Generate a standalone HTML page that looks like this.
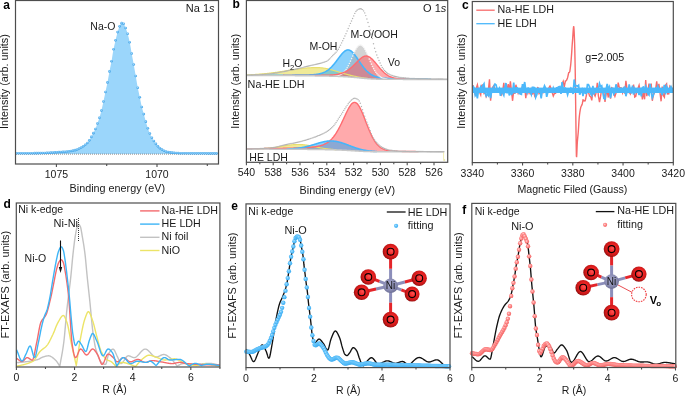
<!DOCTYPE html><html><head><meta charset="utf-8"><style>html,body{margin:0;padding:0;background:#fff;}svg{display:block;will-change:transform;font-family:"Liberation Sans",sans-serif;}</style></head><body>
<svg width="685" height="396" viewBox="0 0 685 396">
<rect width="685" height="396" fill="#fff"/>
<defs>
<radialGradient id="om" cx="0.55" cy="0.45" r="0.6" fx="0.56" fy="0.44"><stop offset="0" stop-color="#ff5252"/><stop offset="0.4" stop-color="#f02424"/><stop offset="0.75" stop-color="#c81818"/><stop offset="1" stop-color="#7e0c0c"/></radialGradient>
<radialGradient id="nim" cx="0.45" cy="0.4" r="0.62"><stop offset="0" stop-color="#a9abd0"/><stop offset="0.6" stop-color="#8d8fb6"/><stop offset="1" stop-color="#6a6c92"/></radialGradient>
<radialGradient id="ad" cx="0.45" cy="0.42" r="0.58"><stop offset="0" stop-color="#a6dbff"/><stop offset="0.6" stop-color="#5cb3ee"/><stop offset="1" stop-color="#3e9fe4"/></radialGradient>
<radialGradient id="bd" cx="0.42" cy="0.4" r="0.6"><stop offset="0" stop-color="#aee0ff"/><stop offset="0.45" stop-color="#60c2fa"/><stop offset="1" stop-color="#3cacf2"/></radialGradient>
<radialGradient id="pd" cx="0.42" cy="0.4" r="0.6"><stop offset="0" stop-color="#ffd6d6"/><stop offset="0.45" stop-color="#ff8c8c"/><stop offset="1" stop-color="#f26464"/></radialGradient>
</defs>
<text x="3.3" y="8.7" font-size="12" text-anchor="start" font-weight="bold" fill="#000" >a</text>
<path d="M16,154 L16,153.3 L16.5,153.29 L17,153.29 L17.5,153.28 L18,153.28 L18.5,153.28 L19,153.27 L19.5,153.27 L20,153.27 L20.5,153.26 L21,153.26 L21.5,153.26 L22,153.26 L22.5,153.25 L23,153.25 L23.5,153.25 L24,153.24 L24.5,153.24 L25,153.24 L25.5,153.23 L26,153.23 L26.5,153.23 L27,153.22 L27.5,153.22 L28,153.22 L28.5,153.21 L29,153.21 L29.5,153.21 L30,153.2 L30.5,153.2 L31,153.2 L31.5,153.19 L32,153.19 L32.5,153.18 L33,153.18 L33.5,153.18 L34,153.17 L34.5,153.17 L35,153.16 L35.5,153.16 L36,153.15 L36.5,153.15 L37,153.14 L37.5,153.13 L38,153.13 L38.5,153.12 L39,153.11 L39.5,153.11 L40,153.1 L40.5,153.09 L41,153.08 L41.5,153.07 L42,153.06 L42.5,153.04 L43,153.02 L43.5,153.01 L44,152.99 L44.5,152.97 L45,152.94 L45.5,152.92 L46,152.89 L46.5,152.87 L47,152.84 L47.5,152.81 L48,152.79 L48.5,152.76 L49,152.73 L49.5,152.69 L50,152.66 L50.5,152.63 L51,152.6 L51.5,152.56 L52,152.53 L52.5,152.5 L53,152.46 L53.5,152.43 L54,152.39 L54.5,152.36 L55,152.33 L55.5,152.29 L56,152.26 L56.5,152.22 L57,152.19 L57.5,152.16 L58,152.12 L58.5,152.09 L59,152.06 L59.5,152.03 L60,152 L60.5,151.97 L61,151.94 L61.5,151.91 L62,151.89 L62.5,151.86 L63,151.83 L63.5,151.8 L64,151.77 L64.5,151.74 L65,151.7 L65.5,151.67 L66,151.63 L66.5,151.58 L67,151.53 L67.5,151.48 L68,151.42 L68.5,151.36 L69,151.29 L69.5,151.22 L70,151.14 L70.5,151.06 L71,150.98 L71.5,150.9 L72,150.81 L72.5,150.72 L73,150.63 L73.5,150.53 L74,150.42 L74.5,150.31 L75,150.19 L75.5,150.06 L76,149.92 L76.5,149.77 L77,149.59 L77.5,149.38 L78,149.14 L78.5,148.89 L79,148.63 L79.5,148.37 L80,148.1 L80.5,147.84 L81,147.58 L81.5,147.31 L82,147.02 L82.5,146.72 L83,146.41 L83.5,146.09 L84,145.74 L84.5,145.38 L85,145 L85.5,144.6 L86,144.17 L86.5,143.7 L87,143.2 L87.5,142.66 L88,142.06 L88.5,141.42 L89,140.73 L89.5,140 L90,139.2 L90.5,138.34 L91,137.45 L91.5,136.57 L92,135.67 L92.5,134.74 L93,133.79 L93.5,132.81 L94,131.82 L94.5,130.79 L95,129.71 L95.5,128.56 L96,127.29 L96.5,125.94 L97,124.55 L97.5,123.18 L98,121.84 L98.5,120.46 L99,119.03 L99.5,117.48 L100,115.82 L100.5,114.04 L101,112.17 L101.5,110.2 L102,108.07 L102.5,105.81 L103,103.49 L103.5,101.17 L104,98.81 L104.5,96.42 L105,94.03 L105.5,91.66 L106,89.35 L106.5,87.04 L107,84.67 L107.5,82.19 L108,79.52 L108.5,76.74 L109,73.95 L109.5,71.28 L110,68.77 L110.5,66.32 L111,63.84 L111.5,61.2 L112,58.25 L112.5,55.09 L113,52.05 L113.5,49.39 L114,47 L114.5,44.77 L115,42.63 L115.5,40.5 L116,38.33 L116.5,36.18 L117,34.13 L117.5,32.3 L118,30.64 L118.5,29.09 L119,27.69 L119.5,26.5 L120,25.43 L120.5,24.46 L121,23.71 L121.5,23.24 L122,22.91 L122.5,22.81 L123,23.11 L123.5,23.61 L124,24.35 L124.5,25.35 L125,26.51 L125.5,27.7 L126,28.92 L126.5,30.23 L127,31.67 L127.5,33.23 L128,34.96 L128.5,36.91 L129,39.06 L129.5,41.36 L130,43.81 L130.5,46.58 L131,49.53 L131.5,52.44 L132,55.19 L132.5,57.89 L133,60.58 L133.5,63.29 L134,66.08 L134.5,68.91 L135,71.77 L135.5,74.65 L136,77.56 L136.5,80.57 L137,83.55 L137.5,86.37 L138,88.92 L138.5,91.3 L139,93.59 L139.5,95.88 L140,98.28 L140.5,100.83 L141,103.37 L141.5,105.74 L142,107.79 L142.5,109.61 L143,111.31 L143.5,112.99 L144,114.77 L144.5,116.64 L145,118.55 L145.5,120.42 L146,122.2 L146.5,123.94 L147,125.61 L147.5,127.2 L148,128.67 L148.5,130.07 L149,131.38 L149.5,132.63 L150,133.79 L150.5,134.91 L151,135.97 L151.5,136.97 L152,137.9 L152.5,138.76 L153,139.55 L153.5,140.31 L154,141.05 L154.5,141.8 L155,142.55 L155.5,143.28 L156,143.98 L156.5,144.63 L157,145.25 L157.5,145.84 L158,146.4 L158.5,146.91 L159,147.36 L159.5,147.79 L160,148.2 L160.5,148.57 L161,148.93 L161.5,149.27 L162,149.59 L162.5,149.91 L163,150.21 L163.5,150.49 L164,150.73 L164.5,150.94 L165,151.12 L165.5,151.3 L166,151.46 L166.5,151.62 L167,151.76 L167.5,151.89 L168,152.01 L168.5,152.11 L169,152.2 L169.5,152.28 L170,152.36 L170.5,152.43 L171,152.5 L171.5,152.57 L172,152.63 L172.5,152.69 L173,152.74 L173.5,152.79 L174,152.83 L174.5,152.87 L175,152.9 L175.5,152.93 L176,152.96 L176.5,152.99 L177,153.02 L177.5,153.05 L178,153.07 L178.5,153.1 L179,153.12 L179.5,153.15 L180,153.17 L180.5,153.19 L181,153.21 L181.5,153.23 L182,153.24 L182.5,153.26 L183,153.27 L183.5,153.28 L184,153.29 L184.5,153.3 L185,153.3 L185.5,153.3 L186,153.31 L186.5,153.31 L187,153.31 L187.5,153.32 L188,153.32 L188.5,153.32 L189,153.32 L189.5,153.33 L190,153.33 L190.5,153.33 L191,153.33 L191.5,153.33 L192,153.34 L192.5,153.34 L193,153.34 L193.5,153.34 L194,153.34 L194.5,153.35 L195,153.35 L195.5,153.35 L196,153.35 L196.5,153.35 L197,153.35 L197.5,153.35 L198,153.36 L198.5,153.36 L199,153.36 L199.5,153.36 L200,153.36 L200.5,153.36 L201,153.36 L201.5,153.36 L202,153.37 L202.5,153.37 L203,153.37 L203.5,153.37 L204,153.37 L204.5,153.37 L205,153.37 L205.5,153.37 L206,153.37 L206.5,153.37 L207,153.37 L207.5,153.38 L208,153.38 L208.5,153.38 L209,153.38 L209.5,153.38 L210,153.38 L210.5,153.38 L211,153.38 L211.5,153.38 L212,153.38 L212.5,153.39 L213,153.39 L213.5,153.39 L214,153.39 L214.5,153.39 L215,153.39 L215.5,153.39 L216,153.39 L216.5,153.39 L217,153.4 L217.5,153.4 L218,153.4 L218,154Z" fill="#9bd6fb"/>
<line x1="16" y1="154.1" x2="218" y2="154.1" stroke="#8a8a8a" stroke-width="1" stroke-dasharray="1 1"/>
<g fill="url(#ad)"><circle cx="16.56" cy="153.29" r="1.3"/><circle cx="18.58" cy="153.28" r="1.3"/><circle cx="20.6" cy="153.26" r="1.3"/><circle cx="22.62" cy="153.25" r="1.3"/><circle cx="24.64" cy="153.24" r="1.3"/><circle cx="26.66" cy="153.23" r="1.3"/><circle cx="28.68" cy="153.21" r="1.3"/><circle cx="30.7" cy="153.2" r="1.3"/><circle cx="32.72" cy="153.18" r="1.3"/><circle cx="34.74" cy="153.16" r="1.3"/><circle cx="36.76" cy="153.14" r="1.3"/><circle cx="38.78" cy="153.12" r="1.3"/><circle cx="40.8" cy="153.09" r="1.3"/><circle cx="42.82" cy="153.03" r="1.3"/><circle cx="44.84" cy="152.95" r="1.3"/><circle cx="46.86" cy="152.85" r="1.3"/><circle cx="48.88" cy="152.73" r="1.3"/><circle cx="50.9" cy="152.6" r="1.3"/><circle cx="52.92" cy="152.47" r="1.3"/><circle cx="54.94" cy="152.33" r="1.3"/><circle cx="56.96" cy="152.19" r="1.3"/><circle cx="58.98" cy="152.06" r="1.3"/><circle cx="61" cy="151.94" r="1.3"/><circle cx="63.02" cy="151.83" r="1.3"/><circle cx="65.04" cy="151.7" r="1.3"/><circle cx="67.06" cy="151.53" r="1.3"/><circle cx="69.08" cy="151.28" r="1.3"/><circle cx="71.1" cy="150.96" r="1.3"/><circle cx="73.12" cy="150.6" r="1.3"/><circle cx="75.14" cy="150.16" r="1.3"/><circle cx="77.16" cy="149.52" r="1.3"/><circle cx="79.18" cy="148.54" r="1.3"/><circle cx="81.2" cy="147.47" r="1.3"/><circle cx="83.22" cy="146.27" r="1.3"/><circle cx="85.24" cy="144.81" r="1.3"/><circle cx="87.26" cy="142.93" r="1.3"/><circle cx="89.28" cy="140.33" r="1.3"/><circle cx="91.3" cy="136.92" r="1.3"/><circle cx="93.32" cy="133.16" r="1.3"/><circle cx="95.34" cy="128.94" r="1.3"/><circle cx="97.36" cy="123.56" r="1.3"/><circle cx="99.38" cy="117.86" r="1.3"/><circle cx="101.4" cy="110.6" r="1.3"/><circle cx="103.42" cy="101.55" r="1.3"/><circle cx="105.44" cy="91.94" r="1.3"/><circle cx="107.46" cy="82.39" r="1.3"/><circle cx="109.48" cy="71.38" r="1.3"/><circle cx="111.5" cy="61.2" r="1.3"/><circle cx="113.52" cy="49.29" r="1.3"/><circle cx="115.54" cy="40.33" r="1.3"/><circle cx="117.56" cy="32.1" r="1.3"/><circle cx="119.58" cy="26.33" r="1.3"/><circle cx="121.6" cy="23.16" r="1.3"/><circle cx="123.62" cy="23.75" r="1.3"/><circle cx="125.64" cy="28.03" r="1.3"/><circle cx="127.66" cy="33.76" r="1.3"/><circle cx="129.68" cy="42.22" r="1.3"/><circle cx="131.7" cy="53.55" r="1.3"/><circle cx="133.72" cy="64.51" r="1.3"/><circle cx="135.74" cy="76.03" r="1.3"/><circle cx="137.76" cy="87.73" r="1.3"/><circle cx="139.78" cy="97.2" r="1.3"/><circle cx="141.8" cy="107.01" r="1.3"/><circle cx="143.82" cy="114.11" r="1.3"/><circle cx="145.84" cy="121.64" r="1.3"/><circle cx="147.86" cy="128.27" r="1.3"/><circle cx="149.88" cy="133.52" r="1.3"/><circle cx="151.9" cy="137.72" r="1.3"/><circle cx="153.92" cy="140.93" r="1.3"/><circle cx="155.94" cy="143.89" r="1.3"/><circle cx="157.96" cy="146.35" r="1.3"/><circle cx="159.98" cy="148.18" r="1.3"/><circle cx="162" cy="149.59" r="1.3"/><circle cx="164.02" cy="150.74" r="1.3"/><circle cx="166.04" cy="151.48" r="1.3"/><circle cx="168.06" cy="152.02" r="1.3"/><circle cx="170.08" cy="152.37" r="1.3"/><circle cx="172.1" cy="152.64" r="1.3"/><circle cx="174.12" cy="152.84" r="1.3"/><circle cx="176.14" cy="152.97" r="1.3"/><circle cx="178.16" cy="153.08" r="1.3"/><circle cx="180.18" cy="153.18" r="1.3"/><circle cx="182.2" cy="153.25" r="1.3"/><circle cx="184.22" cy="153.29" r="1.3"/><circle cx="186.24" cy="153.31" r="1.3"/><circle cx="188.26" cy="153.32" r="1.3"/><circle cx="190.28" cy="153.33" r="1.3"/><circle cx="192.3" cy="153.34" r="1.3"/><circle cx="194.32" cy="153.35" r="1.3"/><circle cx="196.34" cy="153.35" r="1.3"/><circle cx="198.36" cy="153.36" r="1.3"/><circle cx="200.38" cy="153.36" r="1.3"/><circle cx="202.4" cy="153.37" r="1.3"/><circle cx="204.42" cy="153.37" r="1.3"/><circle cx="206.44" cy="153.37" r="1.3"/><circle cx="208.46" cy="153.38" r="1.3"/><circle cx="210.48" cy="153.38" r="1.3"/><circle cx="212.5" cy="153.39" r="1.3"/><circle cx="214.52" cy="153.39" r="1.3"/><circle cx="216.54" cy="153.39" r="1.3"/></g>
<rect x="15.5" y="0.5" width="203" height="163.5" fill="none" stroke="#4d4d4d" stroke-width="1.2"/>
<path d="M56.4,164v3M157,164v3" stroke="#4d4d4d" stroke-width="1.1" fill="none"/>
<path d="M106.7,164v2M207.3,164v2" stroke="#4d4d4d" stroke-width="1.1" fill="none"/>
<text x="56.4" y="177.6" font-size="10.5" text-anchor="middle" font-weight="normal" fill="#1a1a1a" >1075</text>
<text x="157" y="177.6" font-size="10.5" text-anchor="middle" font-weight="normal" fill="#1a1a1a" >1070</text>
<text x="117.3" y="191.6" font-size="10.8" text-anchor="middle" font-weight="normal" fill="#1a1a1a" >Binding energy (eV)</text>
<text transform="translate(8.1,81.6) rotate(-90)" font-size="10.8" text-anchor="middle" fill="#1a1a1a">Intensity (arb. units)</text>
<text x="90.3" y="30.2" font-size="10.5" text-anchor="start" font-weight="normal" fill="#1a1a1a" >Na-O</text>
<text x="214.6" y="11.7" font-size="11" text-anchor="end" font-weight="normal" fill="#1a1a1a" >Na 1<tspan font-style="italic">s</tspan></text>
<text x="232.5" y="8.3" font-size="12" text-anchor="start" font-weight="bold" fill="#000" >b</text>
<path d="M247,74.9 L247.5,74.88 L248,74.86 L248.5,74.84 L249,74.81 L249.5,74.79 L250,74.77 L250.5,74.74 L251,74.72 L251.5,74.69 L252,74.67 L252.5,74.64 L253,74.61 L253.5,74.59 L254,74.56 L254.5,74.53 L255,74.5 L255.5,74.47 L256,74.43 L256.5,74.4 L257,74.37 L257.5,74.33 L258,74.29 L258.5,74.26 L259,74.22 L259.5,74.18 L260,74.14 L260.5,74.1 L261,74.06 L261.5,74.02 L262,73.97 L262.5,73.93 L263,73.88 L263.5,73.84 L264,73.79 L264.5,73.74 L265,73.69 L265.5,73.64 L266,73.59 L266.5,73.54 L267,73.49 L267.5,73.43 L268,73.38 L268.5,73.32 L269,73.26 L269.5,73.2 L270,73.15 L270.5,73.09 L271,73.02 L271.5,72.96 L272,72.9 L272.5,72.84 L273,72.77 L273.5,72.71 L274,72.64 L274.5,72.57 L275,72.5 L275.5,72.44 L276,72.37 L276.5,72.3 L277,72.22 L277.5,72.15 L278,72.08 L278.5,72.01 L279,71.93 L279.5,71.86 L280,71.78 L280.5,71.71 L281,71.63 L281.5,71.55 L282,71.48 L282.5,71.4 L283,71.32 L283.5,71.24 L284,71.16 L284.5,71.08 L285,71.01 L285.5,70.93 L286,70.85 L286.5,70.77 L287,70.69 L287.5,70.61 L288,70.53 L288.5,70.45 L289,70.37 L289.5,70.29 L290,70.21 L290.5,70.13 L291,70.05 L291.5,69.97 L292,69.9 L292.5,69.82 L293,69.74 L293.5,69.67 L294,69.59 L294.5,69.51 L295,69.44 L295.5,69.37 L296,69.29 L296.5,69.22 L297,69.15 L297.5,69.08 L298,69.01 L298.5,68.94 L299,68.88 L299.5,68.81 L300,68.75 L300.5,68.69 L301,68.62 L301.5,68.56 L302,68.5 L302.5,68.45 L303,68.39 L303.5,68.34 L304,68.29 L304.5,68.23 L305,68.19 L305.5,68.14 L306,68.09 L306.5,68.05 L307,68.01 L307.5,67.97 L308,67.93 L308.5,67.89 L309,67.86 L309.5,67.83 L310,67.8 L310.5,67.77 L311,67.74 L311.5,67.72 L312,67.7 L312.5,67.68 L313,67.66 L313.5,67.65 L314,67.64 L314.5,67.63 L315,67.62 L315.5,67.62 L316,67.61 L316.5,67.61 L317,67.61 L317.5,67.62 L318,67.63 L318.5,67.64 L319,67.65 L319.5,67.68 L320,67.71 L320.5,67.74 L321,67.78 L321.5,67.83 L322,67.88 L322.5,67.94 L323,68.01 L323.5,68.08 L324,68.15 L324.5,68.23 L325,68.32 L325.5,68.41 L326,68.5 L326.5,68.6 L327,68.71 L327.5,68.82 L328,68.93 L328.5,69.05 L329,69.17 L329.5,69.29 L330,69.42 L330.5,69.55 L331,69.69 L331.5,69.82 L332,69.96 L332.5,70.1 L333,70.25 L333.5,70.39 L334,70.54 L334.5,70.69 L335,70.84 L335.5,70.99 L336,71.14 L336.5,71.29 L337,71.45 L337.5,71.6 L338,71.76 L338.5,71.91 L339,72.06 L339.5,72.22 L340,72.37 L340.5,72.52 L341,72.67 L341.5,72.82 L342,72.97 L342.5,73.12 L343,73.27 L343.5,73.42 L344,73.56 L344.5,73.71 L345,73.85 L345.5,73.99 L346,74.13 L346.5,74.27 L347,74.41 L347.5,74.54 L348,74.67 L348.5,74.81 L349,74.94 L349.5,75.06 L350,75.19 L350.5,75.31 L351,75.44 L351.5,75.56 L352,75.68 L352.5,75.79 L353,75.91 L353.5,76.02 L354,76.13 L354.5,76.25 L355,76.35 L355.5,76.46 L356,76.56 L356.5,76.67 L357,76.77 L357.5,76.87 L358,76.97 L358.5,77.06 L359,77.15 L359.5,77.25 L360,77.33 L360.5,77.42 L361,77.51 L361.5,77.59 L362,77.67 L362.5,77.75 L363,77.83 L363.5,77.9 L364,77.97 L364.5,78.04 L365,78.11 L365.5,78.18 L366,78.24 L366.5,78.3 L367,78.36 L367.5,78.42 L368,78.47 L368.5,78.52 L369,78.57 L369.5,78.62 L370,78.66 L370.5,78.71 L371,78.75 L371.5,78.79 L372,78.82 L372.5,78.86 L373,78.89 L373.5,78.92 L374,78.95 L374.5,78.98 L375,79.01 L375.5,79.03 L376,79.06 L376.5,79.08 L377,79.1 L377.5,79.12 L378,79.14 L378.5,79.15 L379,79.17 L379.5,79.18 L380,79.2 L380.5,79.21 L381,79.22 L381.5,79.23 L382,79.24 L382.5,79.25 L383,79.26 L383.5,79.27 L384,79.28 L384.5,79.29 L385,79.29 L385.5,79.3 L386,79.31 L386.5,79.31 L387,79.32 L387.5,79.32 L388,79.33 L388.5,79.33 L389,79.33 L389.5,79.34 L390,79.34 L390.5,79.34 L391,79.34 L391.5,79.35 L392,79.35 L392.5,79.35 L393,79.35 L393.5,79.36 L394,79.36 L394.5,79.36 L395,79.36 L395.5,79.36 L396,79.36 L396.5,79.36 L397,79.37 L397.5,79.37 L398,79.37 L398.5,79.37 L399,79.37 L399.5,79.37 L400,79.37 L400.5,79.37 L401,79.37 L401.5,79.37 L402,79.37 L402.5,79.37 L403,79.38 L403.5,79.38 L404,79.38 L404.5,79.38 L405,79.38 L405.5,79.38 L406,79.38 L406.5,79.38 L407,79.38 L407.5,79.38 L408,79.38 L408.5,79.38 L409,79.38 L409.5,79.38 L410,79.38 L410.5,79.38 L411,79.38 L411.5,79.38 L412,79.38 L412.5,79.38 L413,79.38 L413.5,79.38 L414,79.39 L414.5,79.39 L415,79.39 L415.5,79.39 L416,79.39 L416.5,79.39 L417,79.39 L417.5,79.39 L418,79.39 L418.5,79.39 L419,79.39 L419.5,79.39 L420,79.39 L420.5,79.39 L421,79.39 L421.5,79.39 L422,79.39 L422.5,79.39 L423,79.39 L423.5,79.39 L424,79.39 L424.5,79.39 L425,79.39 L425.5,79.39 L426,79.39 L426.5,79.39 L427,79.39 L427.5,79.39 L428,79.39 L428.5,79.39 L429,79.39 L429.5,79.39 L430,79.39 L430.5,79.39 L431,79.39 L431.5,79.39 L432,79.39 L432.5,79.39 L433,79.4 L433.5,79.4 L434,79.4 L434.5,79.4 L435,79.4 L435.5,79.4 L436,79.4 L436.5,79.4 L437,79.4 L437.5,79.4 L438,79.4 L438.5,79.4 L439,79.4 L439.5,79.4 L440,79.4 L440.5,79.4 L441,79.4 L441.5,79.4 L442,79.4 L442.5,79.4 L443,79.4 L443.5,79.4 L444,79.4 L444.5,79.4 L445,79.4 L445.5,79.4 L446,79.4 L446.5,79.4 L447,79.4 L447,79.4 L446.5,79.4 L446,79.4 L445.5,79.4 L445,79.4 L444.5,79.4 L444,79.4 L443.5,79.4 L443,79.4 L442.5,79.4 L442,79.4 L441.5,79.4 L441,79.4 L440.5,79.4 L440,79.4 L439.5,79.4 L439,79.4 L438.5,79.4 L438,79.4 L437.5,79.4 L437,79.4 L436.5,79.4 L436,79.4 L435.5,79.4 L435,79.4 L434.5,79.4 L434,79.4 L433.5,79.4 L433,79.4 L432.5,79.39 L432,79.39 L431.5,79.39 L431,79.39 L430.5,79.39 L430,79.39 L429.5,79.39 L429,79.39 L428.5,79.39 L428,79.39 L427.5,79.39 L427,79.39 L426.5,79.39 L426,79.39 L425.5,79.39 L425,79.39 L424.5,79.39 L424,79.39 L423.5,79.39 L423,79.39 L422.5,79.39 L422,79.39 L421.5,79.39 L421,79.39 L420.5,79.39 L420,79.39 L419.5,79.39 L419,79.39 L418.5,79.39 L418,79.39 L417.5,79.39 L417,79.39 L416.5,79.39 L416,79.39 L415.5,79.39 L415,79.39 L414.5,79.39 L414,79.39 L413.5,79.38 L413,79.38 L412.5,79.38 L412,79.38 L411.5,79.38 L411,79.38 L410.5,79.38 L410,79.38 L409.5,79.38 L409,79.38 L408.5,79.38 L408,79.38 L407.5,79.38 L407,79.38 L406.5,79.38 L406,79.38 L405.5,79.38 L405,79.38 L404.5,79.38 L404,79.38 L403.5,79.38 L403,79.38 L402.5,79.37 L402,79.37 L401.5,79.37 L401,79.37 L400.5,79.37 L400,79.37 L399.5,79.37 L399,79.37 L398.5,79.37 L398,79.37 L397.5,79.37 L397,79.37 L396.5,79.37 L396,79.36 L395.5,79.36 L395,79.36 L394.5,79.36 L394,79.36 L393.5,79.36 L393,79.36 L392.5,79.35 L392,79.35 L391.5,79.35 L391,79.35 L390.5,79.35 L390,79.34 L389.5,79.34 L389,79.34 L388.5,79.33 L388,79.33 L387.5,79.33 L387,79.32 L386.5,79.32 L386,79.32 L385.5,79.31 L385,79.31 L384.5,79.3 L384,79.29 L383.5,79.29 L383,79.28 L382.5,79.27 L382,79.27 L381.5,79.26 L381,79.25 L380.5,79.24 L380,79.23 L379.5,79.22 L379,79.21 L378.5,79.19 L378,79.18 L377.5,79.17 L377,79.15 L376.5,79.13 L376,79.12 L375.5,79.1 L375,79.08 L374.5,79.06 L374,79.04 L373.5,79.02 L373,78.99 L372.5,78.97 L372,78.94 L371.5,78.91 L371,78.89 L370.5,78.86 L370,78.82 L369.5,78.79 L369,78.76 L368.5,78.72 L368,78.69 L367.5,78.65 L367,78.61 L366.5,78.57 L366,78.53 L365.5,78.49 L365,78.44 L364.5,78.4 L364,78.35 L363.5,78.31 L363,78.26 L362.5,78.21 L362,78.16 L361.5,78.11 L361,78.06 L360.5,78.02 L360,77.97 L359.5,77.92 L359,77.87 L358.5,77.82 L358,77.77 L357.5,77.72 L357,77.67 L356.5,77.62 L356,77.57 L355.5,77.52 L355,77.48 L354.5,77.43 L354,77.38 L353.5,77.34 L353,77.3 L352.5,77.25 L352,77.21 L351.5,77.17 L351,77.13 L350.5,77.09 L350,77.05 L349.5,77.01 L349,76.97 L348.5,76.94 L348,76.9 L347.5,76.87 L347,76.84 L346.5,76.8 L346,76.77 L345.5,76.74 L345,76.71 L344.5,76.68 L344,76.66 L343.5,76.63 L343,76.6 L342.5,76.58 L342,76.55 L341.5,76.53 L341,76.51 L340.5,76.48 L340,76.46 L339.5,76.44 L339,76.42 L338.5,76.4 L338,76.38 L337.5,76.36 L337,76.35 L336.5,76.33 L336,76.31 L335.5,76.3 L335,76.28 L334.5,76.27 L334,76.25 L333.5,76.24 L333,76.22 L332.5,76.21 L332,76.2 L331.5,76.18 L331,76.17 L330.5,76.16 L330,76.15 L329.5,76.14 L329,76.12 L328.5,76.11 L328,76.1 L327.5,76.09 L327,76.08 L326.5,76.07 L326,76.06 L325.5,76.05 L325,76.04 L324.5,76.03 L324,76.03 L323.5,76.02 L323,76.01 L322.5,76 L322,75.99 L321.5,75.98 L321,75.97 L320.5,75.97 L320,75.96 L319.5,75.95 L319,75.94 L318.5,75.93 L318,75.93 L317.5,75.92 L317,75.91 L316.5,75.9 L316,75.89 L315.5,75.89 L315,75.88 L314.5,75.87 L314,75.86 L313.5,75.86 L313,75.85 L312.5,75.84 L312,75.84 L311.5,75.83 L311,75.82 L310.5,75.81 L310,75.81 L309.5,75.8 L309,75.79 L308.5,75.79 L308,75.78 L307.5,75.77 L307,75.77 L306.5,75.76 L306,75.75 L305.5,75.75 L305,75.74 L304.5,75.74 L304,75.73 L303.5,75.72 L303,75.72 L302.5,75.71 L302,75.7 L301.5,75.7 L301,75.69 L300.5,75.69 L300,75.68 L299.5,75.68 L299,75.67 L298.5,75.66 L298,75.66 L297.5,75.65 L297,75.65 L296.5,75.64 L296,75.64 L295.5,75.63 L295,75.63 L294.5,75.62 L294,75.62 L293.5,75.61 L293,75.61 L292.5,75.6 L292,75.6 L291.5,75.59 L291,75.59 L290.5,75.58 L290,75.58 L289.5,75.57 L289,75.57 L288.5,75.57 L288,75.56 L287.5,75.56 L287,75.55 L286.5,75.55 L286,75.55 L285.5,75.54 L285,75.54 L284.5,75.53 L284,75.53 L283.5,75.53 L283,75.52 L282.5,75.52 L282,75.52 L281.5,75.51 L281,75.51 L280.5,75.51 L280,75.5 L279.5,75.5 L279,75.5 L278.5,75.49 L278,75.49 L277.5,75.49 L277,75.49 L276.5,75.48 L276,75.48 L275.5,75.48 L275,75.48 L274.5,75.47 L274,75.47 L273.5,75.47 L273,75.47 L272.5,75.46 L272,75.46 L271.5,75.46 L271,75.46 L270.5,75.46 L270,75.45 L269.5,75.45 L269,75.45 L268.5,75.45 L268,75.45 L267.5,75.44 L267,75.44 L266.5,75.44 L266,75.44 L265.5,75.44 L265,75.44 L264.5,75.43 L264,75.43 L263.5,75.43 L263,75.43 L262.5,75.43 L262,75.43 L261.5,75.43 L261,75.42 L260.5,75.42 L260,75.42 L259.5,75.42 L259,75.42 L258.5,75.42 L258,75.42 L257.5,75.42 L257,75.42 L256.5,75.41 L256,75.41 L255.5,75.41 L255,75.41 L254.5,75.41 L254,75.41 L253.5,75.41 L253,75.41 L252.5,75.41 L252,75.41 L251.5,75.41 L251,75.41 L250.5,75.4 L250,75.4 L249.5,75.4 L249,75.4 L248.5,75.4 L248,75.4 L247.5,75.4 L247,75.4Z" fill="#e1d531" fill-opacity="0.5"/>
<path d="M247,75.27 L247.5,75.26 L248,75.26 L248.5,75.26 L249,75.26 L249.5,75.26 L250,75.26 L250.5,75.26 L251,75.26 L251.5,75.26 L252,75.26 L252.5,75.26 L253,75.26 L253.5,75.26 L254,75.25 L254.5,75.25 L255,75.25 L255.5,75.25 L256,75.25 L256.5,75.25 L257,75.25 L257.5,75.25 L258,75.25 L258.5,75.25 L259,75.25 L259.5,75.25 L260,75.25 L260.5,75.24 L261,75.24 L261.5,75.24 L262,75.24 L262.5,75.24 L263,75.24 L263.5,75.24 L264,75.24 L264.5,75.24 L265,75.24 L265.5,75.24 L266,75.24 L266.5,75.24 L267,75.23 L267.5,75.23 L268,75.23 L268.5,75.23 L269,75.23 L269.5,75.23 L270,75.23 L270.5,75.23 L271,75.23 L271.5,75.23 L272,75.23 L272.5,75.23 L273,75.23 L273.5,75.22 L274,75.22 L274.5,75.22 L275,75.22 L275.5,75.22 L276,75.22 L276.5,75.22 L277,75.22 L277.5,75.22 L278,75.22 L278.5,75.22 L279,75.21 L279.5,75.21 L280,75.21 L280.5,75.21 L281,75.21 L281.5,75.21 L282,75.21 L282.5,75.21 L283,75.21 L283.5,75.2 L284,75.2 L284.5,75.2 L285,75.2 L285.5,75.2 L286,75.2 L286.5,75.2 L287,75.2 L287.5,75.19 L288,75.19 L288.5,75.19 L289,75.19 L289.5,75.19 L290,75.18 L290.5,75.18 L291,75.18 L291.5,75.18 L292,75.18 L292.5,75.17 L293,75.17 L293.5,75.17 L294,75.17 L294.5,75.16 L295,75.16 L295.5,75.16 L296,75.15 L296.5,75.15 L297,75.15 L297.5,75.14 L298,75.14 L298.5,75.13 L299,75.13 L299.5,75.12 L300,75.12 L300.5,75.11 L301,75.11 L301.5,75.1 L302,75.09 L302.5,75.09 L303,75.08 L303.5,75.07 L304,75.06 L304.5,75.05 L305,75.04 L305.5,75.03 L306,75.02 L306.5,75.01 L307,75 L307.5,74.98 L308,74.97 L308.5,74.95 L309,74.93 L309.5,74.92 L310,74.89 L310.5,74.87 L311,74.85 L311.5,74.82 L312,74.79 L312.5,74.76 L313,74.73 L313.5,74.69 L314,74.65 L314.5,74.6 L315,74.55 L315.5,74.5 L316,74.44 L316.5,74.38 L317,74.31 L317.5,74.23 L318,74.15 L318.5,74.06 L319,73.96 L319.5,73.85 L320,73.74 L320.5,73.61 L321,73.47 L321.5,73.32 L322,73.16 L322.5,72.99 L323,72.8 L323.5,72.6 L324,72.39 L324.5,72.16 L325,71.91 L325.5,71.64 L326,71.36 L326.5,71.06 L327,70.74 L327.5,70.4 L328,70.04 L328.5,69.66 L329,69.26 L329.5,68.85 L330,68.4 L330.5,67.94 L331,67.46 L331.5,66.96 L332,66.44 L332.5,65.9 L333,65.34 L333.5,64.76 L334,64.16 L334.5,63.55 L335,62.93 L335.5,62.29 L336,61.64 L336.5,60.98 L337,60.31 L337.5,59.64 L338,58.97 L338.5,58.29 L339,57.62 L339.5,56.96 L340,56.3 L340.5,55.65 L341,55.02 L341.5,54.41 L342,53.82 L342.5,53.26 L343,52.73 L343.5,52.23 L344,51.78 L344.5,51.36 L345,50.99 L345.5,50.67 L346,50.41 L346.5,50.19 L347,50.04 L347.5,49.95 L348,49.91 L348.5,49.94 L349,50.03 L349.5,50.19 L350,50.4 L350.5,50.67 L351,50.99 L351.5,51.37 L352,51.8 L352.5,52.28 L353,52.8 L353.5,53.36 L354,53.96 L354.5,54.58 L355,55.24 L355.5,55.91 L356,56.61 L356.5,57.32 L357,58.05 L357.5,58.78 L358,59.52 L358.5,60.26 L359,61.01 L359.5,61.75 L360,62.48 L360.5,63.21 L361,63.93 L361.5,64.63 L362,65.32 L362.5,66 L363,66.66 L363.5,67.3 L364,67.93 L364.5,68.53 L365,69.11 L365.5,69.67 L366,70.21 L366.5,70.73 L367,71.23 L367.5,71.7 L368,72.16 L368.5,72.59 L369,72.99 L369.5,73.38 L370,73.75 L370.5,74.09 L371,74.42 L371.5,74.73 L372,75.01 L372.5,75.28 L373,75.54 L373.5,75.77 L374,75.99 L374.5,76.2 L375,76.39 L375.5,76.57 L376,76.73 L376.5,76.89 L377,77.03 L377.5,77.16 L378,77.28 L378.5,77.4 L379,77.5 L379.5,77.6 L380,77.69 L380.5,77.77 L381,77.85 L381.5,77.92 L382,77.99 L382.5,78.05 L383,78.1 L383.5,78.16 L384,78.2 L384.5,78.25 L385,78.29 L385.5,78.33 L386,78.37 L386.5,78.4 L387,78.43 L387.5,78.46 L388,78.49 L388.5,78.52 L389,78.54 L389.5,78.57 L390,78.59 L390.5,78.61 L391,78.63 L391.5,78.65 L392,78.67 L392.5,78.68 L393,78.7 L393.5,78.72 L394,78.73 L394.5,78.75 L395,78.76 L395.5,78.77 L396,78.79 L396.5,78.8 L397,78.81 L397.5,78.82 L398,78.83 L398.5,78.85 L399,78.86 L399.5,78.87 L400,78.88 L400.5,78.89 L401,78.9 L401.5,78.9 L402,78.91 L402.5,78.92 L403,78.93 L403.5,78.94 L404,78.95 L404.5,78.95 L405,78.96 L405.5,78.97 L406,78.98 L406.5,78.98 L407,78.99 L407.5,79 L408,79 L408.5,79.01 L409,79.02 L409.5,79.02 L410,79.03 L410.5,79.03 L411,79.04 L411.5,79.05 L412,79.05 L412.5,79.06 L413,79.06 L413.5,79.07 L414,79.07 L414.5,79.08 L415,79.08 L415.5,79.09 L416,79.09 L416.5,79.09 L417,79.1 L417.5,79.1 L418,79.11 L418.5,79.11 L419,79.12 L419.5,79.12 L420,79.12 L420.5,79.13 L421,79.13 L421.5,79.14 L422,79.14 L422.5,79.14 L423,79.15 L423.5,79.15 L424,79.15 L424.5,79.16 L425,79.16 L425.5,79.16 L426,79.17 L426.5,79.17 L427,79.17 L427.5,79.17 L428,79.18 L428.5,79.18 L429,79.18 L429.5,79.19 L430,79.19 L430.5,79.19 L431,79.19 L431.5,79.2 L432,79.2 L432.5,79.2 L433,79.2 L433.5,79.21 L434,79.21 L434.5,79.21 L435,79.21 L435.5,79.22 L436,79.22 L436.5,79.22 L437,79.22 L437.5,79.22 L438,79.23 L438.5,79.23 L439,79.23 L439.5,79.23 L440,79.23 L440.5,79.24 L441,79.24 L441.5,79.24 L442,79.24 L442.5,79.24 L443,79.24 L443.5,79.25 L444,79.25 L444.5,79.25 L445,79.25 L445.5,79.25 L446,79.25 L446.5,79.26 L447,79.26 L447,79.4 L446.5,79.4 L446,79.4 L445.5,79.4 L445,79.4 L444.5,79.4 L444,79.4 L443.5,79.4 L443,79.4 L442.5,79.4 L442,79.4 L441.5,79.4 L441,79.4 L440.5,79.4 L440,79.4 L439.5,79.4 L439,79.4 L438.5,79.4 L438,79.4 L437.5,79.4 L437,79.4 L436.5,79.4 L436,79.4 L435.5,79.4 L435,79.4 L434.5,79.4 L434,79.4 L433.5,79.4 L433,79.4 L432.5,79.39 L432,79.39 L431.5,79.39 L431,79.39 L430.5,79.39 L430,79.39 L429.5,79.39 L429,79.39 L428.5,79.39 L428,79.39 L427.5,79.39 L427,79.39 L426.5,79.39 L426,79.39 L425.5,79.39 L425,79.39 L424.5,79.39 L424,79.39 L423.5,79.39 L423,79.39 L422.5,79.39 L422,79.39 L421.5,79.39 L421,79.39 L420.5,79.39 L420,79.39 L419.5,79.39 L419,79.39 L418.5,79.39 L418,79.39 L417.5,79.39 L417,79.39 L416.5,79.39 L416,79.39 L415.5,79.39 L415,79.39 L414.5,79.39 L414,79.39 L413.5,79.38 L413,79.38 L412.5,79.38 L412,79.38 L411.5,79.38 L411,79.38 L410.5,79.38 L410,79.38 L409.5,79.38 L409,79.38 L408.5,79.38 L408,79.38 L407.5,79.38 L407,79.38 L406.5,79.38 L406,79.38 L405.5,79.38 L405,79.38 L404.5,79.38 L404,79.38 L403.5,79.38 L403,79.38 L402.5,79.37 L402,79.37 L401.5,79.37 L401,79.37 L400.5,79.37 L400,79.37 L399.5,79.37 L399,79.37 L398.5,79.37 L398,79.37 L397.5,79.37 L397,79.37 L396.5,79.37 L396,79.36 L395.5,79.36 L395,79.36 L394.5,79.36 L394,79.36 L393.5,79.36 L393,79.36 L392.5,79.35 L392,79.35 L391.5,79.35 L391,79.35 L390.5,79.35 L390,79.34 L389.5,79.34 L389,79.34 L388.5,79.33 L388,79.33 L387.5,79.33 L387,79.32 L386.5,79.32 L386,79.32 L385.5,79.31 L385,79.31 L384.5,79.3 L384,79.29 L383.5,79.29 L383,79.28 L382.5,79.27 L382,79.27 L381.5,79.26 L381,79.25 L380.5,79.24 L380,79.23 L379.5,79.22 L379,79.21 L378.5,79.19 L378,79.18 L377.5,79.17 L377,79.15 L376.5,79.13 L376,79.12 L375.5,79.1 L375,79.08 L374.5,79.06 L374,79.04 L373.5,79.02 L373,78.99 L372.5,78.97 L372,78.94 L371.5,78.91 L371,78.89 L370.5,78.86 L370,78.82 L369.5,78.79 L369,78.76 L368.5,78.72 L368,78.69 L367.5,78.65 L367,78.61 L366.5,78.57 L366,78.53 L365.5,78.49 L365,78.44 L364.5,78.4 L364,78.35 L363.5,78.31 L363,78.26 L362.5,78.21 L362,78.16 L361.5,78.11 L361,78.06 L360.5,78.02 L360,77.97 L359.5,77.92 L359,77.87 L358.5,77.82 L358,77.77 L357.5,77.72 L357,77.67 L356.5,77.62 L356,77.57 L355.5,77.52 L355,77.48 L354.5,77.43 L354,77.38 L353.5,77.34 L353,77.3 L352.5,77.25 L352,77.21 L351.5,77.17 L351,77.13 L350.5,77.09 L350,77.05 L349.5,77.01 L349,76.97 L348.5,76.94 L348,76.9 L347.5,76.87 L347,76.84 L346.5,76.8 L346,76.77 L345.5,76.74 L345,76.71 L344.5,76.68 L344,76.66 L343.5,76.63 L343,76.6 L342.5,76.58 L342,76.55 L341.5,76.53 L341,76.51 L340.5,76.48 L340,76.46 L339.5,76.44 L339,76.42 L338.5,76.4 L338,76.38 L337.5,76.36 L337,76.35 L336.5,76.33 L336,76.31 L335.5,76.3 L335,76.28 L334.5,76.27 L334,76.25 L333.5,76.24 L333,76.22 L332.5,76.21 L332,76.2 L331.5,76.18 L331,76.17 L330.5,76.16 L330,76.15 L329.5,76.14 L329,76.12 L328.5,76.11 L328,76.1 L327.5,76.09 L327,76.08 L326.5,76.07 L326,76.06 L325.5,76.05 L325,76.04 L324.5,76.03 L324,76.03 L323.5,76.02 L323,76.01 L322.5,76 L322,75.99 L321.5,75.98 L321,75.97 L320.5,75.97 L320,75.96 L319.5,75.95 L319,75.94 L318.5,75.93 L318,75.93 L317.5,75.92 L317,75.91 L316.5,75.9 L316,75.89 L315.5,75.89 L315,75.88 L314.5,75.87 L314,75.86 L313.5,75.86 L313,75.85 L312.5,75.84 L312,75.84 L311.5,75.83 L311,75.82 L310.5,75.81 L310,75.81 L309.5,75.8 L309,75.79 L308.5,75.79 L308,75.78 L307.5,75.77 L307,75.77 L306.5,75.76 L306,75.75 L305.5,75.75 L305,75.74 L304.5,75.74 L304,75.73 L303.5,75.72 L303,75.72 L302.5,75.71 L302,75.7 L301.5,75.7 L301,75.69 L300.5,75.69 L300,75.68 L299.5,75.68 L299,75.67 L298.5,75.66 L298,75.66 L297.5,75.65 L297,75.65 L296.5,75.64 L296,75.64 L295.5,75.63 L295,75.63 L294.5,75.62 L294,75.62 L293.5,75.61 L293,75.61 L292.5,75.6 L292,75.6 L291.5,75.59 L291,75.59 L290.5,75.58 L290,75.58 L289.5,75.57 L289,75.57 L288.5,75.57 L288,75.56 L287.5,75.56 L287,75.55 L286.5,75.55 L286,75.55 L285.5,75.54 L285,75.54 L284.5,75.53 L284,75.53 L283.5,75.53 L283,75.52 L282.5,75.52 L282,75.52 L281.5,75.51 L281,75.51 L280.5,75.51 L280,75.5 L279.5,75.5 L279,75.5 L278.5,75.49 L278,75.49 L277.5,75.49 L277,75.49 L276.5,75.48 L276,75.48 L275.5,75.48 L275,75.48 L274.5,75.47 L274,75.47 L273.5,75.47 L273,75.47 L272.5,75.46 L272,75.46 L271.5,75.46 L271,75.46 L270.5,75.46 L270,75.45 L269.5,75.45 L269,75.45 L268.5,75.45 L268,75.45 L267.5,75.44 L267,75.44 L266.5,75.44 L266,75.44 L265.5,75.44 L265,75.44 L264.5,75.43 L264,75.43 L263.5,75.43 L263,75.43 L262.5,75.43 L262,75.43 L261.5,75.43 L261,75.42 L260.5,75.42 L260,75.42 L259.5,75.42 L259,75.42 L258.5,75.42 L258,75.42 L257.5,75.42 L257,75.42 L256.5,75.41 L256,75.41 L255.5,75.41 L255,75.41 L254.5,75.41 L254,75.41 L253.5,75.41 L253,75.41 L252.5,75.41 L252,75.41 L251.5,75.41 L251,75.41 L250.5,75.4 L250,75.4 L249.5,75.4 L249,75.4 L248.5,75.4 L248,75.4 L247.5,75.4 L247,75.4Z" fill="#19a5f9" fill-opacity="0.5"/>
<path d="M247,75.4 L247.5,75.4 L248,75.4 L248.5,75.4 L249,75.4 L249.5,75.4 L250,75.4 L250.5,75.4 L251,75.41 L251.5,75.41 L252,75.41 L252.5,75.41 L253,75.41 L253.5,75.41 L254,75.41 L254.5,75.41 L255,75.41 L255.5,75.41 L256,75.41 L256.5,75.41 L257,75.42 L257.5,75.42 L258,75.42 L258.5,75.42 L259,75.42 L259.5,75.42 L260,75.42 L260.5,75.42 L261,75.42 L261.5,75.43 L262,75.43 L262.5,75.43 L263,75.43 L263.5,75.43 L264,75.43 L264.5,75.43 L265,75.44 L265.5,75.44 L266,75.44 L266.5,75.44 L267,75.44 L267.5,75.44 L268,75.45 L268.5,75.45 L269,75.45 L269.5,75.45 L270,75.45 L270.5,75.46 L271,75.46 L271.5,75.46 L272,75.46 L272.5,75.46 L273,75.47 L273.5,75.47 L274,75.47 L274.5,75.47 L275,75.48 L275.5,75.48 L276,75.48 L276.5,75.48 L277,75.49 L277.5,75.49 L278,75.49 L278.5,75.49 L279,75.5 L279.5,75.5 L280,75.5 L280.5,75.51 L281,75.51 L281.5,75.51 L282,75.52 L282.5,75.52 L283,75.52 L283.5,75.53 L284,75.53 L284.5,75.53 L285,75.54 L285.5,75.54 L286,75.55 L286.5,75.55 L287,75.55 L287.5,75.56 L288,75.56 L288.5,75.57 L289,75.57 L289.5,75.57 L290,75.58 L290.5,75.58 L291,75.59 L291.5,75.59 L292,75.6 L292.5,75.6 L293,75.61 L293.5,75.61 L294,75.62 L294.5,75.62 L295,75.63 L295.5,75.63 L296,75.64 L296.5,75.64 L297,75.65 L297.5,75.65 L298,75.66 L298.5,75.66 L299,75.67 L299.5,75.68 L300,75.68 L300.5,75.69 L301,75.69 L301.5,75.7 L302,75.7 L302.5,75.71 L303,75.72 L303.5,75.72 L304,75.73 L304.5,75.74 L305,75.74 L305.5,75.75 L306,75.75 L306.5,75.76 L307,75.77 L307.5,75.77 L308,75.78 L308.5,75.79 L309,75.79 L309.5,75.8 L310,75.81 L310.5,75.81 L311,75.82 L311.5,75.83 L312,75.84 L312.5,75.84 L313,75.85 L313.5,75.86 L314,75.86 L314.5,75.87 L315,75.88 L315.5,75.89 L316,75.89 L316.5,75.9 L317,75.91 L317.5,75.92 L318,75.92 L318.5,75.93 L319,75.94 L319.5,75.95 L320,75.96 L320.5,75.96 L321,75.97 L321.5,75.98 L322,75.99 L322.5,76 L323,76.01 L323.5,76.02 L324,76.02 L324.5,76.03 L325,76.04 L325.5,76.05 L326,76.06 L326.5,76.07 L327,76.07 L327.5,76.08 L328,76.09 L328.5,76.09 L329,76.1 L329.5,76.11 L330,76.11 L330.5,76.11 L331,76.11 L331.5,76.11 L332,76.11 L332.5,76.1 L333,76.09 L333.5,76.07 L334,76.05 L334.5,76.02 L335,75.99 L335.5,75.94 L336,75.89 L336.5,75.82 L337,75.75 L337.5,75.65 L338,75.55 L338.5,75.42 L339,75.27 L339.5,75.1 L340,74.9 L340.5,74.67 L341,74.42 L341.5,74.13 L342,73.8 L342.5,73.43 L343,73.03 L343.5,72.58 L344,72.08 L344.5,71.54 L345,70.94 L345.5,70.3 L346,69.6 L346.5,68.85 L347,68.04 L347.5,67.19 L348,66.29 L348.5,65.33 L349,64.34 L349.5,63.3 L350,62.22 L350.5,61.12 L351,59.99 L351.5,58.84 L352,57.68 L352.5,56.51 L353,55.36 L353.5,54.22 L354,53.1 L354.5,52.02 L355,50.98 L355.5,50 L356,49.08 L356.5,48.24 L357,47.48 L357.5,46.8 L358,46.23 L358.5,45.76 L359,45.4 L359.5,45.15 L360,45.03 L360.5,45.02 L361,45.12 L361.5,45.34 L362,45.66 L362.5,46.09 L363,46.62 L363.5,47.25 L364,47.97 L364.5,48.78 L365,49.66 L365.5,50.62 L366,51.63 L366.5,52.7 L367,53.81 L367.5,54.95 L368,56.12 L368.5,57.31 L369,58.51 L369.5,59.71 L370,60.9 L370.5,62.07 L371,63.23 L371.5,64.35 L372,65.45 L372.5,66.5 L373,67.52 L373.5,68.49 L374,69.41 L374.5,70.29 L375,71.12 L375.5,71.89 L376,72.61 L376.5,73.29 L377,73.91 L377.5,74.49 L378,75.02 L378.5,75.5 L379,75.94 L379.5,76.34 L380,76.7 L380.5,77.03 L381,77.32 L381.5,77.58 L382,77.82 L382.5,78.02 L383,78.2 L383.5,78.36 L384,78.51 L384.5,78.63 L385,78.74 L385.5,78.83 L386,78.91 L386.5,78.98 L387,79.04 L387.5,79.09 L388,79.13 L388.5,79.17 L389,79.2 L389.5,79.23 L390,79.25 L390.5,79.27 L391,79.29 L391.5,79.3 L392,79.31 L392.5,79.32 L393,79.33 L393.5,79.34 L394,79.34 L394.5,79.35 L395,79.35 L395.5,79.35 L396,79.36 L396.5,79.36 L397,79.36 L397.5,79.36 L398,79.37 L398.5,79.37 L399,79.37 L399.5,79.37 L400,79.37 L400.5,79.37 L401,79.37 L401.5,79.37 L402,79.37 L402.5,79.37 L403,79.38 L403.5,79.38 L404,79.38 L404.5,79.38 L405,79.38 L405.5,79.38 L406,79.38 L406.5,79.38 L407,79.38 L407.5,79.38 L408,79.38 L408.5,79.38 L409,79.38 L409.5,79.38 L410,79.38 L410.5,79.38 L411,79.38 L411.5,79.38 L412,79.38 L412.5,79.38 L413,79.38 L413.5,79.38 L414,79.39 L414.5,79.39 L415,79.39 L415.5,79.39 L416,79.39 L416.5,79.39 L417,79.39 L417.5,79.39 L418,79.39 L418.5,79.39 L419,79.39 L419.5,79.39 L420,79.39 L420.5,79.39 L421,79.39 L421.5,79.39 L422,79.39 L422.5,79.39 L423,79.39 L423.5,79.39 L424,79.39 L424.5,79.39 L425,79.39 L425.5,79.39 L426,79.39 L426.5,79.39 L427,79.39 L427.5,79.39 L428,79.39 L428.5,79.39 L429,79.39 L429.5,79.39 L430,79.39 L430.5,79.39 L431,79.39 L431.5,79.39 L432,79.39 L432.5,79.39 L433,79.4 L433.5,79.4 L434,79.4 L434.5,79.4 L435,79.4 L435.5,79.4 L436,79.4 L436.5,79.4 L437,79.4 L437.5,79.4 L438,79.4 L438.5,79.4 L439,79.4 L439.5,79.4 L440,79.4 L440.5,79.4 L441,79.4 L441.5,79.4 L442,79.4 L442.5,79.4 L443,79.4 L443.5,79.4 L444,79.4 L444.5,79.4 L445,79.4 L445.5,79.4 L446,79.4 L446.5,79.4 L447,79.4 L447,79.4 L446.5,79.4 L446,79.4 L445.5,79.4 L445,79.4 L444.5,79.4 L444,79.4 L443.5,79.4 L443,79.4 L442.5,79.4 L442,79.4 L441.5,79.4 L441,79.4 L440.5,79.4 L440,79.4 L439.5,79.4 L439,79.4 L438.5,79.4 L438,79.4 L437.5,79.4 L437,79.4 L436.5,79.4 L436,79.4 L435.5,79.4 L435,79.4 L434.5,79.4 L434,79.4 L433.5,79.4 L433,79.4 L432.5,79.39 L432,79.39 L431.5,79.39 L431,79.39 L430.5,79.39 L430,79.39 L429.5,79.39 L429,79.39 L428.5,79.39 L428,79.39 L427.5,79.39 L427,79.39 L426.5,79.39 L426,79.39 L425.5,79.39 L425,79.39 L424.5,79.39 L424,79.39 L423.5,79.39 L423,79.39 L422.5,79.39 L422,79.39 L421.5,79.39 L421,79.39 L420.5,79.39 L420,79.39 L419.5,79.39 L419,79.39 L418.5,79.39 L418,79.39 L417.5,79.39 L417,79.39 L416.5,79.39 L416,79.39 L415.5,79.39 L415,79.39 L414.5,79.39 L414,79.39 L413.5,79.38 L413,79.38 L412.5,79.38 L412,79.38 L411.5,79.38 L411,79.38 L410.5,79.38 L410,79.38 L409.5,79.38 L409,79.38 L408.5,79.38 L408,79.38 L407.5,79.38 L407,79.38 L406.5,79.38 L406,79.38 L405.5,79.38 L405,79.38 L404.5,79.38 L404,79.38 L403.5,79.38 L403,79.38 L402.5,79.37 L402,79.37 L401.5,79.37 L401,79.37 L400.5,79.37 L400,79.37 L399.5,79.37 L399,79.37 L398.5,79.37 L398,79.37 L397.5,79.37 L397,79.37 L396.5,79.37 L396,79.36 L395.5,79.36 L395,79.36 L394.5,79.36 L394,79.36 L393.5,79.36 L393,79.36 L392.5,79.35 L392,79.35 L391.5,79.35 L391,79.35 L390.5,79.35 L390,79.34 L389.5,79.34 L389,79.34 L388.5,79.33 L388,79.33 L387.5,79.33 L387,79.32 L386.5,79.32 L386,79.32 L385.5,79.31 L385,79.31 L384.5,79.3 L384,79.29 L383.5,79.29 L383,79.28 L382.5,79.27 L382,79.27 L381.5,79.26 L381,79.25 L380.5,79.24 L380,79.23 L379.5,79.22 L379,79.21 L378.5,79.19 L378,79.18 L377.5,79.17 L377,79.15 L376.5,79.13 L376,79.12 L375.5,79.1 L375,79.08 L374.5,79.06 L374,79.04 L373.5,79.02 L373,78.99 L372.5,78.97 L372,78.94 L371.5,78.91 L371,78.89 L370.5,78.86 L370,78.82 L369.5,78.79 L369,78.76 L368.5,78.72 L368,78.69 L367.5,78.65 L367,78.61 L366.5,78.57 L366,78.53 L365.5,78.49 L365,78.44 L364.5,78.4 L364,78.35 L363.5,78.31 L363,78.26 L362.5,78.21 L362,78.16 L361.5,78.11 L361,78.06 L360.5,78.02 L360,77.97 L359.5,77.92 L359,77.87 L358.5,77.82 L358,77.77 L357.5,77.72 L357,77.67 L356.5,77.62 L356,77.57 L355.5,77.52 L355,77.48 L354.5,77.43 L354,77.38 L353.5,77.34 L353,77.3 L352.5,77.25 L352,77.21 L351.5,77.17 L351,77.13 L350.5,77.09 L350,77.05 L349.5,77.01 L349,76.97 L348.5,76.94 L348,76.9 L347.5,76.87 L347,76.84 L346.5,76.8 L346,76.77 L345.5,76.74 L345,76.71 L344.5,76.68 L344,76.66 L343.5,76.63 L343,76.6 L342.5,76.58 L342,76.55 L341.5,76.53 L341,76.51 L340.5,76.48 L340,76.46 L339.5,76.44 L339,76.42 L338.5,76.4 L338,76.38 L337.5,76.36 L337,76.35 L336.5,76.33 L336,76.31 L335.5,76.3 L335,76.28 L334.5,76.27 L334,76.25 L333.5,76.24 L333,76.22 L332.5,76.21 L332,76.2 L331.5,76.18 L331,76.17 L330.5,76.16 L330,76.15 L329.5,76.14 L329,76.12 L328.5,76.11 L328,76.1 L327.5,76.09 L327,76.08 L326.5,76.07 L326,76.06 L325.5,76.05 L325,76.04 L324.5,76.03 L324,76.03 L323.5,76.02 L323,76.01 L322.5,76 L322,75.99 L321.5,75.98 L321,75.97 L320.5,75.97 L320,75.96 L319.5,75.95 L319,75.94 L318.5,75.93 L318,75.93 L317.5,75.92 L317,75.91 L316.5,75.9 L316,75.89 L315.5,75.89 L315,75.88 L314.5,75.87 L314,75.86 L313.5,75.86 L313,75.85 L312.5,75.84 L312,75.84 L311.5,75.83 L311,75.82 L310.5,75.81 L310,75.81 L309.5,75.8 L309,75.79 L308.5,75.79 L308,75.78 L307.5,75.77 L307,75.77 L306.5,75.76 L306,75.75 L305.5,75.75 L305,75.74 L304.5,75.74 L304,75.73 L303.5,75.72 L303,75.72 L302.5,75.71 L302,75.7 L301.5,75.7 L301,75.69 L300.5,75.69 L300,75.68 L299.5,75.68 L299,75.67 L298.5,75.66 L298,75.66 L297.5,75.65 L297,75.65 L296.5,75.64 L296,75.64 L295.5,75.63 L295,75.63 L294.5,75.62 L294,75.62 L293.5,75.61 L293,75.61 L292.5,75.6 L292,75.6 L291.5,75.59 L291,75.59 L290.5,75.58 L290,75.58 L289.5,75.57 L289,75.57 L288.5,75.57 L288,75.56 L287.5,75.56 L287,75.55 L286.5,75.55 L286,75.55 L285.5,75.54 L285,75.54 L284.5,75.53 L284,75.53 L283.5,75.53 L283,75.52 L282.5,75.52 L282,75.52 L281.5,75.51 L281,75.51 L280.5,75.51 L280,75.5 L279.5,75.5 L279,75.5 L278.5,75.49 L278,75.49 L277.5,75.49 L277,75.49 L276.5,75.48 L276,75.48 L275.5,75.48 L275,75.48 L274.5,75.47 L274,75.47 L273.5,75.47 L273,75.47 L272.5,75.46 L272,75.46 L271.5,75.46 L271,75.46 L270.5,75.46 L270,75.45 L269.5,75.45 L269,75.45 L268.5,75.45 L268,75.45 L267.5,75.44 L267,75.44 L266.5,75.44 L266,75.44 L265.5,75.44 L265,75.44 L264.5,75.43 L264,75.43 L263.5,75.43 L263,75.43 L262.5,75.43 L262,75.43 L261.5,75.43 L261,75.42 L260.5,75.42 L260,75.42 L259.5,75.42 L259,75.42 L258.5,75.42 L258,75.42 L257.5,75.42 L257,75.42 L256.5,75.41 L256,75.41 L255.5,75.41 L255,75.41 L254.5,75.41 L254,75.41 L253.5,75.41 L253,75.41 L252.5,75.41 L252,75.41 L251.5,75.41 L251,75.41 L250.5,75.4 L250,75.4 L249.5,75.4 L249,75.4 L248.5,75.4 L248,75.4 L247.5,75.4 L247,75.4Z" fill="#a7a7a7" fill-opacity="0.5"/>
<path d="M247,75.3 L247.5,75.3 L248,75.3 L248.5,75.3 L249,75.3 L249.5,75.3 L250,75.3 L250.5,75.3 L251,75.3 L251.5,75.3 L252,75.3 L252.5,75.3 L253,75.3 L253.5,75.3 L254,75.3 L254.5,75.3 L255,75.3 L255.5,75.3 L256,75.3 L256.5,75.3 L257,75.3 L257.5,75.3 L258,75.3 L258.5,75.3 L259,75.3 L259.5,75.3 L260,75.3 L260.5,75.3 L261,75.3 L261.5,75.3 L262,75.3 L262.5,75.3 L263,75.3 L263.5,75.3 L264,75.3 L264.5,75.3 L265,75.3 L265.5,75.3 L266,75.3 L266.5,75.3 L267,75.3 L267.5,75.3 L268,75.3 L268.5,75.3 L269,75.3 L269.5,75.3 L270,75.3 L270.5,75.3 L271,75.3 L271.5,75.3 L272,75.3 L272.5,75.3 L273,75.3 L273.5,75.3 L274,75.31 L274.5,75.31 L275,75.31 L275.5,75.31 L276,75.31 L276.5,75.31 L277,75.31 L277.5,75.31 L278,75.31 L278.5,75.31 L279,75.31 L279.5,75.31 L280,75.32 L280.5,75.32 L281,75.32 L281.5,75.32 L282,75.32 L282.5,75.32 L283,75.32 L283.5,75.32 L284,75.32 L284.5,75.33 L285,75.33 L285.5,75.33 L286,75.33 L286.5,75.33 L287,75.33 L287.5,75.33 L288,75.33 L288.5,75.34 L289,75.34 L289.5,75.34 L290,75.34 L290.5,75.34 L291,75.34 L291.5,75.34 L292,75.35 L292.5,75.35 L293,75.35 L293.5,75.35 L294,75.35 L294.5,75.35 L295,75.35 L295.5,75.36 L296,75.36 L296.5,75.36 L297,75.36 L297.5,75.36 L298,75.36 L298.5,75.36 L299,75.37 L299.5,75.37 L300,75.37 L300.5,75.37 L301,75.37 L301.5,75.37 L302,75.37 L302.5,75.37 L303,75.37 L303.5,75.38 L304,75.38 L304.5,75.38 L305,75.38 L305.5,75.38 L306,75.38 L306.5,75.38 L307,75.38 L307.5,75.38 L308,75.38 L308.5,75.38 L309,75.38 L309.5,75.38 L310,75.38 L310.5,75.38 L311,75.38 L311.5,75.38 L312,75.38 L312.5,75.38 L313,75.38 L313.5,75.37 L314,75.37 L314.5,75.37 L315,75.37 L315.5,75.37 L316,75.37 L316.5,75.36 L317,75.36 L317.5,75.36 L318,75.35 L318.5,75.35 L319,75.35 L319.5,75.34 L320,75.34 L320.5,75.33 L321,75.33 L321.5,75.32 L322,75.32 L322.5,75.31 L323,75.3 L323.5,75.29 L324,75.28 L324.5,75.27 L325,75.26 L325.5,75.25 L326,75.24 L326.5,75.23 L327,75.21 L327.5,75.2 L328,75.18 L328.5,75.16 L329,75.14 L329.5,75.12 L330,75.1 L330.5,75.07 L331,75.05 L331.5,75.02 L332,74.98 L332.5,74.95 L333,74.91 L333.5,74.86 L334,74.82 L334.5,74.76 L335,74.71 L335.5,74.65 L336,74.58 L336.5,74.51 L337,74.43 L337.5,74.35 L338,74.25 L338.5,74.15 L339,74.05 L339.5,73.93 L340,73.8 L340.5,73.67 L341,73.52 L341.5,73.37 L342,73.2 L342.5,73.02 L343,72.83 L343.5,72.62 L344,72.4 L344.5,72.17 L345,71.93 L345.5,71.67 L346,71.39 L346.5,71.1 L347,70.8 L347.5,70.48 L348,70.15 L348.5,69.8 L349,69.43 L349.5,69.05 L350,68.65 L350.5,68.25 L351,67.82 L351.5,67.39 L352,66.94 L352.5,66.48 L353,66 L353.5,65.52 L354,65.03 L354.5,64.53 L355,64.03 L355.5,63.52 L356,63.01 L356.5,62.5 L357,61.99 L357.5,61.49 L358,60.99 L358.5,60.5 L359,60.02 L359.5,59.55 L360,59.1 L360.5,58.67 L361,58.26 L361.5,57.88 L362,57.52 L362.5,57.2 L363,56.91 L363.5,56.66 L364,56.45 L364.5,56.28 L365,56.16 L365.5,56.08 L366,56.05 L366.5,56.07 L367,56.13 L367.5,56.24 L368,56.4 L368.5,56.59 L369,56.83 L369.5,57.12 L370,57.44 L370.5,57.8 L371,58.19 L371.5,58.62 L372,59.08 L372.5,59.56 L373,60.07 L373.5,60.6 L374,61.16 L374.5,61.73 L375,62.31 L375.5,62.9 L376,63.5 L376.5,64.11 L377,64.72 L377.5,65.34 L378,65.95 L378.5,66.56 L379,67.16 L379.5,67.75 L380,68.34 L380.5,68.91 L381,69.47 L381.5,70.02 L382,70.55 L382.5,71.06 L383,71.56 L383.5,72.04 L384,72.51 L384.5,72.95 L385,73.37 L385.5,73.78 L386,74.16 L386.5,74.53 L387,74.87 L387.5,75.2 L388,75.51 L388.5,75.8 L389,76.07 L389.5,76.33 L390,76.56 L390.5,76.79 L391,76.99 L391.5,77.18 L392,77.36 L392.5,77.53 L393,77.68 L393.5,77.82 L394,77.94 L394.5,78.06 L395,78.17 L395.5,78.27 L396,78.36 L396.5,78.44 L397,78.52 L397.5,78.58 L398,78.64 L398.5,78.7 L399,78.75 L399.5,78.8 L400,78.84 L400.5,78.88 L401,78.91 L401.5,78.94 L402,78.97 L402.5,78.99 L403,79.02 L403.5,79.04 L404,79.05 L404.5,79.07 L405,79.09 L405.5,79.1 L406,79.11 L406.5,79.12 L407,79.13 L407.5,79.14 L408,79.15 L408.5,79.16 L409,79.17 L409.5,79.18 L410,79.18 L410.5,79.19 L411,79.19 L411.5,79.2 L412,79.2 L412.5,79.21 L413,79.21 L413.5,79.22 L414,79.22 L414.5,79.23 L415,79.23 L415.5,79.23 L416,79.24 L416.5,79.24 L417,79.24 L417.5,79.25 L418,79.25 L418.5,79.25 L419,79.25 L419.5,79.26 L420,79.26 L420.5,79.26 L421,79.26 L421.5,79.27 L422,79.27 L422.5,79.27 L423,79.27 L423.5,79.28 L424,79.28 L424.5,79.28 L425,79.28 L425.5,79.28 L426,79.29 L426.5,79.29 L427,79.29 L427.5,79.29 L428,79.29 L428.5,79.3 L429,79.3 L429.5,79.3 L430,79.3 L430.5,79.3 L431,79.3 L431.5,79.31 L432,79.31 L432.5,79.31 L433,79.31 L433.5,79.31 L434,79.31 L434.5,79.31 L435,79.32 L435.5,79.32 L436,79.32 L436.5,79.32 L437,79.32 L437.5,79.32 L438,79.32 L438.5,79.32 L439,79.33 L439.5,79.33 L440,79.33 L440.5,79.33 L441,79.33 L441.5,79.33 L442,79.33 L442.5,79.33 L443,79.33 L443.5,79.33 L444,79.34 L444.5,79.34 L445,79.34 L445.5,79.34 L446,79.34 L446.5,79.34 L447,79.34 L447,79.4 L446.5,79.4 L446,79.4 L445.5,79.4 L445,79.4 L444.5,79.4 L444,79.4 L443.5,79.4 L443,79.4 L442.5,79.4 L442,79.4 L441.5,79.4 L441,79.4 L440.5,79.4 L440,79.4 L439.5,79.4 L439,79.4 L438.5,79.4 L438,79.4 L437.5,79.4 L437,79.4 L436.5,79.4 L436,79.4 L435.5,79.4 L435,79.4 L434.5,79.4 L434,79.4 L433.5,79.4 L433,79.4 L432.5,79.39 L432,79.39 L431.5,79.39 L431,79.39 L430.5,79.39 L430,79.39 L429.5,79.39 L429,79.39 L428.5,79.39 L428,79.39 L427.5,79.39 L427,79.39 L426.5,79.39 L426,79.39 L425.5,79.39 L425,79.39 L424.5,79.39 L424,79.39 L423.5,79.39 L423,79.39 L422.5,79.39 L422,79.39 L421.5,79.39 L421,79.39 L420.5,79.39 L420,79.39 L419.5,79.39 L419,79.39 L418.5,79.39 L418,79.39 L417.5,79.39 L417,79.39 L416.5,79.39 L416,79.39 L415.5,79.39 L415,79.39 L414.5,79.39 L414,79.39 L413.5,79.38 L413,79.38 L412.5,79.38 L412,79.38 L411.5,79.38 L411,79.38 L410.5,79.38 L410,79.38 L409.5,79.38 L409,79.38 L408.5,79.38 L408,79.38 L407.5,79.38 L407,79.38 L406.5,79.38 L406,79.38 L405.5,79.38 L405,79.38 L404.5,79.38 L404,79.38 L403.5,79.38 L403,79.38 L402.5,79.37 L402,79.37 L401.5,79.37 L401,79.37 L400.5,79.37 L400,79.37 L399.5,79.37 L399,79.37 L398.5,79.37 L398,79.37 L397.5,79.37 L397,79.37 L396.5,79.37 L396,79.36 L395.5,79.36 L395,79.36 L394.5,79.36 L394,79.36 L393.5,79.36 L393,79.36 L392.5,79.35 L392,79.35 L391.5,79.35 L391,79.35 L390.5,79.35 L390,79.34 L389.5,79.34 L389,79.34 L388.5,79.33 L388,79.33 L387.5,79.33 L387,79.32 L386.5,79.32 L386,79.32 L385.5,79.31 L385,79.31 L384.5,79.3 L384,79.29 L383.5,79.29 L383,79.28 L382.5,79.27 L382,79.27 L381.5,79.26 L381,79.25 L380.5,79.24 L380,79.23 L379.5,79.22 L379,79.21 L378.5,79.19 L378,79.18 L377.5,79.17 L377,79.15 L376.5,79.13 L376,79.12 L375.5,79.1 L375,79.08 L374.5,79.06 L374,79.04 L373.5,79.02 L373,78.99 L372.5,78.97 L372,78.94 L371.5,78.91 L371,78.89 L370.5,78.86 L370,78.82 L369.5,78.79 L369,78.76 L368.5,78.72 L368,78.69 L367.5,78.65 L367,78.61 L366.5,78.57 L366,78.53 L365.5,78.49 L365,78.44 L364.5,78.4 L364,78.35 L363.5,78.31 L363,78.26 L362.5,78.21 L362,78.16 L361.5,78.11 L361,78.06 L360.5,78.02 L360,77.97 L359.5,77.92 L359,77.87 L358.5,77.82 L358,77.77 L357.5,77.72 L357,77.67 L356.5,77.62 L356,77.57 L355.5,77.52 L355,77.48 L354.5,77.43 L354,77.38 L353.5,77.34 L353,77.3 L352.5,77.25 L352,77.21 L351.5,77.17 L351,77.13 L350.5,77.09 L350,77.05 L349.5,77.01 L349,76.97 L348.5,76.94 L348,76.9 L347.5,76.87 L347,76.84 L346.5,76.8 L346,76.77 L345.5,76.74 L345,76.71 L344.5,76.68 L344,76.66 L343.5,76.63 L343,76.6 L342.5,76.58 L342,76.55 L341.5,76.53 L341,76.51 L340.5,76.48 L340,76.46 L339.5,76.44 L339,76.42 L338.5,76.4 L338,76.38 L337.5,76.36 L337,76.35 L336.5,76.33 L336,76.31 L335.5,76.3 L335,76.28 L334.5,76.27 L334,76.25 L333.5,76.24 L333,76.22 L332.5,76.21 L332,76.2 L331.5,76.18 L331,76.17 L330.5,76.16 L330,76.15 L329.5,76.14 L329,76.12 L328.5,76.11 L328,76.1 L327.5,76.09 L327,76.08 L326.5,76.07 L326,76.06 L325.5,76.05 L325,76.04 L324.5,76.03 L324,76.03 L323.5,76.02 L323,76.01 L322.5,76 L322,75.99 L321.5,75.98 L321,75.97 L320.5,75.97 L320,75.96 L319.5,75.95 L319,75.94 L318.5,75.93 L318,75.93 L317.5,75.92 L317,75.91 L316.5,75.9 L316,75.89 L315.5,75.89 L315,75.88 L314.5,75.87 L314,75.86 L313.5,75.86 L313,75.85 L312.5,75.84 L312,75.84 L311.5,75.83 L311,75.82 L310.5,75.81 L310,75.81 L309.5,75.8 L309,75.79 L308.5,75.79 L308,75.78 L307.5,75.77 L307,75.77 L306.5,75.76 L306,75.75 L305.5,75.75 L305,75.74 L304.5,75.74 L304,75.73 L303.5,75.72 L303,75.72 L302.5,75.71 L302,75.7 L301.5,75.7 L301,75.69 L300.5,75.69 L300,75.68 L299.5,75.68 L299,75.67 L298.5,75.66 L298,75.66 L297.5,75.65 L297,75.65 L296.5,75.64 L296,75.64 L295.5,75.63 L295,75.63 L294.5,75.62 L294,75.62 L293.5,75.61 L293,75.61 L292.5,75.6 L292,75.6 L291.5,75.59 L291,75.59 L290.5,75.58 L290,75.58 L289.5,75.57 L289,75.57 L288.5,75.57 L288,75.56 L287.5,75.56 L287,75.55 L286.5,75.55 L286,75.55 L285.5,75.54 L285,75.54 L284.5,75.53 L284,75.53 L283.5,75.53 L283,75.52 L282.5,75.52 L282,75.52 L281.5,75.51 L281,75.51 L280.5,75.51 L280,75.5 L279.5,75.5 L279,75.5 L278.5,75.49 L278,75.49 L277.5,75.49 L277,75.49 L276.5,75.48 L276,75.48 L275.5,75.48 L275,75.48 L274.5,75.47 L274,75.47 L273.5,75.47 L273,75.47 L272.5,75.46 L272,75.46 L271.5,75.46 L271,75.46 L270.5,75.46 L270,75.45 L269.5,75.45 L269,75.45 L268.5,75.45 L268,75.45 L267.5,75.44 L267,75.44 L266.5,75.44 L266,75.44 L265.5,75.44 L265,75.44 L264.5,75.43 L264,75.43 L263.5,75.43 L263,75.43 L262.5,75.43 L262,75.43 L261.5,75.43 L261,75.42 L260.5,75.42 L260,75.42 L259.5,75.42 L259,75.42 L258.5,75.42 L258,75.42 L257.5,75.42 L257,75.42 L256.5,75.41 L256,75.41 L255.5,75.41 L255,75.41 L254.5,75.41 L254,75.41 L253.5,75.41 L253,75.41 L252.5,75.41 L252,75.41 L251.5,75.41 L251,75.41 L250.5,75.4 L250,75.4 L249.5,75.4 L249,75.4 L248.5,75.4 L248,75.4 L247.5,75.4 L247,75.4Z" fill="#ff555a" fill-opacity="0.5"/>
<path d="M247,74.9 L247.5,74.88 L248,74.86 L248.5,74.84 L249,74.81 L249.5,74.79 L250,74.77 L250.5,74.74 L251,74.72 L251.5,74.69 L252,74.67 L252.5,74.64 L253,74.61 L253.5,74.59 L254,74.56 L254.5,74.53 L255,74.5 L255.5,74.47 L256,74.43 L256.5,74.4 L257,74.37 L257.5,74.33 L258,74.29 L258.5,74.26 L259,74.22 L259.5,74.18 L260,74.14 L260.5,74.1 L261,74.06 L261.5,74.02 L262,73.97 L262.5,73.93 L263,73.88 L263.5,73.84 L264,73.79 L264.5,73.74 L265,73.69 L265.5,73.64 L266,73.59 L266.5,73.54 L267,73.49 L267.5,73.43 L268,73.38 L268.5,73.32 L269,73.26 L269.5,73.2 L270,73.15 L270.5,73.09 L271,73.02 L271.5,72.96 L272,72.9 L272.5,72.84 L273,72.77 L273.5,72.71 L274,72.64 L274.5,72.57 L275,72.5 L275.5,72.44 L276,72.37 L276.5,72.3 L277,72.22 L277.5,72.15 L278,72.08 L278.5,72.01 L279,71.93 L279.5,71.86 L280,71.78 L280.5,71.71 L281,71.63 L281.5,71.55 L282,71.48 L282.5,71.4 L283,71.32 L283.5,71.24 L284,71.16 L284.5,71.08 L285,71.01 L285.5,70.93 L286,70.85 L286.5,70.77 L287,70.69 L287.5,70.61 L288,70.53 L288.5,70.45 L289,70.37 L289.5,70.29 L290,70.21 L290.5,70.13 L291,70.05 L291.5,69.97 L292,69.9 L292.5,69.82 L293,69.74 L293.5,69.67 L294,69.59 L294.5,69.51 L295,69.44 L295.5,69.37 L296,69.29 L296.5,69.22 L297,69.15 L297.5,69.08 L298,69.01 L298.5,68.94 L299,68.88 L299.5,68.81 L300,68.75 L300.5,68.69 L301,68.62 L301.5,68.56 L302,68.5 L302.5,68.45 L303,68.39 L303.5,68.34 L304,68.29 L304.5,68.23 L305,68.19 L305.5,68.14 L306,68.09 L306.5,68.05 L307,68.01 L307.5,67.97 L308,67.93 L308.5,67.89 L309,67.86 L309.5,67.83 L310,67.8 L310.5,67.77 L311,67.74 L311.5,67.72 L312,67.7 L312.5,67.68 L313,67.66 L313.5,67.65 L314,67.64 L314.5,67.63 L315,67.62 L315.5,67.62 L316,67.61 L316.5,67.61 L317,67.61 L317.5,67.62 L318,67.63 L318.5,67.64 L319,67.65 L319.5,67.68 L320,67.71 L320.5,67.74 L321,67.78 L321.5,67.83 L322,67.88 L322.5,67.94 L323,68.01 L323.5,68.08 L324,68.15 L324.5,68.23 L325,68.32 L325.5,68.41 L326,68.5 L326.5,68.6 L327,68.71 L327.5,68.82 L328,68.93 L328.5,69.05 L329,69.17 L329.5,69.29 L330,69.42 L330.5,69.55 L331,69.69 L331.5,69.82 L332,69.96 L332.5,70.1 L333,70.25 L333.5,70.39 L334,70.54 L334.5,70.69 L335,70.84 L335.5,70.99 L336,71.14 L336.5,71.29 L337,71.45 L337.5,71.6 L338,71.76 L338.5,71.91 L339,72.06 L339.5,72.22 L340,72.37 L340.5,72.52 L341,72.67 L341.5,72.82 L342,72.97 L342.5,73.12 L343,73.27 L343.5,73.42 L344,73.56 L344.5,73.71 L345,73.85 L345.5,73.99 L346,74.13 L346.5,74.27 L347,74.41 L347.5,74.54 L348,74.67 L348.5,74.81 L349,74.94 L349.5,75.06 L350,75.19 L350.5,75.31 L351,75.44 L351.5,75.56 L352,75.68 L352.5,75.79 L353,75.91 L353.5,76.02 L354,76.13 L354.5,76.25 L355,76.35 L355.5,76.46 L356,76.56 L356.5,76.67 L357,76.77 L357.5,76.87 L358,76.97 L358.5,77.06 L359,77.15 L359.5,77.25 L360,77.33 L360.5,77.42 L361,77.51 L361.5,77.59 L362,77.67 L362.5,77.75 L363,77.83 L363.5,77.9 L364,77.97 L364.5,78.04 L365,78.11 L365.5,78.18 L366,78.24 L366.5,78.3 L367,78.36 L367.5,78.42 L368,78.47" fill="none" stroke="#e9df6e" stroke-width="1.2"/>
<path d="M265.5,75.24 L266,75.24 L266.5,75.24 L267,75.23 L267.5,75.23 L268,75.23 L268.5,75.23 L269,75.23 L269.5,75.23 L270,75.23 L270.5,75.23 L271,75.23 L271.5,75.23 L272,75.23 L272.5,75.23 L273,75.23 L273.5,75.22 L274,75.22 L274.5,75.22 L275,75.22 L275.5,75.22 L276,75.22 L276.5,75.22 L277,75.22 L277.5,75.22 L278,75.22 L278.5,75.22 L279,75.21 L279.5,75.21 L280,75.21 L280.5,75.21 L281,75.21 L281.5,75.21 L282,75.21 L282.5,75.21 L283,75.21 L283.5,75.2 L284,75.2 L284.5,75.2 L285,75.2 L285.5,75.2 L286,75.2 L286.5,75.2 L287,75.2 L287.5,75.19 L288,75.19 L288.5,75.19 L289,75.19 L289.5,75.19 L290,75.18 L290.5,75.18 L291,75.18 L291.5,75.18 L292,75.18 L292.5,75.17 L293,75.17 L293.5,75.17 L294,75.17 L294.5,75.16 L295,75.16 L295.5,75.16 L296,75.15 L296.5,75.15 L297,75.15 L297.5,75.14 L298,75.14 L298.5,75.13 L299,75.13 L299.5,75.12 L300,75.12 L300.5,75.11 L301,75.11 L301.5,75.1 L302,75.09 L302.5,75.09 L303,75.08 L303.5,75.07 L304,75.06 L304.5,75.05 L305,75.04 L305.5,75.03 L306,75.02 L306.5,75.01 L307,75 L307.5,74.98 L308,74.97 L308.5,74.95 L309,74.93 L309.5,74.92 L310,74.89 L310.5,74.87 L311,74.85 L311.5,74.82 L312,74.79 L312.5,74.76 L313,74.73 L313.5,74.69 L314,74.65 L314.5,74.6 L315,74.55 L315.5,74.5 L316,74.44 L316.5,74.38 L317,74.31 L317.5,74.23 L318,74.15 L318.5,74.06 L319,73.96 L319.5,73.85 L320,73.74 L320.5,73.61 L321,73.47 L321.5,73.32 L322,73.16 L322.5,72.99 L323,72.8 L323.5,72.6 L324,72.39 L324.5,72.16 L325,71.91 L325.5,71.64 L326,71.36 L326.5,71.06 L327,70.74 L327.5,70.4 L328,70.04 L328.5,69.66 L329,69.26 L329.5,68.85 L330,68.4 L330.5,67.94 L331,67.46 L331.5,66.96 L332,66.44 L332.5,65.9 L333,65.34 L333.5,64.76 L334,64.16 L334.5,63.55 L335,62.93 L335.5,62.29 L336,61.64 L336.5,60.98 L337,60.31 L337.5,59.64 L338,58.97 L338.5,58.29 L339,57.62 L339.5,56.96 L340,56.3 L340.5,55.65 L341,55.02 L341.5,54.41 L342,53.82 L342.5,53.26 L343,52.73 L343.5,52.23 L344,51.78 L344.5,51.36 L345,50.99 L345.5,50.67 L346,50.41 L346.5,50.19 L347,50.04 L347.5,49.95 L348,49.91 L348.5,49.94 L349,50.03 L349.5,50.19 L350,50.4 L350.5,50.67 L351,50.99 L351.5,51.37 L352,51.8 L352.5,52.28 L353,52.8 L353.5,53.36 L354,53.96 L354.5,54.58 L355,55.24 L355.5,55.91 L356,56.61 L356.5,57.32 L357,58.05 L357.5,58.78 L358,59.52 L358.5,60.26 L359,61.01 L359.5,61.75 L360,62.48 L360.5,63.21 L361,63.93 L361.5,64.63 L362,65.32 L362.5,66 L363,66.66 L363.5,67.3 L364,67.93 L364.5,68.53 L365,69.11 L365.5,69.67 L366,70.21 L366.5,70.73 L367,71.23 L367.5,71.7 L368,72.16 L368.5,72.59 L369,72.99 L369.5,73.38 L370,73.75 L370.5,74.09 L371,74.42 L371.5,74.73 L372,75.01 L372.5,75.28 L373,75.54 L373.5,75.77 L374,75.99 L374.5,76.2 L375,76.39 L375.5,76.57 L376,76.73 L376.5,76.89 L377,77.03 L377.5,77.16 L378,77.28 L378.5,77.4 L379,77.5 L379.5,77.6 L380,77.69 L380.5,77.77 L381,77.85 L381.5,77.92 L382,77.99 L382.5,78.05 L383,78.1 L383.5,78.16 L384,78.2 L384.5,78.25 L385,78.29 L385.5,78.33 L386,78.37 L386.5,78.4 L387,78.43 L387.5,78.46 L388,78.49 L388.5,78.52 L389,78.54 L389.5,78.57 L390,78.59 L390.5,78.61 L391,78.63 L391.5,78.65 L392,78.67 L392.5,78.68 L393,78.7 L393.5,78.72 L394,78.73 L394.5,78.75 L395,78.76 L395.5,78.77 L396,78.79 L396.5,78.8 L397,78.81 L397.5,78.82 L398,78.83 L398.5,78.85 L399,78.86 L399.5,78.87 L400,78.88 L400.5,78.89 L401,78.9 L401.5,78.9 L402,78.91 L402.5,78.92 L403,78.93 L403.5,78.94 L404,78.95 L404.5,78.95 L405,78.96 L405.5,78.97 L406,78.98 L406.5,78.98 L407,78.99 L407.5,79 L408,79 L408.5,79.01 L409,79.02 L409.5,79.02 L410,79.03 L410.5,79.03 L411,79.04 L411.5,79.05 L412,79.05 L412.5,79.06 L413,79.06 L413.5,79.07 L414,79.07 L414.5,79.08 L415,79.08 L415.5,79.09 L416,79.09 L416.5,79.09 L417,79.1 L417.5,79.1 L418,79.11 L418.5,79.11 L419,79.12 L419.5,79.12 L420,79.12 L420.5,79.13 L421,79.13 L421.5,79.14 L422,79.14 L422.5,79.14 L423,79.15 L423.5,79.15 L424,79.15 L424.5,79.16 L425,79.16 L425.5,79.16 L426,79.17 L426.5,79.17 L427,79.17 L427.5,79.17 L428,79.18 L428.5,79.18 L429,79.18 L429.5,79.19 L430,79.19 L430.5,79.19 L431,79.19" fill="none" stroke="#45b5fb" stroke-width="1.6"/>
<g fill="#f4f4f4"><circle cx="334" cy="76.05" r="0.8"/><circle cx="335.1" cy="75.98" r="0.8"/><circle cx="336.2" cy="75.86" r="0.8"/><circle cx="337.3" cy="75.69" r="0.8"/><circle cx="338.4" cy="75.44" r="0.8"/><circle cx="339.5" cy="75.1" r="0.8"/><circle cx="340.6" cy="74.62" r="0.8"/><circle cx="341.7" cy="74" r="0.8"/><circle cx="342.8" cy="73.19" r="0.8"/><circle cx="343.9" cy="72.18" r="0.8"/><circle cx="345" cy="70.94" r="0.8"/><circle cx="346.1" cy="69.45" r="0.8"/><circle cx="347.2" cy="67.7" r="0.8"/><circle cx="348.3" cy="65.71" r="0.8"/><circle cx="349.4" cy="63.51" r="0.8"/><circle cx="350.5" cy="61.12" r="0.8"/><circle cx="351.6" cy="58.6" r="0.8"/><circle cx="352.7" cy="56.05" r="0.8"/><circle cx="353.8" cy="53.55" r="0.8"/><circle cx="354.9" cy="51.19" r="0.8"/><circle cx="356" cy="49.08" r="0.8"/><circle cx="357.1" cy="47.34" r="0.8"/><circle cx="358.2" cy="46.04" r="0.8"/><circle cx="359.3" cy="45.25" r="0.8"/><circle cx="360.4" cy="45.02" r="0.8"/><circle cx="361.5" cy="45.34" r="0.8"/><circle cx="362.6" cy="46.2" r="0.8"/><circle cx="363.7" cy="47.54" r="0.8"/><circle cx="364.8" cy="49.31" r="0.8"/><circle cx="365.9" cy="51.43" r="0.8"/><circle cx="367" cy="53.81" r="0.8"/><circle cx="368.1" cy="56.36" r="0.8"/><circle cx="369.2" cy="58.99" r="0.8"/><circle cx="370.3" cy="61.6" r="0.8"/><circle cx="371.4" cy="64.13" r="0.8"/><circle cx="372.5" cy="66.5" r="0.8"/><circle cx="373.6" cy="68.67" r="0.8"/><circle cx="374.7" cy="70.62" r="0.8"/><circle cx="375.8" cy="72.32" r="0.8"/><circle cx="376.9" cy="73.79" r="0.8"/><circle cx="378" cy="75.02" r="0.8"/><circle cx="379.1" cy="76.02" r="0.8"/><circle cx="380.2" cy="76.83" r="0.8"/><circle cx="381.3" cy="77.48" r="0.8"/><circle cx="382.4" cy="77.98" r="0.8"/><circle cx="383.5" cy="78.36" r="0.8"/><circle cx="384.6" cy="78.65" r="0.8"/><circle cx="385.7" cy="78.86" r="0.8"/><circle cx="386.8" cy="79.01" r="0.8"/></g>
<path d="M283,75.32 L283.5,75.32 L284,75.32 L284.5,75.33 L285,75.33 L285.5,75.33 L286,75.33 L286.5,75.33 L287,75.33 L287.5,75.33 L288,75.33 L288.5,75.34 L289,75.34 L289.5,75.34 L290,75.34 L290.5,75.34 L291,75.34 L291.5,75.34 L292,75.35 L292.5,75.35 L293,75.35 L293.5,75.35 L294,75.35 L294.5,75.35 L295,75.35 L295.5,75.36 L296,75.36 L296.5,75.36 L297,75.36 L297.5,75.36 L298,75.36 L298.5,75.36 L299,75.37 L299.5,75.37 L300,75.37 L300.5,75.37 L301,75.37 L301.5,75.37 L302,75.37 L302.5,75.37 L303,75.37 L303.5,75.38 L304,75.38 L304.5,75.38 L305,75.38 L305.5,75.38 L306,75.38 L306.5,75.38 L307,75.38 L307.5,75.38 L308,75.38 L308.5,75.38 L309,75.38 L309.5,75.38 L310,75.38 L310.5,75.38 L311,75.38 L311.5,75.38 L312,75.38 L312.5,75.38 L313,75.38 L313.5,75.37 L314,75.37 L314.5,75.37 L315,75.37 L315.5,75.37 L316,75.37 L316.5,75.36 L317,75.36 L317.5,75.36 L318,75.35 L318.5,75.35 L319,75.35 L319.5,75.34 L320,75.34 L320.5,75.33 L321,75.33 L321.5,75.32 L322,75.32 L322.5,75.31 L323,75.3 L323.5,75.29 L324,75.28 L324.5,75.27 L325,75.26 L325.5,75.25 L326,75.24 L326.5,75.23 L327,75.21 L327.5,75.2 L328,75.18 L328.5,75.16 L329,75.14 L329.5,75.12 L330,75.1 L330.5,75.07 L331,75.05 L331.5,75.02 L332,74.98 L332.5,74.95 L333,74.91 L333.5,74.86 L334,74.82 L334.5,74.76 L335,74.71 L335.5,74.65 L336,74.58 L336.5,74.51 L337,74.43 L337.5,74.35 L338,74.25 L338.5,74.15 L339,74.05 L339.5,73.93 L340,73.8 L340.5,73.67 L341,73.52 L341.5,73.37 L342,73.2 L342.5,73.02 L343,72.83 L343.5,72.62 L344,72.4 L344.5,72.17 L345,71.93 L345.5,71.67 L346,71.39 L346.5,71.1 L347,70.8 L347.5,70.48 L348,70.15 L348.5,69.8 L349,69.43 L349.5,69.05 L350,68.65 L350.5,68.25 L351,67.82 L351.5,67.39 L352,66.94 L352.5,66.48 L353,66 L353.5,65.52 L354,65.03 L354.5,64.53 L355,64.03 L355.5,63.52 L356,63.01 L356.5,62.5 L357,61.99 L357.5,61.49 L358,60.99 L358.5,60.5 L359,60.02 L359.5,59.55 L360,59.1 L360.5,58.67 L361,58.26 L361.5,57.88 L362,57.52 L362.5,57.2 L363,56.91 L363.5,56.66 L364,56.45 L364.5,56.28 L365,56.16 L365.5,56.08 L366,56.05 L366.5,56.07 L367,56.13 L367.5,56.24 L368,56.4 L368.5,56.59 L369,56.83 L369.5,57.12 L370,57.44 L370.5,57.8 L371,58.19 L371.5,58.62 L372,59.08 L372.5,59.56 L373,60.07 L373.5,60.6 L374,61.16 L374.5,61.73 L375,62.31 L375.5,62.9 L376,63.5 L376.5,64.11 L377,64.72 L377.5,65.34 L378,65.95 L378.5,66.56 L379,67.16 L379.5,67.75 L380,68.34 L380.5,68.91 L381,69.47 L381.5,70.02 L382,70.55 L382.5,71.06 L383,71.56 L383.5,72.04 L384,72.51 L384.5,72.95 L385,73.37 L385.5,73.78 L386,74.16 L386.5,74.53 L387,74.87 L387.5,75.2 L388,75.51 L388.5,75.8 L389,76.07 L389.5,76.33 L390,76.56 L390.5,76.79 L391,76.99 L391.5,77.18 L392,77.36 L392.5,77.53 L393,77.68 L393.5,77.82 L394,77.94 L394.5,78.06 L395,78.17 L395.5,78.27 L396,78.36 L396.5,78.44 L397,78.52 L397.5,78.58 L398,78.64 L398.5,78.7 L399,78.75 L399.5,78.8 L400,78.84 L400.5,78.88 L401,78.91 L401.5,78.94 L402,78.97 L402.5,78.99 L403,79.02 L403.5,79.04 L404,79.05 L404.5,79.07 L405,79.09 L405.5,79.1 L406,79.11 L406.5,79.12 L407,79.13 L407.5,79.14 L408,79.15 L408.5,79.16 L409,79.17 L409.5,79.18 L410,79.18" fill="none" stroke="#ff6b70" stroke-width="1.4"/>
<path d="M247,75.4 L247.5,75.4 L248,75.4 L248.5,75.4 L249,75.4 L249.5,75.4 L250,75.4 L250.5,75.4 L251,75.41 L251.5,75.41 L252,75.41 L252.5,75.41 L253,75.41 L253.5,75.41 L254,75.41 L254.5,75.41 L255,75.41 L255.5,75.41 L256,75.41 L256.5,75.41 L257,75.42 L257.5,75.42 L258,75.42 L258.5,75.42 L259,75.42 L259.5,75.42 L260,75.42 L260.5,75.42 L261,75.42 L261.5,75.43 L262,75.43 L262.5,75.43 L263,75.43 L263.5,75.43 L264,75.43 L264.5,75.43 L265,75.44 L265.5,75.44 L266,75.44 L266.5,75.44 L267,75.44 L267.5,75.44 L268,75.45 L268.5,75.45 L269,75.45 L269.5,75.45 L270,75.45 L270.5,75.46 L271,75.46 L271.5,75.46 L272,75.46 L272.5,75.46 L273,75.47 L273.5,75.47 L274,75.47 L274.5,75.47 L275,75.48 L275.5,75.48 L276,75.48 L276.5,75.48 L277,75.49 L277.5,75.49 L278,75.49 L278.5,75.49 L279,75.5 L279.5,75.5 L280,75.5 L280.5,75.51 L281,75.51 L281.5,75.51 L282,75.52 L282.5,75.52 L283,75.52 L283.5,75.53 L284,75.53 L284.5,75.53 L285,75.54 L285.5,75.54 L286,75.55 L286.5,75.55 L287,75.55 L287.5,75.56 L288,75.56 L288.5,75.57 L289,75.57 L289.5,75.57 L290,75.58 L290.5,75.58 L291,75.59 L291.5,75.59 L292,75.6 L292.5,75.6 L293,75.61 L293.5,75.61 L294,75.62 L294.5,75.62 L295,75.63 L295.5,75.63 L296,75.64 L296.5,75.64 L297,75.65 L297.5,75.65 L298,75.66 L298.5,75.66 L299,75.67 L299.5,75.68 L300,75.68 L300.5,75.69 L301,75.69 L301.5,75.7 L302,75.7 L302.5,75.71 L303,75.72 L303.5,75.72 L304,75.73 L304.5,75.74 L305,75.74 L305.5,75.75 L306,75.75 L306.5,75.76 L307,75.77 L307.5,75.77 L308,75.78 L308.5,75.79 L309,75.79 L309.5,75.8 L310,75.81 L310.5,75.81 L311,75.82 L311.5,75.83 L312,75.84 L312.5,75.84 L313,75.85 L313.5,75.86 L314,75.86 L314.5,75.87 L315,75.88 L315.5,75.89 L316,75.89 L316.5,75.9 L317,75.91 L317.5,75.92 L318,75.93 L318.5,75.93 L319,75.94 L319.5,75.95 L320,75.96 L320.5,75.97 L321,75.97 L321.5,75.98 L322,75.99 L322.5,76 L323,76.01 L323.5,76.02 L324,76.03 L324.5,76.03 L325,76.04 L325.5,76.05 L326,76.06 L326.5,76.07 L327,76.08 L327.5,76.09 L328,76.1 L328.5,76.11 L329,76.12 L329.5,76.14 L330,76.15 L330.5,76.16 L331,76.17 L331.5,76.18 L332,76.2 L332.5,76.21 L333,76.22 L333.5,76.24 L334,76.25 L334.5,76.27 L335,76.28 L335.5,76.3 L336,76.31 L336.5,76.33 L337,76.35 L337.5,76.36 L338,76.38 L338.5,76.4 L339,76.42 L339.5,76.44 L340,76.46 L340.5,76.48 L341,76.51 L341.5,76.53 L342,76.55 L342.5,76.58 L343,76.6 L343.5,76.63 L344,76.66 L344.5,76.68 L345,76.71 L345.5,76.74 L346,76.77 L346.5,76.8 L347,76.84 L347.5,76.87 L348,76.9 L348.5,76.94 L349,76.97 L349.5,77.01 L350,77.05 L350.5,77.09 L351,77.13 L351.5,77.17 L352,77.21 L352.5,77.25 L353,77.3 L353.5,77.34 L354,77.38 L354.5,77.43 L355,77.48 L355.5,77.52 L356,77.57 L356.5,77.62 L357,77.67 L357.5,77.72 L358,77.77 L358.5,77.82 L359,77.87 L359.5,77.92 L360,77.97 L360.5,78.02 L361,78.06 L361.5,78.11 L362,78.16 L362.5,78.21 L363,78.26 L363.5,78.31 L364,78.35 L364.5,78.4 L365,78.44 L365.5,78.49 L366,78.53 L366.5,78.57 L367,78.61 L367.5,78.65 L368,78.69 L368.5,78.72 L369,78.76 L369.5,78.79 L370,78.82 L370.5,78.86 L371,78.89 L371.5,78.91 L372,78.94 L372.5,78.97 L373,78.99 L373.5,79.02 L374,79.04 L374.5,79.06 L375,79.08 L375.5,79.1 L376,79.12 L376.5,79.13 L377,79.15 L377.5,79.17 L378,79.18 L378.5,79.19 L379,79.21 L379.5,79.22 L380,79.23 L380.5,79.24 L381,79.25 L381.5,79.26 L382,79.27 L382.5,79.27 L383,79.28 L383.5,79.29 L384,79.29 L384.5,79.3 L385,79.31 L385.5,79.31 L386,79.32 L386.5,79.32 L387,79.32 L387.5,79.33 L388,79.33 L388.5,79.33 L389,79.34 L389.5,79.34 L390,79.34 L390.5,79.35 L391,79.35 L391.5,79.35 L392,79.35 L392.5,79.35 L393,79.36 L393.5,79.36 L394,79.36 L394.5,79.36 L395,79.36 L395.5,79.36 L396,79.36 L396.5,79.37 L397,79.37 L397.5,79.37 L398,79.37 L398.5,79.37 L399,79.37 L399.5,79.37 L400,79.37 L400.5,79.37 L401,79.37 L401.5,79.37 L402,79.37 L402.5,79.37 L403,79.38 L403.5,79.38 L404,79.38 L404.5,79.38 L405,79.38 L405.5,79.38 L406,79.38 L406.5,79.38 L407,79.38 L407.5,79.38 L408,79.38 L408.5,79.38 L409,79.38 L409.5,79.38 L410,79.38 L410.5,79.38 L411,79.38 L411.5,79.38 L412,79.38 L412.5,79.38 L413,79.38 L413.5,79.38 L414,79.39 L414.5,79.39 L415,79.39 L415.5,79.39 L416,79.39 L416.5,79.39 L417,79.39 L417.5,79.39 L418,79.39 L418.5,79.39 L419,79.39 L419.5,79.39 L420,79.39 L420.5,79.39 L421,79.39 L421.5,79.39 L422,79.39 L422.5,79.39 L423,79.39 L423.5,79.39 L424,79.39 L424.5,79.39 L425,79.39 L425.5,79.39 L426,79.39 L426.5,79.39 L427,79.39 L427.5,79.39 L428,79.39 L428.5,79.39 L429,79.39 L429.5,79.39 L430,79.39 L430.5,79.39 L431,79.39 L431.5,79.39 L432,79.39 L432.5,79.39 L433,79.4 L433.5,79.4 L434,79.4 L434.5,79.4 L435,79.4 L435.5,79.4 L436,79.4 L436.5,79.4 L437,79.4 L437.5,79.4 L438,79.4 L438.5,79.4 L439,79.4 L439.5,79.4 L440,79.4 L440.5,79.4 L441,79.4 L441.5,79.4 L442,79.4 L442.5,79.4 L443,79.4 L443.5,79.4 L444,79.4 L444.5,79.4 L445,79.4 L445.5,79.4 L446,79.4 L446.5,79.4 L447,79.4" fill="none" stroke="#c8c8c8" stroke-width="1.5"/>
<g fill="#b4b4b4"><circle cx="247" cy="75.1" r="0.72"/><circle cx="248.1" cy="75.06" r="0.72"/><circle cx="249.2" cy="75.02" r="0.72"/><circle cx="250.3" cy="74.98" r="0.72"/><circle cx="251.4" cy="74.94" r="0.72"/><circle cx="252.5" cy="74.91" r="0.72"/><circle cx="253.6" cy="74.87" r="0.72"/><circle cx="254.7" cy="74.83" r="0.72"/><circle cx="255.8" cy="74.79" r="0.72"/><circle cx="256.9" cy="74.75" r="0.72"/><circle cx="258" cy="74.7" r="0.72"/><circle cx="259.1" cy="74.65" r="0.72"/><circle cx="260.2" cy="74.59" r="0.72"/><circle cx="261.3" cy="74.53" r="0.72"/><circle cx="262.4" cy="74.46" r="0.72"/><circle cx="263.5" cy="74.38" r="0.72"/><circle cx="264.6" cy="74.3" r="0.72"/><circle cx="265.7" cy="74.21" r="0.72"/><circle cx="266.8" cy="74.12" r="0.72"/><circle cx="267.9" cy="74.02" r="0.72"/><circle cx="269" cy="73.92" r="0.72"/><circle cx="270.1" cy="73.81" r="0.72"/><circle cx="271.2" cy="73.69" r="0.72"/><circle cx="272.3" cy="73.57" r="0.72"/><circle cx="273.4" cy="73.43" r="0.72"/><circle cx="274.5" cy="73.27" r="0.72"/><circle cx="275.6" cy="73.09" r="0.72"/><circle cx="276.7" cy="72.91" r="0.72"/><circle cx="277.8" cy="72.71" r="0.72"/><circle cx="278.9" cy="72.5" r="0.72"/><circle cx="280" cy="72.29" r="0.72"/><circle cx="281.1" cy="72.07" r="0.72"/><circle cx="282.2" cy="71.85" r="0.72"/><circle cx="283.3" cy="71.63" r="0.72"/><circle cx="284.4" cy="71.42" r="0.72"/><circle cx="285.5" cy="71.2" r="0.72"/><circle cx="286.6" cy="70.99" r="0.72"/><circle cx="287.7" cy="70.78" r="0.72"/><circle cx="288.8" cy="70.56" r="0.72"/><circle cx="289.9" cy="70.34" r="0.72"/><circle cx="291" cy="70.11" r="0.72"/><circle cx="292.1" cy="69.88" r="0.72"/><circle cx="293.2" cy="69.65" r="0.72"/><circle cx="294.3" cy="69.42" r="0.72"/><circle cx="295.4" cy="69.18" r="0.72"/><circle cx="296.5" cy="68.94" r="0.72"/><circle cx="297.6" cy="68.69" r="0.72"/><circle cx="298.7" cy="68.44" r="0.72"/><circle cx="299.8" cy="68.18" r="0.72"/><circle cx="300.9" cy="67.91" r="0.72"/><circle cx="302" cy="67.63" r="0.72"/><circle cx="303.1" cy="67.35" r="0.72"/><circle cx="304.2" cy="67.07" r="0.72"/><circle cx="305.3" cy="66.79" r="0.72"/><circle cx="306.4" cy="66.51" r="0.72"/><circle cx="307.5" cy="66.25" r="0.72"/><circle cx="308.6" cy="65.99" r="0.72"/><circle cx="309.7" cy="65.75" r="0.72"/><circle cx="310.8" cy="65.51" r="0.72"/><circle cx="311.9" cy="65.28" r="0.72"/><circle cx="313" cy="65.05" r="0.72"/><circle cx="314.1" cy="64.82" r="0.72"/><circle cx="315.2" cy="64.58" r="0.72"/><circle cx="316.3" cy="64.33" r="0.72"/><circle cx="317.4" cy="64.07" r="0.72"/><circle cx="318.5" cy="63.79" r="0.72"/><circle cx="319.6" cy="63.49" r="0.72"/><circle cx="320.7" cy="63.2" r="0.72"/><circle cx="321.8" cy="62.9" r="0.72"/><circle cx="322.9" cy="62.58" r="0.72"/><circle cx="324" cy="62.23" r="0.72"/><circle cx="325.1" cy="61.84" r="0.72"/><circle cx="326.2" cy="61.38" r="0.72"/><circle cx="327.3" cy="60.85" r="0.72"/><circle cx="328.4" cy="60.08" r="0.72"/><circle cx="329.5" cy="59.05" r="0.72"/><circle cx="330.6" cy="57.87" r="0.72"/><circle cx="331.7" cy="56.65" r="0.72"/><circle cx="332.8" cy="55.5" r="0.72"/><circle cx="333.9" cy="54.4" r="0.72"/><circle cx="335" cy="53.3" r="0.72"/><circle cx="336.1" cy="52.13" r="0.72"/><circle cx="337.2" cy="50.8" r="0.72"/><circle cx="338.3" cy="49.25" r="0.72"/><circle cx="339.4" cy="47.31" r="0.72"/><circle cx="340.5" cy="45.14" r="0.72"/><circle cx="341.6" cy="42.9" r="0.72"/><circle cx="342.7" cy="40.69" r="0.72"/><circle cx="343.8" cy="38.42" r="0.72"/><circle cx="344.9" cy="36.07" r="0.72"/><circle cx="346" cy="33.65" r="0.72"/><circle cx="347.1" cy="31.08" r="0.72"/><circle cx="348.2" cy="28.44" r="0.72"/><circle cx="349.3" cy="25.87" r="0.72"/><circle cx="350.4" cy="23.4" r="0.72"/><circle cx="351.5" cy="20.99" r="0.72"/><circle cx="352.6" cy="18.53" r="0.72"/><circle cx="353.7" cy="15.88" r="0.72"/><circle cx="354.8" cy="13.4" r="0.72"/><circle cx="355.9" cy="11.53" r="0.72"/><circle cx="357" cy="10.27" r="0.72"/><circle cx="358.1" cy="9.37" r="0.72"/><circle cx="359.2" cy="9" r="0.72"/><circle cx="360.3" cy="8.81" r="0.72"/><circle cx="361.4" cy="8.98" r="0.72"/><circle cx="362.5" cy="9.6" r="0.72"/><circle cx="363.6" cy="10.9" r="0.72"/><circle cx="364.7" cy="12.89" r="0.72"/><circle cx="365.8" cy="15.62" r="0.72"/><circle cx="366.9" cy="18.93" r="0.72"/><circle cx="368" cy="22.51" r="0.72"/><circle cx="369.1" cy="26.45" r="0.72"/><circle cx="370.2" cy="30.16" r="0.72"/><circle cx="371.3" cy="34.13" r="0.72"/><circle cx="372.4" cy="38.51" r="0.72"/><circle cx="373.5" cy="43.77" r="0.72"/><circle cx="374.6" cy="48.2" r="0.72"/><circle cx="375.7" cy="51.82" r="0.72"/><circle cx="376.8" cy="55" r="0.72"/><circle cx="377.9" cy="57.67" r="0.72"/><circle cx="379" cy="60.42" r="0.72"/><circle cx="380.1" cy="63.06" r="0.72"/><circle cx="381.2" cy="65.47" r="0.72"/><circle cx="382.3" cy="67.44" r="0.72"/><circle cx="383.4" cy="69.08" r="0.72"/><circle cx="384.5" cy="70.42" r="0.72"/><circle cx="385.6" cy="71.58" r="0.72"/><circle cx="386.7" cy="72.58" r="0.72"/><circle cx="387.8" cy="73.41" r="0.72"/><circle cx="388.9" cy="74.06" r="0.72"/><circle cx="390" cy="74.64" r="0.72"/><circle cx="391.1" cy="75.15" r="0.72"/><circle cx="392.2" cy="75.58" r="0.72"/><circle cx="393.3" cy="75.95" r="0.72"/><circle cx="394.4" cy="76.26" r="0.72"/><circle cx="395.5" cy="76.54" r="0.72"/><circle cx="396.6" cy="76.8" r="0.72"/><circle cx="397.7" cy="77.03" r="0.72"/><circle cx="398.8" cy="77.23" r="0.72"/><circle cx="399.9" cy="77.41" r="0.72"/><circle cx="401" cy="77.55" r="0.72"/><circle cx="402.1" cy="77.68" r="0.72"/><circle cx="403.2" cy="77.79" r="0.72"/><circle cx="404.3" cy="77.9" r="0.72"/><circle cx="405.4" cy="78.01" r="0.72"/><circle cx="406.5" cy="78.1" r="0.72"/><circle cx="407.6" cy="78.19" r="0.72"/><circle cx="408.7" cy="78.28" r="0.72"/><circle cx="409.8" cy="78.35" r="0.72"/><circle cx="410.9" cy="78.42" r="0.72"/><circle cx="412" cy="78.48" r="0.72"/><circle cx="413.1" cy="78.53" r="0.72"/><circle cx="414.2" cy="78.57" r="0.72"/><circle cx="415.3" cy="78.61" r="0.72"/><circle cx="416.4" cy="78.64" r="0.72"/><circle cx="417.5" cy="78.67" r="0.72"/><circle cx="418.6" cy="78.7" r="0.72"/><circle cx="419.7" cy="78.72" r="0.72"/><circle cx="420.8" cy="78.75" r="0.72"/><circle cx="421.9" cy="78.77" r="0.72"/><circle cx="423" cy="78.79" r="0.72"/><circle cx="424.1" cy="78.81" r="0.72"/><circle cx="425.2" cy="78.83" r="0.72"/><circle cx="426.3" cy="78.85" r="0.72"/><circle cx="427.4" cy="78.87" r="0.72"/><circle cx="428.5" cy="78.88" r="0.72"/><circle cx="429.6" cy="78.9" r="0.72"/><circle cx="430.7" cy="78.91" r="0.72"/><circle cx="431.8" cy="78.93" r="0.72"/><circle cx="432.9" cy="78.94" r="0.72"/><circle cx="434" cy="78.96" r="0.72"/><circle cx="435.1" cy="78.97" r="0.72"/><circle cx="436.2" cy="78.99" r="0.72"/><circle cx="437.3" cy="79" r="0.72"/><circle cx="438.4" cy="79.01" r="0.72"/><circle cx="439.5" cy="79.03" r="0.72"/><circle cx="440.6" cy="79.05" r="0.72"/><circle cx="441.7" cy="79.06" r="0.72"/><circle cx="442.8" cy="79.08" r="0.72"/><circle cx="443.9" cy="79.1" r="0.72"/><circle cx="445" cy="79.1" r="0.72"/><circle cx="446.1" cy="79.1" r="0.72"/><circle cx="447.2" cy="79.1" r="0.72"/></g>
<path d="M247,149.06 L247.5,149.05 L248,149.05 L248.5,149.04 L249,149.04 L249.5,149.03 L250,149.03 L250.5,149.02 L251,149.01 L251.5,149.01 L252,149 L252.5,148.99 L253,148.98 L253.5,148.97 L254,148.96 L254.5,148.95 L255,148.94 L255.5,148.92 L256,148.91 L256.5,148.9 L257,148.88 L257.5,148.86 L258,148.85 L258.5,148.83 L259,148.81 L259.5,148.79 L260,148.76 L260.5,148.74 L261,148.72 L261.5,148.69 L262,148.66 L262.5,148.63 L263,148.6 L263.5,148.57 L264,148.54 L264.5,148.5 L265,148.47 L265.5,148.43 L266,148.39 L266.5,148.35 L267,148.3 L267.5,148.26 L268,148.21 L268.5,148.16 L269,148.11 L269.5,148.06 L270,148.01 L270.5,147.95 L271,147.89 L271.5,147.83 L272,147.77 L272.5,147.71 L273,147.64 L273.5,147.58 L274,147.51 L274.5,147.44 L275,147.37 L275.5,147.3 L276,147.22 L276.5,147.15 L277,147.07 L277.5,146.99 L278,146.91 L278.5,146.83 L279,146.75 L279.5,146.67 L280,146.59 L280.5,146.51 L281,146.42 L281.5,146.34 L282,146.26 L282.5,146.17 L283,146.09 L283.5,146.01 L284,145.93 L284.5,145.84 L285,145.76 L285.5,145.68 L286,145.61 L286.5,145.53 L287,145.45 L287.5,145.38 L288,145.31 L288.5,145.24 L289,145.17 L289.5,145.11 L290,145.04 L290.5,144.98 L291,144.93 L291.5,144.87 L292,144.82 L292.5,144.77 L293,144.73 L293.5,144.69 L294,144.65 L294.5,144.62 L295,144.59 L295.5,144.56 L296,144.54 L296.5,144.52 L297,144.51 L297.5,144.5 L298,144.49 L298.5,144.49 L299,144.49 L299.5,144.5 L300,144.51 L300.5,144.53 L301,144.55 L301.5,144.58 L302,144.62 L302.5,144.65 L303,144.7 L303.5,144.75 L304,144.8 L304.5,144.86 L305,144.92 L305.5,144.99 L306,145.06 L306.5,145.13 L307,145.21 L307.5,145.29 L308,145.38 L308.5,145.46 L309,145.55 L309.5,145.65 L310,145.74 L310.5,145.84 L311,145.94 L311.5,146.04 L312,146.14 L312.5,146.24 L313,146.34 L313.5,146.44 L314,146.55 L314.5,146.65 L315,146.76 L315.5,146.86 L316,146.96 L316.5,147.06 L317,147.16 L317.5,147.27 L318,147.36 L318.5,147.46 L319,147.56 L319.5,147.65 L320,147.75 L320.5,147.84 L321,147.93 L321.5,148.01 L322,148.1 L322.5,148.18 L323,148.26 L323.5,148.34 L324,148.42 L324.5,148.49 L325,148.56 L325.5,148.63 L326,148.7 L326.5,148.77 L327,148.83 L327.5,148.89 L328,148.95 L328.5,149.01 L329,149.07 L329.5,149.12 L330,149.17 L330.5,149.22 L331,149.27 L331.5,149.32 L332,149.36 L332.5,149.41 L333,149.45 L333.5,149.49 L334,149.53 L334.5,149.57 L335,149.6 L335.5,149.64 L336,149.68 L336.5,149.71 L337,149.74 L337.5,149.78 L338,149.81 L338.5,149.84 L339,149.87 L339.5,149.91 L340,149.94 L340.5,149.97 L341,150 L341.5,150.03 L342,150.06 L342.5,150.09 L343,150.12 L343.5,150.15 L344,150.18 L344.5,150.21 L345,150.24 L345.5,150.27 L346,150.3 L346.5,150.33 L347,150.36 L347.5,150.4 L348,150.43 L348.5,150.46 L349,150.49 L349.5,150.53 L350,150.56 L350.5,150.59 L351,150.63 L351.5,150.66 L352,150.69 L352.5,150.73 L353,150.76 L353.5,150.79 L354,150.83 L354.5,150.86 L355,150.89 L355.5,150.93 L356,150.96 L356.5,150.99 L357,151.03 L357.5,151.06 L358,151.09 L358.5,151.12 L359,151.15 L359.5,151.18 L360,151.21 L360.5,151.24 L361,151.26 L361.5,151.29 L362,151.32 L362.5,151.34 L363,151.37 L363.5,151.39 L364,151.41 L364.5,151.43 L365,151.45 L365.5,151.47 L366,151.49 L366.5,151.51 L367,151.53 L367.5,151.55 L368,151.56 L368.5,151.58 L369,151.59 L369.5,151.6 L370,151.62 L370.5,151.63 L371,151.64 L371.5,151.65 L372,151.66 L372.5,151.67 L373,151.68 L373.5,151.69 L374,151.7 L374.5,151.7 L375,151.71 L375.5,151.72 L376,151.72 L376.5,151.73 L377,151.73 L377.5,151.74 L378,151.74 L378.5,151.74 L379,151.75 L379.5,151.75 L380,151.75 L380.5,151.76 L381,151.76 L381.5,151.76 L382,151.76 L382.5,151.77 L383,151.77 L383.5,151.77 L384,151.77 L384.5,151.77 L385,151.77 L385.5,151.77 L386,151.78 L386.5,151.78 L387,151.78 L387.5,151.78 L388,151.78 L388.5,151.78 L389,151.78 L389.5,151.78 L390,151.78 L390.5,151.78 L391,151.78 L391.5,151.78 L392,151.78 L392.5,151.78 L393,151.78 L393.5,151.78 L394,151.79 L394.5,151.79 L395,151.79 L395.5,151.79 L396,151.79 L396.5,151.79 L397,151.79 L397.5,151.79 L398,151.79 L398.5,151.79 L399,151.79 L399.5,151.79 L400,151.79 L400.5,151.79 L401,151.79 L401.5,151.79 L402,151.79 L402.5,151.79 L403,151.79 L403.5,151.79 L404,151.79 L404.5,151.79 L405,151.79 L405.5,151.79 L406,151.79 L406.5,151.79 L407,151.79 L407.5,151.79 L408,151.79 L408.5,151.79 L409,151.79 L409.5,151.79 L410,151.79 L410.5,151.79 L411,151.79 L411.5,151.79 L412,151.79 L412.5,151.79 L413,151.79 L413.5,151.79 L414,151.79 L414.5,151.79 L415,151.79 L415.5,151.79 L416,151.79 L416.5,151.79 L417,151.79 L417.5,151.8 L418,151.8 L418.5,151.8 L419,151.8 L419.5,151.8 L420,151.8 L420.5,151.8 L421,151.8 L421.5,151.8 L422,151.8 L422.5,151.8 L423,151.8 L423.5,151.8 L424,151.8 L424.5,151.8 L425,151.8 L425.5,151.8 L426,151.8 L426.5,151.8 L427,151.8 L427.5,151.8 L428,151.8 L428.5,151.8 L429,151.8 L429.5,151.8 L430,151.8 L430.5,151.8 L431,151.8 L431.5,151.8 L432,151.8 L432.5,151.8 L433,151.8 L433.5,151.8 L434,151.8 L434.5,151.8 L435,151.8 L435.5,151.8 L436,151.8 L436.5,151.8 L437,151.8 L437.5,151.8 L438,151.8 L438.5,151.8 L439,151.8 L439.5,151.8 L440,151.8 L440.5,151.8 L441,151.8 L441.5,151.8 L442,151.8 L442.5,151.8 L443,151.8 L443.5,151.8 L444,151.8 L444,151.8 L443.5,151.8 L443,151.8 L442.5,151.8 L442,151.8 L441.5,151.8 L441,151.8 L440.5,151.8 L440,151.8 L439.5,151.8 L439,151.8 L438.5,151.8 L438,151.8 L437.5,151.8 L437,151.8 L436.5,151.8 L436,151.8 L435.5,151.8 L435,151.8 L434.5,151.8 L434,151.8 L433.5,151.8 L433,151.8 L432.5,151.8 L432,151.8 L431.5,151.8 L431,151.8 L430.5,151.8 L430,151.8 L429.5,151.8 L429,151.8 L428.5,151.8 L428,151.8 L427.5,151.8 L427,151.8 L426.5,151.8 L426,151.8 L425.5,151.8 L425,151.8 L424.5,151.8 L424,151.8 L423.5,151.8 L423,151.8 L422.5,151.8 L422,151.8 L421.5,151.8 L421,151.8 L420.5,151.8 L420,151.8 L419.5,151.8 L419,151.8 L418.5,151.8 L418,151.8 L417.5,151.8 L417,151.79 L416.5,151.79 L416,151.79 L415.5,151.79 L415,151.79 L414.5,151.79 L414,151.79 L413.5,151.79 L413,151.79 L412.5,151.79 L412,151.79 L411.5,151.79 L411,151.79 L410.5,151.79 L410,151.79 L409.5,151.79 L409,151.79 L408.5,151.79 L408,151.79 L407.5,151.79 L407,151.79 L406.5,151.79 L406,151.79 L405.5,151.79 L405,151.79 L404.5,151.79 L404,151.79 L403.5,151.79 L403,151.79 L402.5,151.79 L402,151.79 L401.5,151.79 L401,151.79 L400.5,151.79 L400,151.79 L399.5,151.79 L399,151.79 L398.5,151.79 L398,151.79 L397.5,151.79 L397,151.79 L396.5,151.79 L396,151.79 L395.5,151.79 L395,151.79 L394.5,151.79 L394,151.79 L393.5,151.78 L393,151.78 L392.5,151.78 L392,151.78 L391.5,151.78 L391,151.78 L390.5,151.78 L390,151.78 L389.5,151.78 L389,151.78 L388.5,151.78 L388,151.78 L387.5,151.78 L387,151.78 L386.5,151.78 L386,151.78 L385.5,151.77 L385,151.77 L384.5,151.77 L384,151.77 L383.5,151.77 L383,151.77 L382.5,151.77 L382,151.76 L381.5,151.76 L381,151.76 L380.5,151.76 L380,151.75 L379.5,151.75 L379,151.75 L378.5,151.74 L378,151.74 L377.5,151.74 L377,151.73 L376.5,151.73 L376,151.72 L375.5,151.72 L375,151.71 L374.5,151.7 L374,151.7 L373.5,151.69 L373,151.68 L372.5,151.67 L372,151.66 L371.5,151.65 L371,151.64 L370.5,151.63 L370,151.62 L369.5,151.6 L369,151.59 L368.5,151.58 L368,151.56 L367.5,151.55 L367,151.53 L366.5,151.51 L366,151.49 L365.5,151.47 L365,151.45 L364.5,151.43 L364,151.41 L363.5,151.39 L363,151.37 L362.5,151.34 L362,151.32 L361.5,151.29 L361,151.26 L360.5,151.24 L360,151.21 L359.5,151.18 L359,151.15 L358.5,151.12 L358,151.09 L357.5,151.06 L357,151.03 L356.5,151 L356,150.96 L355.5,150.93 L355,150.9 L354.5,150.87 L354,150.83 L353.5,150.8 L353,150.77 L352.5,150.73 L352,150.7 L351.5,150.67 L351,150.64 L350.5,150.61 L350,150.57 L349.5,150.54 L349,150.51 L348.5,150.48 L348,150.45 L347.5,150.42 L347,150.39 L346.5,150.37 L346,150.34 L345.5,150.31 L345,150.28 L344.5,150.26 L344,150.23 L343.5,150.21 L343,150.18 L342.5,150.16 L342,150.14 L341.5,150.11 L341,150.09 L340.5,150.07 L340,150.05 L339.5,150.03 L339,150.01 L338.5,149.99 L338,149.97 L337.5,149.96 L337,149.94 L336.5,149.92 L336,149.91 L335.5,149.89 L335,149.87 L334.5,149.86 L334,149.84 L333.5,149.83 L333,149.82 L332.5,149.8 L332,149.79 L331.5,149.78 L331,149.76 L330.5,149.75 L330,149.74 L329.5,149.73 L329,149.72 L328.5,149.7 L328,149.69 L327.5,149.68 L327,149.67 L326.5,149.66 L326,149.65 L325.5,149.64 L325,149.63 L324.5,149.62 L324,149.61 L323.5,149.61 L323,149.6 L322.5,149.59 L322,149.58 L321.5,149.57 L321,149.56 L320.5,149.55 L320,149.55 L319.5,149.54 L319,149.53 L318.5,149.52 L318,149.52 L317.5,149.51 L317,149.5 L316.5,149.49 L316,149.49 L315.5,149.48 L315,149.47 L314.5,149.47 L314,149.46 L313.5,149.45 L313,149.45 L312.5,149.44 L312,149.43 L311.5,149.43 L311,149.42 L310.5,149.42 L310,149.41 L309.5,149.4 L309,149.4 L308.5,149.39 L308,149.39 L307.5,149.38 L307,149.37 L306.5,149.37 L306,149.36 L305.5,149.36 L305,149.35 L304.5,149.35 L304,149.34 L303.5,149.34 L303,149.33 L302.5,149.33 L302,149.32 L301.5,149.32 L301,149.31 L300.5,149.31 L300,149.3 L299.5,149.3 L299,149.29 L298.5,149.29 L298,149.28 L297.5,149.28 L297,149.27 L296.5,149.27 L296,149.26 L295.5,149.26 L295,149.26 L294.5,149.25 L294,149.25 L293.5,149.24 L293,149.24 L292.5,149.23 L292,149.23 L291.5,149.23 L291,149.22 L290.5,149.22 L290,149.22 L289.5,149.21 L289,149.21 L288.5,149.21 L288,149.2 L287.5,149.2 L287,149.2 L286.5,149.19 L286,149.19 L285.5,149.19 L285,149.18 L284.5,149.18 L284,149.18 L283.5,149.18 L283,149.17 L282.5,149.17 L282,149.17 L281.5,149.17 L281,149.16 L280.5,149.16 L280,149.16 L279.5,149.16 L279,149.15 L278.5,149.15 L278,149.15 L277.5,149.15 L277,149.15 L276.5,149.14 L276,149.14 L275.5,149.14 L275,149.14 L274.5,149.14 L274,149.14 L273.5,149.14 L273,149.13 L272.5,149.13 L272,149.13 L271.5,149.13 L271,149.13 L270.5,149.13 L270,149.13 L269.5,149.13 L269,149.12 L268.5,149.12 L268,149.12 L267.5,149.12 L267,149.12 L266.5,149.12 L266,149.12 L265.5,149.12 L265,149.12 L264.5,149.12 L264,149.12 L263.5,149.11 L263,149.11 L262.5,149.11 L262,149.11 L261.5,149.11 L261,149.11 L260.5,149.11 L260,149.11 L259.5,149.11 L259,149.11 L258.5,149.11 L258,149.11 L257.5,149.11 L257,149.11 L256.5,149.11 L256,149.11 L255.5,149.11 L255,149.11 L254.5,149.11 L254,149.1 L253.5,149.1 L253,149.1 L252.5,149.1 L252,149.1 L251.5,149.1 L251,149.1 L250.5,149.1 L250,149.1 L249.5,149.1 L249,149.1 L248.5,149.1 L248,149.1 L247.5,149.1 L247,149.1Z" fill="#e1d531" fill-opacity="0.5"/>
<path d="M247,148.71 L247.5,148.71 L248,148.71 L248.5,148.7 L249,148.7 L249.5,148.7 L250,148.69 L250.5,148.69 L251,148.69 L251.5,148.68 L252,148.68 L252.5,148.67 L253,148.67 L253.5,148.67 L254,148.66 L254.5,148.66 L255,148.65 L255.5,148.65 L256,148.65 L256.5,148.64 L257,148.64 L257.5,148.63 L258,148.63 L258.5,148.62 L259,148.62 L259.5,148.62 L260,148.61 L260.5,148.61 L261,148.6 L261.5,148.6 L262,148.59 L262.5,148.59 L263,148.58 L263.5,148.58 L264,148.57 L264.5,148.57 L265,148.56 L265.5,148.56 L266,148.55 L266.5,148.55 L267,148.54 L267.5,148.54 L268,148.53 L268.5,148.52 L269,148.52 L269.5,148.51 L270,148.51 L270.5,148.5 L271,148.49 L271.5,148.49 L272,148.48 L272.5,148.48 L273,148.47 L273.5,148.46 L274,148.46 L274.5,148.45 L275,148.44 L275.5,148.44 L276,148.43 L276.5,148.42 L277,148.41 L277.5,148.41 L278,148.4 L278.5,148.39 L279,148.38 L279.5,148.38 L280,148.37 L280.5,148.36 L281,148.35 L281.5,148.34 L282,148.33 L282.5,148.33 L283,148.32 L283.5,148.31 L284,148.3 L284.5,148.29 L285,148.28 L285.5,148.27 L286,148.26 L286.5,148.25 L287,148.24 L287.5,148.23 L288,148.22 L288.5,148.21 L289,148.2 L289.5,148.19 L290,148.17 L290.5,148.16 L291,148.15 L291.5,148.14 L292,148.13 L292.5,148.11 L293,148.1 L293.5,148.09 L294,148.07 L294.5,148.06 L295,148.04 L295.5,148.03 L296,148.01 L296.5,148 L297,147.98 L297.5,147.96 L298,147.94 L298.5,147.93 L299,147.91 L299.5,147.89 L300,147.87 L300.5,147.85 L301,147.83 L301.5,147.81 L302,147.79 L302.5,147.76 L303,147.74 L303.5,147.71 L304,147.69 L304.5,147.66 L305,147.64 L305.5,147.61 L306,147.58 L306.5,147.55 L307,147.52 L307.5,147.49 L308,147.45 L308.5,147.42 L309,147.38 L309.5,147.34 L310,147.3 L310.5,147.26 L311,147.21 L311.5,147.17 L312,147.12 L312.5,147.07 L313,147.01 L313.5,146.96 L314,146.9 L314.5,146.83 L315,146.76 L315.5,146.69 L316,146.62 L316.5,146.54 L317,146.45 L317.5,146.36 L318,146.26 L318.5,146.16 L319,146.05 L319.5,145.93 L320,145.81 L320.5,145.68 L321,145.54 L321.5,145.38 L322,145.22 L322.5,145.05 L323,144.86 L323.5,144.67 L324,144.46 L324.5,144.23 L325,143.99 L325.5,143.74 L326,143.47 L326.5,143.18 L327,142.87 L327.5,142.55 L328,142.2 L328.5,141.84 L329,141.45 L329.5,141.04 L330,140.6 L330.5,140.14 L331,139.66 L331.5,139.15 L332,138.62 L332.5,138.05 L333,137.46 L333.5,136.85 L334,136.2 L334.5,135.52 L335,134.82 L335.5,134.09 L336,133.32 L336.5,132.53 L337,131.71 L337.5,130.87 L338,129.99 L338.5,129.09 L339,128.17 L339.5,127.22 L340,126.24 L340.5,125.25 L341,124.23 L341.5,123.2 L342,122.15 L342.5,121.08 L343,120.01 L343.5,118.93 L344,117.84 L344.5,116.76 L345,115.67 L345.5,114.59 L346,113.53 L346.5,112.48 L347,111.45 L347.5,110.45 L348,109.48 L348.5,108.54 L349,107.66 L349.5,106.82 L350,106.03 L350.5,105.31 L351,104.65 L351.5,104.07 L352,103.57 L352.5,103.15 L353,102.82 L353.5,102.58 L354,102.43 L354.5,102.37 L355,102.42 L355.5,102.56 L356,102.8 L356.5,103.13 L357,103.56 L357.5,104.08 L358,104.69 L358.5,105.39 L359,106.16 L359.5,107 L360,107.92 L360.5,108.9 L361,109.94 L361.5,111.02 L362,112.16 L362.5,113.34 L363,114.54 L363.5,115.78 L364,117.04 L364.5,118.32 L365,119.61 L365.5,120.91 L366,122.2 L366.5,123.49 L367,124.78 L367.5,126.05 L368,127.3 L368.5,128.53 L369,129.74 L369.5,130.92 L370,132.08 L370.5,133.19 L371,134.28 L371.5,135.33 L372,136.34 L372.5,137.31 L373,138.24 L373.5,139.13 L374,139.98 L374.5,140.79 L375,141.56 L375.5,142.29 L376,142.97 L376.5,143.62 L377,144.23 L377.5,144.8 L378,145.34 L378.5,145.84 L379,146.31 L379.5,146.74 L380,147.14 L380.5,147.52 L381,147.86 L381.5,148.18 L382,148.47 L382.5,148.74 L383,148.99 L383.5,149.22 L384,149.43 L384.5,149.62 L385,149.79 L385.5,149.95 L386,150.09 L386.5,150.22 L387,150.34 L387.5,150.45 L388,150.54 L388.5,150.63 L389,150.71 L389.5,150.78 L390,150.85 L390.5,150.9 L391,150.96 L391.5,151.01 L392,151.05 L392.5,151.09 L393,151.12 L393.5,151.15 L394,151.18 L394.5,151.21 L395,151.23 L395.5,151.26 L396,151.28 L396.5,151.29 L397,151.31 L397.5,151.33 L398,151.34 L398.5,151.35 L399,151.37 L399.5,151.38 L400,151.39 L400.5,151.4 L401,151.41 L401.5,151.42 L402,151.43 L402.5,151.44 L403,151.44 L403.5,151.45 L404,151.46 L404.5,151.47 L405,151.47 L405.5,151.48 L406,151.48 L406.5,151.49 L407,151.5 L407.5,151.5 L408,151.51 L408.5,151.51 L409,151.52 L409.5,151.52 L410,151.53 L410.5,151.53 L411,151.54 L411.5,151.54 L412,151.55 L412.5,151.55 L413,151.55 L413.5,151.56 L414,151.56 L414.5,151.57 L415,151.57 L415.5,151.57 L416,151.58 L416.5,151.58 L417,151.58 L417.5,151.59 L418,151.59 L418.5,151.59 L419,151.6 L419.5,151.6 L420,151.6 L420.5,151.61 L421,151.61 L421.5,151.61 L422,151.61 L422.5,151.62 L423,151.62 L423.5,151.62 L424,151.62 L424.5,151.63 L425,151.63 L425.5,151.63 L426,151.63 L426.5,151.64 L427,151.64 L427.5,151.64 L428,151.64 L428.5,151.64 L429,151.65 L429.5,151.65 L430,151.65 L430.5,151.65 L431,151.65 L431.5,151.66 L432,151.66 L432.5,151.66 L433,151.66 L433.5,151.66 L434,151.67 L434.5,151.67 L435,151.67 L435.5,151.67 L436,151.67 L436.5,151.67 L437,151.68 L437.5,151.68 L438,151.68 L438.5,151.68 L439,151.68 L439.5,151.68 L440,151.68 L440.5,151.69 L441,151.69 L441.5,151.69 L442,151.69 L442.5,151.69 L443,151.69 L443.5,151.69 L444,151.69 L444,151.8 L443.5,151.8 L443,151.8 L442.5,151.8 L442,151.8 L441.5,151.8 L441,151.8 L440.5,151.8 L440,151.8 L439.5,151.8 L439,151.8 L438.5,151.8 L438,151.8 L437.5,151.8 L437,151.8 L436.5,151.8 L436,151.8 L435.5,151.8 L435,151.8 L434.5,151.8 L434,151.8 L433.5,151.8 L433,151.8 L432.5,151.8 L432,151.8 L431.5,151.8 L431,151.8 L430.5,151.8 L430,151.8 L429.5,151.8 L429,151.8 L428.5,151.8 L428,151.8 L427.5,151.8 L427,151.8 L426.5,151.8 L426,151.8 L425.5,151.8 L425,151.8 L424.5,151.8 L424,151.8 L423.5,151.8 L423,151.8 L422.5,151.8 L422,151.8 L421.5,151.8 L421,151.8 L420.5,151.8 L420,151.8 L419.5,151.8 L419,151.8 L418.5,151.8 L418,151.8 L417.5,151.8 L417,151.79 L416.5,151.79 L416,151.79 L415.5,151.79 L415,151.79 L414.5,151.79 L414,151.79 L413.5,151.79 L413,151.79 L412.5,151.79 L412,151.79 L411.5,151.79 L411,151.79 L410.5,151.79 L410,151.79 L409.5,151.79 L409,151.79 L408.5,151.79 L408,151.79 L407.5,151.79 L407,151.79 L406.5,151.79 L406,151.79 L405.5,151.79 L405,151.79 L404.5,151.79 L404,151.79 L403.5,151.79 L403,151.79 L402.5,151.79 L402,151.79 L401.5,151.79 L401,151.79 L400.5,151.79 L400,151.79 L399.5,151.79 L399,151.79 L398.5,151.79 L398,151.79 L397.5,151.79 L397,151.79 L396.5,151.79 L396,151.79 L395.5,151.79 L395,151.79 L394.5,151.79 L394,151.79 L393.5,151.78 L393,151.78 L392.5,151.78 L392,151.78 L391.5,151.78 L391,151.78 L390.5,151.78 L390,151.78 L389.5,151.78 L389,151.78 L388.5,151.78 L388,151.78 L387.5,151.78 L387,151.78 L386.5,151.78 L386,151.78 L385.5,151.77 L385,151.77 L384.5,151.77 L384,151.77 L383.5,151.77 L383,151.77 L382.5,151.77 L382,151.76 L381.5,151.76 L381,151.76 L380.5,151.76 L380,151.75 L379.5,151.75 L379,151.75 L378.5,151.74 L378,151.74 L377.5,151.74 L377,151.73 L376.5,151.73 L376,151.72 L375.5,151.72 L375,151.71 L374.5,151.7 L374,151.7 L373.5,151.69 L373,151.68 L372.5,151.67 L372,151.66 L371.5,151.65 L371,151.64 L370.5,151.63 L370,151.62 L369.5,151.6 L369,151.59 L368.5,151.58 L368,151.56 L367.5,151.55 L367,151.53 L366.5,151.51 L366,151.49 L365.5,151.47 L365,151.45 L364.5,151.43 L364,151.41 L363.5,151.39 L363,151.37 L362.5,151.34 L362,151.32 L361.5,151.29 L361,151.26 L360.5,151.24 L360,151.21 L359.5,151.18 L359,151.15 L358.5,151.12 L358,151.09 L357.5,151.06 L357,151.03 L356.5,151 L356,150.96 L355.5,150.93 L355,150.9 L354.5,150.87 L354,150.83 L353.5,150.8 L353,150.77 L352.5,150.73 L352,150.7 L351.5,150.67 L351,150.64 L350.5,150.61 L350,150.57 L349.5,150.54 L349,150.51 L348.5,150.48 L348,150.45 L347.5,150.42 L347,150.39 L346.5,150.37 L346,150.34 L345.5,150.31 L345,150.28 L344.5,150.26 L344,150.23 L343.5,150.21 L343,150.18 L342.5,150.16 L342,150.14 L341.5,150.11 L341,150.09 L340.5,150.07 L340,150.05 L339.5,150.03 L339,150.01 L338.5,149.99 L338,149.97 L337.5,149.96 L337,149.94 L336.5,149.92 L336,149.91 L335.5,149.89 L335,149.87 L334.5,149.86 L334,149.84 L333.5,149.83 L333,149.82 L332.5,149.8 L332,149.79 L331.5,149.78 L331,149.76 L330.5,149.75 L330,149.74 L329.5,149.73 L329,149.72 L328.5,149.7 L328,149.69 L327.5,149.68 L327,149.67 L326.5,149.66 L326,149.65 L325.5,149.64 L325,149.63 L324.5,149.62 L324,149.61 L323.5,149.61 L323,149.6 L322.5,149.59 L322,149.58 L321.5,149.57 L321,149.56 L320.5,149.55 L320,149.55 L319.5,149.54 L319,149.53 L318.5,149.52 L318,149.52 L317.5,149.51 L317,149.5 L316.5,149.49 L316,149.49 L315.5,149.48 L315,149.47 L314.5,149.47 L314,149.46 L313.5,149.45 L313,149.45 L312.5,149.44 L312,149.43 L311.5,149.43 L311,149.42 L310.5,149.42 L310,149.41 L309.5,149.4 L309,149.4 L308.5,149.39 L308,149.39 L307.5,149.38 L307,149.37 L306.5,149.37 L306,149.36 L305.5,149.36 L305,149.35 L304.5,149.35 L304,149.34 L303.5,149.34 L303,149.33 L302.5,149.33 L302,149.32 L301.5,149.32 L301,149.31 L300.5,149.31 L300,149.3 L299.5,149.3 L299,149.29 L298.5,149.29 L298,149.28 L297.5,149.28 L297,149.27 L296.5,149.27 L296,149.26 L295.5,149.26 L295,149.26 L294.5,149.25 L294,149.25 L293.5,149.24 L293,149.24 L292.5,149.23 L292,149.23 L291.5,149.23 L291,149.22 L290.5,149.22 L290,149.22 L289.5,149.21 L289,149.21 L288.5,149.21 L288,149.2 L287.5,149.2 L287,149.2 L286.5,149.19 L286,149.19 L285.5,149.19 L285,149.18 L284.5,149.18 L284,149.18 L283.5,149.18 L283,149.17 L282.5,149.17 L282,149.17 L281.5,149.17 L281,149.16 L280.5,149.16 L280,149.16 L279.5,149.16 L279,149.15 L278.5,149.15 L278,149.15 L277.5,149.15 L277,149.15 L276.5,149.14 L276,149.14 L275.5,149.14 L275,149.14 L274.5,149.14 L274,149.14 L273.5,149.14 L273,149.13 L272.5,149.13 L272,149.13 L271.5,149.13 L271,149.13 L270.5,149.13 L270,149.13 L269.5,149.13 L269,149.12 L268.5,149.12 L268,149.12 L267.5,149.12 L267,149.12 L266.5,149.12 L266,149.12 L265.5,149.12 L265,149.12 L264.5,149.12 L264,149.12 L263.5,149.11 L263,149.11 L262.5,149.11 L262,149.11 L261.5,149.11 L261,149.11 L260.5,149.11 L260,149.11 L259.5,149.11 L259,149.11 L258.5,149.11 L258,149.11 L257.5,149.11 L257,149.11 L256.5,149.11 L256,149.11 L255.5,149.11 L255,149.11 L254.5,149.11 L254,149.1 L253.5,149.1 L253,149.1 L252.5,149.1 L252,149.1 L251.5,149.1 L251,149.1 L250.5,149.1 L250,149.1 L249.5,149.1 L249,149.1 L248.5,149.1 L248,149.1 L247.5,149.1 L247,149.1Z" fill="#ff555a" fill-opacity="0.5"/>
<path d="M247,149.1 L247.5,149.1 L248,149.1 L248.5,149.1 L249,149.1 L249.5,149.1 L250,149.1 L250.5,149.1 L251,149.1 L251.5,149.1 L252,149.1 L252.5,149.1 L253,149.1 L253.5,149.1 L254,149.1 L254.5,149.1 L255,149.11 L255.5,149.11 L256,149.11 L256.5,149.11 L257,149.11 L257.5,149.11 L258,149.11 L258.5,149.11 L259,149.11 L259.5,149.11 L260,149.11 L260.5,149.11 L261,149.11 L261.5,149.11 L262,149.11 L262.5,149.11 L263,149.11 L263.5,149.11 L264,149.11 L264.5,149.11 L265,149.11 L265.5,149.11 L266,149.12 L266.5,149.12 L267,149.12 L267.5,149.12 L268,149.12 L268.5,149.12 L269,149.12 L269.5,149.12 L270,149.12 L270.5,149.12 L271,149.12 L271.5,149.12 L272,149.12 L272.5,149.12 L273,149.12 L273.5,149.12 L274,149.12 L274.5,149.12 L275,149.12 L275.5,149.11 L276,149.11 L276.5,149.11 L277,149.11 L277.5,149.11 L278,149.11 L278.5,149.1 L279,149.1 L279.5,149.1 L280,149.09 L280.5,149.09 L281,149.08 L281.5,149.08 L282,149.07 L282.5,149.07 L283,149.06 L283.5,149.05 L284,149.04 L284.5,149.03 L285,149.02 L285.5,149.01 L286,149 L286.5,148.99 L287,148.97 L287.5,148.96 L288,148.94 L288.5,148.92 L289,148.9 L289.5,148.88 L290,148.86 L290.5,148.83 L291,148.8 L291.5,148.77 L292,148.74 L292.5,148.71 L293,148.68 L293.5,148.64 L294,148.6 L294.5,148.56 L295,148.51 L295.5,148.47 L296,148.42 L296.5,148.36 L297,148.31 L297.5,148.25 L298,148.19 L298.5,148.12 L299,148.06 L299.5,147.99 L300,147.91 L300.5,147.83 L301,147.75 L301.5,147.67 L302,147.58 L302.5,147.49 L303,147.39 L303.5,147.29 L304,147.19 L304.5,147.09 L305,146.98 L305.5,146.86 L306,146.75 L306.5,146.63 L307,146.5 L307.5,146.38 L308,146.25 L308.5,146.12 L309,145.98 L309.5,145.84 L310,145.7 L310.5,145.56 L311,145.42 L311.5,145.27 L312,145.12 L312.5,144.97 L313,144.82 L313.5,144.66 L314,144.51 L314.5,144.36 L315,144.2 L315.5,144.05 L316,143.89 L316.5,143.74 L317,143.58 L317.5,143.43 L318,143.28 L318.5,143.13 L319,142.99 L319.5,142.84 L320,142.7 L320.5,142.57 L321,142.43 L321.5,142.3 L322,142.18 L322.5,142.05 L323,141.94 L323.5,141.83 L324,141.72 L324.5,141.62 L325,141.53 L325.5,141.44 L326,141.36 L326.5,141.29 L327,141.22 L327.5,141.16 L328,141.11 L328.5,141.07 L329,141.03 L329.5,141 L330,140.99 L330.5,140.97 L331,140.97 L331.5,140.98 L332,140.99 L332.5,141.01 L333,141.04 L333.5,141.08 L334,141.13 L334.5,141.18 L335,141.25 L335.5,141.32 L336,141.4 L336.5,141.49 L337,141.58 L337.5,141.68 L338,141.79 L338.5,141.91 L339,142.03 L339.5,142.16 L340,142.3 L340.5,142.44 L341,142.59 L341.5,142.74 L342,142.89 L342.5,143.06 L343,143.22 L343.5,143.39 L344,143.57 L344.5,143.74 L345,143.92 L345.5,144.11 L346,144.29 L346.5,144.48 L347,144.67 L347.5,144.86 L348,145.05 L348.5,145.24 L349,145.43 L349.5,145.63 L350,145.82 L350.5,146.01 L351,146.2 L351.5,146.39 L352,146.57 L352.5,146.76 L353,146.94 L353.5,147.12 L354,147.3 L354.5,147.48 L355,147.65 L355.5,147.82 L356,147.99 L356.5,148.15 L357,148.31 L357.5,148.47 L358,148.62 L358.5,148.77 L359,148.91 L359.5,149.05 L360,149.19 L360.5,149.32 L361,149.45 L361.5,149.57 L362,149.69 L362.5,149.8 L363,149.91 L363.5,150.02 L364,150.12 L364.5,150.21 L365,150.31 L365.5,150.39 L366,150.48 L366.5,150.56 L367,150.64 L367.5,150.71 L368,150.78 L368.5,150.85 L369,150.91 L369.5,150.97 L370,151.02 L370.5,151.08 L371,151.13 L371.5,151.17 L372,151.22 L372.5,151.26 L373,151.3 L373.5,151.33 L374,151.37 L374.5,151.4 L375,151.43 L375.5,151.46 L376,151.48 L376.5,151.51 L377,151.53 L377.5,151.55 L378,151.57 L378.5,151.59 L379,151.6 L379.5,151.62 L380,151.63 L380.5,151.65 L381,151.66 L381.5,151.67 L382,151.68 L382.5,151.69 L383,151.7 L383.5,151.7 L384,151.71 L384.5,151.72 L385,151.73 L385.5,151.73 L386,151.74 L386.5,151.74 L387,151.75 L387.5,151.75 L388,151.75 L388.5,151.76 L389,151.76 L389.5,151.76 L390,151.76 L390.5,151.77 L391,151.77 L391.5,151.77 L392,151.77 L392.5,151.77 L393,151.78 L393.5,151.78 L394,151.78 L394.5,151.78 L395,151.78 L395.5,151.78 L396,151.78 L396.5,151.78 L397,151.78 L397.5,151.78 L398,151.78 L398.5,151.79 L399,151.79 L399.5,151.79 L400,151.79 L400.5,151.79 L401,151.79 L401.5,151.79 L402,151.79 L402.5,151.79 L403,151.79 L403.5,151.79 L404,151.79 L404.5,151.79 L405,151.79 L405.5,151.79 L406,151.79 L406.5,151.79 L407,151.79 L407.5,151.79 L408,151.79 L408.5,151.79 L409,151.79 L409.5,151.79 L410,151.79 L410.5,151.79 L411,151.79 L411.5,151.79 L412,151.79 L412.5,151.79 L413,151.79 L413.5,151.79 L414,151.79 L414.5,151.79 L415,151.79 L415.5,151.79 L416,151.79 L416.5,151.79 L417,151.79 L417.5,151.8 L418,151.8 L418.5,151.8 L419,151.8 L419.5,151.8 L420,151.8 L420.5,151.8 L421,151.8 L421.5,151.8 L422,151.8 L422.5,151.8 L423,151.8 L423.5,151.8 L424,151.8 L424.5,151.8 L425,151.8 L425.5,151.8 L426,151.8 L426.5,151.8 L427,151.8 L427.5,151.8 L428,151.8 L428.5,151.8 L429,151.8 L429.5,151.8 L430,151.8 L430.5,151.8 L431,151.8 L431.5,151.8 L432,151.8 L432.5,151.8 L433,151.8 L433.5,151.8 L434,151.8 L434.5,151.8 L435,151.8 L435.5,151.8 L436,151.8 L436.5,151.8 L437,151.8 L437.5,151.8 L438,151.8 L438.5,151.8 L439,151.8 L439.5,151.8 L440,151.8 L440.5,151.8 L441,151.8 L441.5,151.8 L442,151.8 L442.5,151.8 L443,151.8 L443.5,151.8 L444,151.8 L444,151.8 L443.5,151.8 L443,151.8 L442.5,151.8 L442,151.8 L441.5,151.8 L441,151.8 L440.5,151.8 L440,151.8 L439.5,151.8 L439,151.8 L438.5,151.8 L438,151.8 L437.5,151.8 L437,151.8 L436.5,151.8 L436,151.8 L435.5,151.8 L435,151.8 L434.5,151.8 L434,151.8 L433.5,151.8 L433,151.8 L432.5,151.8 L432,151.8 L431.5,151.8 L431,151.8 L430.5,151.8 L430,151.8 L429.5,151.8 L429,151.8 L428.5,151.8 L428,151.8 L427.5,151.8 L427,151.8 L426.5,151.8 L426,151.8 L425.5,151.8 L425,151.8 L424.5,151.8 L424,151.8 L423.5,151.8 L423,151.8 L422.5,151.8 L422,151.8 L421.5,151.8 L421,151.8 L420.5,151.8 L420,151.8 L419.5,151.8 L419,151.8 L418.5,151.8 L418,151.8 L417.5,151.8 L417,151.79 L416.5,151.79 L416,151.79 L415.5,151.79 L415,151.79 L414.5,151.79 L414,151.79 L413.5,151.79 L413,151.79 L412.5,151.79 L412,151.79 L411.5,151.79 L411,151.79 L410.5,151.79 L410,151.79 L409.5,151.79 L409,151.79 L408.5,151.79 L408,151.79 L407.5,151.79 L407,151.79 L406.5,151.79 L406,151.79 L405.5,151.79 L405,151.79 L404.5,151.79 L404,151.79 L403.5,151.79 L403,151.79 L402.5,151.79 L402,151.79 L401.5,151.79 L401,151.79 L400.5,151.79 L400,151.79 L399.5,151.79 L399,151.79 L398.5,151.79 L398,151.79 L397.5,151.79 L397,151.79 L396.5,151.79 L396,151.79 L395.5,151.79 L395,151.79 L394.5,151.79 L394,151.79 L393.5,151.78 L393,151.78 L392.5,151.78 L392,151.78 L391.5,151.78 L391,151.78 L390.5,151.78 L390,151.78 L389.5,151.78 L389,151.78 L388.5,151.78 L388,151.78 L387.5,151.78 L387,151.78 L386.5,151.78 L386,151.78 L385.5,151.77 L385,151.77 L384.5,151.77 L384,151.77 L383.5,151.77 L383,151.77 L382.5,151.77 L382,151.76 L381.5,151.76 L381,151.76 L380.5,151.76 L380,151.75 L379.5,151.75 L379,151.75 L378.5,151.74 L378,151.74 L377.5,151.74 L377,151.73 L376.5,151.73 L376,151.72 L375.5,151.72 L375,151.71 L374.5,151.7 L374,151.7 L373.5,151.69 L373,151.68 L372.5,151.67 L372,151.66 L371.5,151.65 L371,151.64 L370.5,151.63 L370,151.62 L369.5,151.6 L369,151.59 L368.5,151.58 L368,151.56 L367.5,151.55 L367,151.53 L366.5,151.51 L366,151.49 L365.5,151.47 L365,151.45 L364.5,151.43 L364,151.41 L363.5,151.39 L363,151.37 L362.5,151.34 L362,151.32 L361.5,151.29 L361,151.26 L360.5,151.24 L360,151.21 L359.5,151.18 L359,151.15 L358.5,151.12 L358,151.09 L357.5,151.06 L357,151.03 L356.5,151 L356,150.96 L355.5,150.93 L355,150.9 L354.5,150.87 L354,150.83 L353.5,150.8 L353,150.77 L352.5,150.73 L352,150.7 L351.5,150.67 L351,150.64 L350.5,150.61 L350,150.57 L349.5,150.54 L349,150.51 L348.5,150.48 L348,150.45 L347.5,150.42 L347,150.39 L346.5,150.37 L346,150.34 L345.5,150.31 L345,150.28 L344.5,150.26 L344,150.23 L343.5,150.21 L343,150.18 L342.5,150.16 L342,150.14 L341.5,150.11 L341,150.09 L340.5,150.07 L340,150.05 L339.5,150.03 L339,150.01 L338.5,149.99 L338,149.97 L337.5,149.96 L337,149.94 L336.5,149.92 L336,149.91 L335.5,149.89 L335,149.87 L334.5,149.86 L334,149.84 L333.5,149.83 L333,149.82 L332.5,149.8 L332,149.79 L331.5,149.78 L331,149.76 L330.5,149.75 L330,149.74 L329.5,149.73 L329,149.72 L328.5,149.7 L328,149.69 L327.5,149.68 L327,149.67 L326.5,149.66 L326,149.65 L325.5,149.64 L325,149.63 L324.5,149.62 L324,149.61 L323.5,149.61 L323,149.6 L322.5,149.59 L322,149.58 L321.5,149.57 L321,149.56 L320.5,149.55 L320,149.55 L319.5,149.54 L319,149.53 L318.5,149.52 L318,149.52 L317.5,149.51 L317,149.5 L316.5,149.49 L316,149.49 L315.5,149.48 L315,149.47 L314.5,149.47 L314,149.46 L313.5,149.45 L313,149.45 L312.5,149.44 L312,149.43 L311.5,149.43 L311,149.42 L310.5,149.42 L310,149.41 L309.5,149.4 L309,149.4 L308.5,149.39 L308,149.39 L307.5,149.38 L307,149.37 L306.5,149.37 L306,149.36 L305.5,149.36 L305,149.35 L304.5,149.35 L304,149.34 L303.5,149.34 L303,149.33 L302.5,149.33 L302,149.32 L301.5,149.32 L301,149.31 L300.5,149.31 L300,149.3 L299.5,149.3 L299,149.29 L298.5,149.29 L298,149.28 L297.5,149.28 L297,149.27 L296.5,149.27 L296,149.26 L295.5,149.26 L295,149.26 L294.5,149.25 L294,149.25 L293.5,149.24 L293,149.24 L292.5,149.23 L292,149.23 L291.5,149.23 L291,149.22 L290.5,149.22 L290,149.22 L289.5,149.21 L289,149.21 L288.5,149.21 L288,149.2 L287.5,149.2 L287,149.2 L286.5,149.19 L286,149.19 L285.5,149.19 L285,149.18 L284.5,149.18 L284,149.18 L283.5,149.18 L283,149.17 L282.5,149.17 L282,149.17 L281.5,149.17 L281,149.16 L280.5,149.16 L280,149.16 L279.5,149.16 L279,149.15 L278.5,149.15 L278,149.15 L277.5,149.15 L277,149.15 L276.5,149.14 L276,149.14 L275.5,149.14 L275,149.14 L274.5,149.14 L274,149.14 L273.5,149.14 L273,149.13 L272.5,149.13 L272,149.13 L271.5,149.13 L271,149.13 L270.5,149.13 L270,149.13 L269.5,149.13 L269,149.12 L268.5,149.12 L268,149.12 L267.5,149.12 L267,149.12 L266.5,149.12 L266,149.12 L265.5,149.12 L265,149.12 L264.5,149.12 L264,149.12 L263.5,149.11 L263,149.11 L262.5,149.11 L262,149.11 L261.5,149.11 L261,149.11 L260.5,149.11 L260,149.11 L259.5,149.11 L259,149.11 L258.5,149.11 L258,149.11 L257.5,149.11 L257,149.11 L256.5,149.11 L256,149.11 L255.5,149.11 L255,149.11 L254.5,149.11 L254,149.1 L253.5,149.1 L253,149.1 L252.5,149.1 L252,149.1 L251.5,149.1 L251,149.1 L250.5,149.1 L250,149.1 L249.5,149.1 L249,149.1 L248.5,149.1 L248,149.1 L247.5,149.1 L247,149.1Z" fill="#19a5f9" fill-opacity="0.5"/>
<path d="M256.5,148.9 L257,148.88 L257.5,148.86 L258,148.85 L258.5,148.83 L259,148.81 L259.5,148.79 L260,148.76 L260.5,148.74 L261,148.72 L261.5,148.69 L262,148.66 L262.5,148.63 L263,148.6 L263.5,148.57 L264,148.54 L264.5,148.5 L265,148.47 L265.5,148.43 L266,148.39 L266.5,148.35 L267,148.3 L267.5,148.26 L268,148.21 L268.5,148.16 L269,148.11 L269.5,148.06 L270,148.01 L270.5,147.95 L271,147.89 L271.5,147.83 L272,147.77 L272.5,147.71 L273,147.64 L273.5,147.58 L274,147.51 L274.5,147.44 L275,147.37 L275.5,147.3 L276,147.22 L276.5,147.15 L277,147.07 L277.5,146.99 L278,146.91 L278.5,146.83 L279,146.75 L279.5,146.67 L280,146.59 L280.5,146.51 L281,146.42 L281.5,146.34 L282,146.26 L282.5,146.17 L283,146.09 L283.5,146.01 L284,145.93 L284.5,145.84 L285,145.76 L285.5,145.68 L286,145.61 L286.5,145.53 L287,145.45 L287.5,145.38 L288,145.31 L288.5,145.24 L289,145.17 L289.5,145.11 L290,145.04 L290.5,144.98 L291,144.93 L291.5,144.87 L292,144.82 L292.5,144.77 L293,144.73 L293.5,144.69 L294,144.65 L294.5,144.62 L295,144.59 L295.5,144.56 L296,144.54 L296.5,144.52 L297,144.51 L297.5,144.5 L298,144.49 L298.5,144.49 L299,144.49 L299.5,144.5 L300,144.51 L300.5,144.53 L301,144.55 L301.5,144.58 L302,144.62 L302.5,144.65 L303,144.7 L303.5,144.75 L304,144.8 L304.5,144.86 L305,144.92 L305.5,144.99 L306,145.06 L306.5,145.13 L307,145.21 L307.5,145.29 L308,145.38 L308.5,145.46 L309,145.55 L309.5,145.65 L310,145.74 L310.5,145.84 L311,145.94 L311.5,146.04 L312,146.14 L312.5,146.24 L313,146.34 L313.5,146.44 L314,146.55 L314.5,146.65 L315,146.76 L315.5,146.86 L316,146.96 L316.5,147.06 L317,147.16 L317.5,147.27 L318,147.36 L318.5,147.46 L319,147.56 L319.5,147.65 L320,147.75 L320.5,147.84 L321,147.93 L321.5,148.01 L322,148.1 L322.5,148.18 L323,148.26 L323.5,148.34 L324,148.42 L324.5,148.49 L325,148.56 L325.5,148.63 L326,148.7 L326.5,148.77 L327,148.83 L327.5,148.89 L328,148.95 L328.5,149.01 L329,149.07 L329.5,149.12 L330,149.17 L330.5,149.22 L331,149.27 L331.5,149.32 L332,149.36 L332.5,149.41 L333,149.45 L333.5,149.49 L334,149.53 L334.5,149.57 L335,149.6 L335.5,149.64 L336,149.68 L336.5,149.71" fill="none" stroke="#e9df6e" stroke-width="1.2"/>
<path d="M247,148.71 L247.5,148.71 L248,148.71 L248.5,148.7 L249,148.7 L249.5,148.7 L250,148.69 L250.5,148.69 L251,148.69 L251.5,148.68 L252,148.68 L252.5,148.67 L253,148.67 L253.5,148.67 L254,148.66 L254.5,148.66 L255,148.65 L255.5,148.65 L256,148.65 L256.5,148.64 L257,148.64 L257.5,148.63 L258,148.63 L258.5,148.62 L259,148.62 L259.5,148.62 L260,148.61 L260.5,148.61 L261,148.6 L261.5,148.6 L262,148.59 L262.5,148.59 L263,148.58 L263.5,148.58 L264,148.57 L264.5,148.57 L265,148.56 L265.5,148.56 L266,148.55 L266.5,148.55 L267,148.54 L267.5,148.54 L268,148.53 L268.5,148.52 L269,148.52 L269.5,148.51 L270,148.51 L270.5,148.5 L271,148.49 L271.5,148.49 L272,148.48 L272.5,148.48 L273,148.47 L273.5,148.46 L274,148.46 L274.5,148.45 L275,148.44 L275.5,148.44 L276,148.43 L276.5,148.42 L277,148.41 L277.5,148.41 L278,148.4 L278.5,148.39 L279,148.38 L279.5,148.38 L280,148.37 L280.5,148.36 L281,148.35 L281.5,148.34 L282,148.33 L282.5,148.33 L283,148.32 L283.5,148.31 L284,148.3 L284.5,148.29 L285,148.28 L285.5,148.27 L286,148.26 L286.5,148.25 L287,148.24 L287.5,148.23 L288,148.22 L288.5,148.21 L289,148.2 L289.5,148.19 L290,148.17 L290.5,148.16 L291,148.15 L291.5,148.14 L292,148.13 L292.5,148.11 L293,148.1 L293.5,148.09 L294,148.07 L294.5,148.06 L295,148.04 L295.5,148.03 L296,148.01 L296.5,148 L297,147.98 L297.5,147.96 L298,147.94 L298.5,147.93 L299,147.91 L299.5,147.89 L300,147.87 L300.5,147.85 L301,147.83 L301.5,147.81 L302,147.79 L302.5,147.76 L303,147.74 L303.5,147.71 L304,147.69 L304.5,147.66 L305,147.64 L305.5,147.61 L306,147.58 L306.5,147.55 L307,147.52 L307.5,147.49 L308,147.45 L308.5,147.42 L309,147.38 L309.5,147.34 L310,147.3 L310.5,147.26 L311,147.21 L311.5,147.17 L312,147.12 L312.5,147.07 L313,147.01 L313.5,146.96 L314,146.9 L314.5,146.83 L315,146.76 L315.5,146.69 L316,146.62 L316.5,146.54 L317,146.45 L317.5,146.36 L318,146.26 L318.5,146.16 L319,146.05 L319.5,145.93 L320,145.81 L320.5,145.68 L321,145.54 L321.5,145.38 L322,145.22 L322.5,145.05 L323,144.86 L323.5,144.67 L324,144.46 L324.5,144.23 L325,143.99 L325.5,143.74 L326,143.47 L326.5,143.18 L327,142.87 L327.5,142.55 L328,142.2 L328.5,141.84 L329,141.45 L329.5,141.04 L330,140.6 L330.5,140.14 L331,139.66 L331.5,139.15 L332,138.62 L332.5,138.05 L333,137.46 L333.5,136.85 L334,136.2 L334.5,135.52 L335,134.82 L335.5,134.09 L336,133.32 L336.5,132.53 L337,131.71 L337.5,130.87 L338,129.99 L338.5,129.09 L339,128.17 L339.5,127.22 L340,126.24 L340.5,125.25 L341,124.23 L341.5,123.2 L342,122.15 L342.5,121.08 L343,120.01 L343.5,118.93 L344,117.84 L344.5,116.76 L345,115.67 L345.5,114.59 L346,113.53 L346.5,112.48 L347,111.45 L347.5,110.45 L348,109.48 L348.5,108.54 L349,107.66 L349.5,106.82 L350,106.03 L350.5,105.31 L351,104.65 L351.5,104.07 L352,103.57 L352.5,103.15 L353,102.82 L353.5,102.58 L354,102.43 L354.5,102.37 L355,102.42 L355.5,102.56 L356,102.8 L356.5,103.13 L357,103.56 L357.5,104.08 L358,104.69 L358.5,105.39 L359,106.16 L359.5,107 L360,107.92 L360.5,108.9 L361,109.94 L361.5,111.02 L362,112.16 L362.5,113.34 L363,114.54 L363.5,115.78 L364,117.04 L364.5,118.32 L365,119.61 L365.5,120.91 L366,122.2 L366.5,123.49 L367,124.78 L367.5,126.05 L368,127.3 L368.5,128.53 L369,129.74 L369.5,130.92 L370,132.08 L370.5,133.19 L371,134.28 L371.5,135.33 L372,136.34 L372.5,137.31 L373,138.24 L373.5,139.13 L374,139.98 L374.5,140.79 L375,141.56 L375.5,142.29 L376,142.97 L376.5,143.62 L377,144.23 L377.5,144.8 L378,145.34 L378.5,145.84 L379,146.31 L379.5,146.74 L380,147.14 L380.5,147.52 L381,147.86 L381.5,148.18 L382,148.47 L382.5,148.74 L383,148.99 L383.5,149.22 L384,149.43 L384.5,149.62 L385,149.79 L385.5,149.95 L386,150.09 L386.5,150.22 L387,150.34 L387.5,150.45 L388,150.54 L388.5,150.63 L389,150.71 L389.5,150.78 L390,150.85 L390.5,150.9 L391,150.96 L391.5,151.01 L392,151.05 L392.5,151.09 L393,151.12 L393.5,151.15 L394,151.18 L394.5,151.21 L395,151.23 L395.5,151.26 L396,151.28 L396.5,151.29 L397,151.31 L397.5,151.33 L398,151.34 L398.5,151.35 L399,151.37 L399.5,151.38 L400,151.39 L400.5,151.4 L401,151.41 L401.5,151.42 L402,151.43 L402.5,151.44 L403,151.44 L403.5,151.45 L404,151.46 L404.5,151.47 L405,151.47 L405.5,151.48 L406,151.48 L406.5,151.49 L407,151.5 L407.5,151.5 L408,151.51 L408.5,151.51 L409,151.52 L409.5,151.52 L410,151.53 L410.5,151.53 L411,151.54 L411.5,151.54 L412,151.55 L412.5,151.55 L413,151.55 L413.5,151.56 L414,151.56 L414.5,151.57 L415,151.57 L415.5,151.57 L416,151.58 L416.5,151.58 L417,151.58 L417.5,151.59 L418,151.59 L418.5,151.59" fill="none" stroke="#ff6b70" stroke-width="1.4"/>
<path d="M286.5,148.99 L287,148.97 L287.5,148.96 L288,148.94 L288.5,148.92 L289,148.9 L289.5,148.88 L290,148.86 L290.5,148.83 L291,148.8 L291.5,148.77 L292,148.74 L292.5,148.71 L293,148.68 L293.5,148.64 L294,148.6 L294.5,148.56 L295,148.51 L295.5,148.47 L296,148.42 L296.5,148.36 L297,148.31 L297.5,148.25 L298,148.19 L298.5,148.12 L299,148.06 L299.5,147.99 L300,147.91 L300.5,147.83 L301,147.75 L301.5,147.67 L302,147.58 L302.5,147.49 L303,147.39 L303.5,147.29 L304,147.19 L304.5,147.09 L305,146.98 L305.5,146.86 L306,146.75 L306.5,146.63 L307,146.5 L307.5,146.38 L308,146.25 L308.5,146.12 L309,145.98 L309.5,145.84 L310,145.7 L310.5,145.56 L311,145.42 L311.5,145.27 L312,145.12 L312.5,144.97 L313,144.82 L313.5,144.66 L314,144.51 L314.5,144.36 L315,144.2 L315.5,144.05 L316,143.89 L316.5,143.74 L317,143.58 L317.5,143.43 L318,143.28 L318.5,143.13 L319,142.99 L319.5,142.84 L320,142.7 L320.5,142.57 L321,142.43 L321.5,142.3 L322,142.18 L322.5,142.05 L323,141.94 L323.5,141.83 L324,141.72 L324.5,141.62 L325,141.53 L325.5,141.44 L326,141.36 L326.5,141.29 L327,141.22 L327.5,141.16 L328,141.11 L328.5,141.07 L329,141.03 L329.5,141 L330,140.99 L330.5,140.97 L331,140.97 L331.5,140.98 L332,140.99 L332.5,141.01 L333,141.04 L333.5,141.08 L334,141.13 L334.5,141.18 L335,141.25 L335.5,141.32 L336,141.4 L336.5,141.49 L337,141.58 L337.5,141.68 L338,141.79 L338.5,141.91 L339,142.03 L339.5,142.16 L340,142.3 L340.5,142.44 L341,142.59 L341.5,142.74 L342,142.89 L342.5,143.06 L343,143.22 L343.5,143.39 L344,143.57 L344.5,143.74 L345,143.92 L345.5,144.11 L346,144.29 L346.5,144.48 L347,144.67 L347.5,144.86 L348,145.05 L348.5,145.24 L349,145.43 L349.5,145.63 L350,145.82 L350.5,146.01 L351,146.2 L351.5,146.39 L352,146.57 L352.5,146.76 L353,146.94 L353.5,147.12 L354,147.3 L354.5,147.48 L355,147.65 L355.5,147.82 L356,147.99 L356.5,148.15 L357,148.31 L357.5,148.47 L358,148.62 L358.5,148.77 L359,148.91 L359.5,149.05 L360,149.19 L360.5,149.32 L361,149.45 L361.5,149.57 L362,149.69 L362.5,149.8 L363,149.91 L363.5,150.02 L364,150.12 L364.5,150.21 L365,150.31 L365.5,150.39 L366,150.48 L366.5,150.56 L367,150.64 L367.5,150.71 L368,150.78 L368.5,150.85 L369,150.91 L369.5,150.97 L370,151.02 L370.5,151.08 L371,151.13 L371.5,151.17 L372,151.22 L372.5,151.26 L373,151.3 L373.5,151.33 L374,151.37 L374.5,151.4 L375,151.43 L375.5,151.46 L376,151.48 L376.5,151.51 L377,151.53" fill="none" stroke="#45b5fb" stroke-width="1.6"/>
<path d="M247,149.1 L247.5,149.1 L248,149.1 L248.5,149.1 L249,149.1 L249.5,149.1 L250,149.1 L250.5,149.1 L251,149.1 L251.5,149.1 L252,149.1 L252.5,149.1 L253,149.1 L253.5,149.1 L254,149.1 L254.5,149.11 L255,149.11 L255.5,149.11 L256,149.11 L256.5,149.11 L257,149.11 L257.5,149.11 L258,149.11 L258.5,149.11 L259,149.11 L259.5,149.11 L260,149.11 L260.5,149.11 L261,149.11 L261.5,149.11 L262,149.11 L262.5,149.11 L263,149.11 L263.5,149.11 L264,149.12 L264.5,149.12 L265,149.12 L265.5,149.12 L266,149.12 L266.5,149.12 L267,149.12 L267.5,149.12 L268,149.12 L268.5,149.12 L269,149.12 L269.5,149.13 L270,149.13 L270.5,149.13 L271,149.13 L271.5,149.13 L272,149.13 L272.5,149.13 L273,149.13 L273.5,149.14 L274,149.14 L274.5,149.14 L275,149.14 L275.5,149.14 L276,149.14 L276.5,149.14 L277,149.15 L277.5,149.15 L278,149.15 L278.5,149.15 L279,149.15 L279.5,149.16 L280,149.16 L280.5,149.16 L281,149.16 L281.5,149.17 L282,149.17 L282.5,149.17 L283,149.17 L283.5,149.18 L284,149.18 L284.5,149.18 L285,149.18 L285.5,149.19 L286,149.19 L286.5,149.19 L287,149.2 L287.5,149.2 L288,149.2 L288.5,149.21 L289,149.21 L289.5,149.21 L290,149.22 L290.5,149.22 L291,149.22 L291.5,149.23 L292,149.23 L292.5,149.23 L293,149.24 L293.5,149.24 L294,149.25 L294.5,149.25 L295,149.26 L295.5,149.26 L296,149.26 L296.5,149.27 L297,149.27 L297.5,149.28 L298,149.28 L298.5,149.29 L299,149.29 L299.5,149.3 L300,149.3 L300.5,149.31 L301,149.31 L301.5,149.32 L302,149.32 L302.5,149.33 L303,149.33 L303.5,149.34 L304,149.34 L304.5,149.35 L305,149.35 L305.5,149.36 L306,149.36 L306.5,149.37 L307,149.37 L307.5,149.38 L308,149.39 L308.5,149.39 L309,149.4 L309.5,149.4 L310,149.41 L310.5,149.42 L311,149.42 L311.5,149.43 L312,149.43 L312.5,149.44 L313,149.45 L313.5,149.45 L314,149.46 L314.5,149.47 L315,149.47 L315.5,149.48 L316,149.49 L316.5,149.49 L317,149.5 L317.5,149.51 L318,149.52 L318.5,149.52 L319,149.53 L319.5,149.54 L320,149.55 L320.5,149.55 L321,149.56 L321.5,149.57 L322,149.58 L322.5,149.59 L323,149.6 L323.5,149.61 L324,149.61 L324.5,149.62 L325,149.63 L325.5,149.64 L326,149.65 L326.5,149.66 L327,149.67 L327.5,149.68 L328,149.69 L328.5,149.7 L329,149.72 L329.5,149.73 L330,149.74 L330.5,149.75 L331,149.76 L331.5,149.78 L332,149.79 L332.5,149.8 L333,149.82 L333.5,149.83 L334,149.84 L334.5,149.86 L335,149.87 L335.5,149.89 L336,149.91 L336.5,149.92 L337,149.94 L337.5,149.96 L338,149.97 L338.5,149.99 L339,150.01 L339.5,150.03 L340,150.05 L340.5,150.07 L341,150.09 L341.5,150.11 L342,150.14 L342.5,150.16 L343,150.18 L343.5,150.21 L344,150.23 L344.5,150.26 L345,150.28 L345.5,150.31 L346,150.34 L346.5,150.37 L347,150.39 L347.5,150.42 L348,150.45 L348.5,150.48 L349,150.51 L349.5,150.54 L350,150.57 L350.5,150.61 L351,150.64 L351.5,150.67 L352,150.7 L352.5,150.73 L353,150.77 L353.5,150.8 L354,150.83 L354.5,150.87 L355,150.9 L355.5,150.93 L356,150.96 L356.5,151 L357,151.03 L357.5,151.06 L358,151.09 L358.5,151.12 L359,151.15 L359.5,151.18 L360,151.21 L360.5,151.24 L361,151.26 L361.5,151.29 L362,151.32 L362.5,151.34 L363,151.37 L363.5,151.39 L364,151.41 L364.5,151.43 L365,151.45 L365.5,151.47 L366,151.49 L366.5,151.51 L367,151.53 L367.5,151.55 L368,151.56 L368.5,151.58 L369,151.59 L369.5,151.6 L370,151.62 L370.5,151.63 L371,151.64 L371.5,151.65 L372,151.66 L372.5,151.67 L373,151.68 L373.5,151.69 L374,151.7 L374.5,151.7 L375,151.71 L375.5,151.72 L376,151.72 L376.5,151.73 L377,151.73 L377.5,151.74 L378,151.74 L378.5,151.74 L379,151.75 L379.5,151.75 L380,151.75 L380.5,151.76 L381,151.76 L381.5,151.76 L382,151.76 L382.5,151.77 L383,151.77 L383.5,151.77 L384,151.77 L384.5,151.77 L385,151.77 L385.5,151.77 L386,151.78 L386.5,151.78 L387,151.78 L387.5,151.78 L388,151.78 L388.5,151.78 L389,151.78 L389.5,151.78 L390,151.78 L390.5,151.78 L391,151.78 L391.5,151.78 L392,151.78 L392.5,151.78 L393,151.78 L393.5,151.78 L394,151.79 L394.5,151.79 L395,151.79 L395.5,151.79 L396,151.79 L396.5,151.79 L397,151.79 L397.5,151.79 L398,151.79 L398.5,151.79 L399,151.79 L399.5,151.79 L400,151.79 L400.5,151.79 L401,151.79 L401.5,151.79 L402,151.79 L402.5,151.79 L403,151.79 L403.5,151.79 L404,151.79 L404.5,151.79 L405,151.79 L405.5,151.79 L406,151.79 L406.5,151.79 L407,151.79 L407.5,151.79 L408,151.79 L408.5,151.79 L409,151.79 L409.5,151.79 L410,151.79 L410.5,151.79 L411,151.79 L411.5,151.79 L412,151.79 L412.5,151.79 L413,151.79 L413.5,151.79 L414,151.79 L414.5,151.79 L415,151.79 L415.5,151.79 L416,151.79 L416.5,151.79 L417,151.79 L417.5,151.8 L418,151.8 L418.5,151.8 L419,151.8 L419.5,151.8 L420,151.8 L420.5,151.8 L421,151.8 L421.5,151.8 L422,151.8 L422.5,151.8 L423,151.8 L423.5,151.8 L424,151.8 L424.5,151.8 L425,151.8 L425.5,151.8 L426,151.8 L426.5,151.8 L427,151.8 L427.5,151.8 L428,151.8 L428.5,151.8 L429,151.8 L429.5,151.8 L430,151.8 L430.5,151.8 L431,151.8 L431.5,151.8 L432,151.8 L432.5,151.8 L433,151.8 L433.5,151.8 L434,151.8 L434.5,151.8 L435,151.8 L435.5,151.8 L436,151.8 L436.5,151.8 L437,151.8 L437.5,151.8 L438,151.8 L438.5,151.8 L439,151.8 L439.5,151.8 L440,151.8 L440.5,151.8 L441,151.8 L441.5,151.8 L442,151.8 L442.5,151.8 L443,151.8 L443.5,151.8 L444,151.8" fill="none" stroke="#c8c8c8" stroke-width="1.5"/>
<g fill="#b4b4b4"><circle cx="247" cy="149.1" r="0.72"/><circle cx="248.1" cy="149.06" r="0.72"/><circle cx="249.2" cy="149.02" r="0.72"/><circle cx="250.3" cy="148.98" r="0.72"/><circle cx="251.4" cy="148.94" r="0.72"/><circle cx="252.5" cy="148.9" r="0.72"/><circle cx="253.6" cy="148.87" r="0.72"/><circle cx="254.7" cy="148.83" r="0.72"/><circle cx="255.8" cy="148.78" r="0.72"/><circle cx="256.9" cy="148.74" r="0.72"/><circle cx="258" cy="148.69" r="0.72"/><circle cx="259.1" cy="148.64" r="0.72"/><circle cx="260.2" cy="148.59" r="0.72"/><circle cx="261.3" cy="148.53" r="0.72"/><circle cx="262.4" cy="148.47" r="0.72"/><circle cx="263.5" cy="148.41" r="0.72"/><circle cx="264.6" cy="148.34" r="0.72"/><circle cx="265.7" cy="148.27" r="0.72"/><circle cx="266.8" cy="148.2" r="0.72"/><circle cx="267.9" cy="148.11" r="0.72"/><circle cx="269" cy="148.02" r="0.72"/><circle cx="270.1" cy="147.92" r="0.72"/><circle cx="271.2" cy="147.82" r="0.72"/><circle cx="272.3" cy="147.7" r="0.72"/><circle cx="273.4" cy="147.56" r="0.72"/><circle cx="274.5" cy="147.38" r="0.72"/><circle cx="275.6" cy="147.16" r="0.72"/><circle cx="276.7" cy="146.92" r="0.72"/><circle cx="277.8" cy="146.65" r="0.72"/><circle cx="278.9" cy="146.38" r="0.72"/><circle cx="280" cy="146.09" r="0.72"/><circle cx="281.1" cy="145.79" r="0.72"/><circle cx="282.2" cy="145.5" r="0.72"/><circle cx="283.3" cy="145.22" r="0.72"/><circle cx="284.4" cy="144.95" r="0.72"/><circle cx="285.5" cy="144.7" r="0.72"/><circle cx="286.6" cy="144.47" r="0.72"/><circle cx="287.7" cy="144.24" r="0.72"/><circle cx="288.8" cy="144.02" r="0.72"/><circle cx="289.9" cy="143.8" r="0.72"/><circle cx="291" cy="143.59" r="0.72"/><circle cx="292.1" cy="143.38" r="0.72"/><circle cx="293.2" cy="143.16" r="0.72"/><circle cx="294.3" cy="142.94" r="0.72"/><circle cx="295.4" cy="142.71" r="0.72"/><circle cx="296.5" cy="142.48" r="0.72"/><circle cx="297.6" cy="142.23" r="0.72"/><circle cx="298.7" cy="141.98" r="0.72"/><circle cx="299.8" cy="141.71" r="0.72"/><circle cx="300.9" cy="141.43" r="0.72"/><circle cx="302" cy="141.14" r="0.72"/><circle cx="303.1" cy="140.84" r="0.72"/><circle cx="304.2" cy="140.54" r="0.72"/><circle cx="305.3" cy="140.22" r="0.72"/><circle cx="306.4" cy="139.9" r="0.72"/><circle cx="307.5" cy="139.56" r="0.72"/><circle cx="308.6" cy="139.22" r="0.72"/><circle cx="309.7" cy="138.86" r="0.72"/><circle cx="310.8" cy="138.49" r="0.72"/><circle cx="311.9" cy="138.11" r="0.72"/><circle cx="313" cy="137.72" r="0.72"/><circle cx="314.1" cy="137.32" r="0.72"/><circle cx="315.2" cy="136.91" r="0.72"/><circle cx="316.3" cy="136.48" r="0.72"/><circle cx="317.4" cy="136.04" r="0.72"/><circle cx="318.5" cy="135.61" r="0.72"/><circle cx="319.6" cy="135.16" r="0.72"/><circle cx="320.7" cy="134.69" r="0.72"/><circle cx="321.8" cy="134.21" r="0.72"/><circle cx="322.9" cy="133.7" r="0.72"/><circle cx="324" cy="133.15" r="0.72"/><circle cx="325.1" cy="132.57" r="0.72"/><circle cx="326.2" cy="131.93" r="0.72"/><circle cx="327.3" cy="131.24" r="0.72"/><circle cx="328.4" cy="130.48" r="0.72"/><circle cx="329.5" cy="129.65" r="0.72"/><circle cx="330.6" cy="128.75" r="0.72"/><circle cx="331.7" cy="127.76" r="0.72"/><circle cx="332.8" cy="126.65" r="0.72"/><circle cx="333.9" cy="125.43" r="0.72"/><circle cx="335" cy="124.08" r="0.72"/><circle cx="336.1" cy="122.59" r="0.72"/><circle cx="337.2" cy="120.81" r="0.72"/><circle cx="338.3" cy="119.03" r="0.72"/><circle cx="339.4" cy="117.33" r="0.72"/><circle cx="340.5" cy="115.63" r="0.72"/><circle cx="341.6" cy="113.92" r="0.72"/><circle cx="342.7" cy="112.16" r="0.72"/><circle cx="343.8" cy="110.4" r="0.72"/><circle cx="344.9" cy="108.66" r="0.72"/><circle cx="346" cy="106.99" r="0.72"/><circle cx="347.1" cy="105.35" r="0.72"/><circle cx="348.2" cy="103.71" r="0.72"/><circle cx="349.3" cy="102.25" r="0.72"/><circle cx="350.4" cy="101.12" r="0.72"/><circle cx="351.5" cy="100.05" r="0.72"/><circle cx="352.6" cy="99.1" r="0.72"/><circle cx="353.7" cy="98.43" r="0.72"/><circle cx="354.8" cy="98.2" r="0.72"/><circle cx="355.9" cy="98.43" r="0.72"/><circle cx="357" cy="98.93" r="0.72"/><circle cx="358.1" cy="99.64" r="0.72"/><circle cx="359.2" cy="100.96" r="0.72"/><circle cx="360.3" cy="103.23" r="0.72"/><circle cx="361.4" cy="106.49" r="0.72"/><circle cx="362.5" cy="109.77" r="0.72"/><circle cx="363.6" cy="113.03" r="0.72"/><circle cx="364.7" cy="116.32" r="0.72"/><circle cx="365.8" cy="119.37" r="0.72"/><circle cx="366.9" cy="122.16" r="0.72"/><circle cx="368" cy="124.85" r="0.72"/><circle cx="369.1" cy="127.61" r="0.72"/><circle cx="370.2" cy="130.67" r="0.72"/><circle cx="371.3" cy="133.73" r="0.72"/><circle cx="372.4" cy="136.12" r="0.72"/><circle cx="373.5" cy="138.17" r="0.72"/><circle cx="374.6" cy="139.9" r="0.72"/><circle cx="375.7" cy="141.45" r="0.72"/><circle cx="376.8" cy="142.83" r="0.72"/><circle cx="377.9" cy="144.02" r="0.72"/><circle cx="379" cy="145.03" r="0.72"/><circle cx="380.1" cy="145.96" r="0.72"/><circle cx="381.2" cy="146.79" r="0.72"/><circle cx="382.3" cy="147.49" r="0.72"/><circle cx="383.4" cy="148.04" r="0.72"/><circle cx="384.5" cy="148.51" r="0.72"/><circle cx="385.6" cy="148.93" r="0.72"/><circle cx="386.7" cy="149.3" r="0.72"/><circle cx="387.8" cy="149.63" r="0.72"/><circle cx="388.9" cy="149.91" r="0.72"/><circle cx="390" cy="150.13" r="0.72"/><circle cx="391.1" cy="150.31" r="0.72"/><circle cx="392.2" cy="150.47" r="0.72"/><circle cx="393.3" cy="150.63" r="0.72"/><circle cx="394.4" cy="150.77" r="0.72"/><circle cx="395.5" cy="150.89" r="0.72"/><circle cx="396.6" cy="151" r="0.72"/><circle cx="397.7" cy="151.08" r="0.72"/><circle cx="398.8" cy="151.15" r="0.72"/><circle cx="399.9" cy="151.2" r="0.72"/><circle cx="401" cy="151.23" r="0.72"/><circle cx="402.1" cy="151.26" r="0.72"/><circle cx="403.2" cy="151.29" r="0.72"/><circle cx="404.3" cy="151.31" r="0.72"/><circle cx="405.4" cy="151.34" r="0.72"/><circle cx="406.5" cy="151.36" r="0.72"/><circle cx="407.6" cy="151.38" r="0.72"/><circle cx="408.7" cy="151.4" r="0.72"/><circle cx="409.8" cy="151.42" r="0.72"/><circle cx="410.9" cy="151.44" r="0.72"/><circle cx="412" cy="151.46" r="0.72"/><circle cx="413.1" cy="151.48" r="0.72"/><circle cx="414.2" cy="151.49" r="0.72"/><circle cx="415.3" cy="151.51" r="0.72"/><circle cx="416.4" cy="151.52" r="0.72"/><circle cx="417.5" cy="151.54" r="0.72"/><circle cx="418.6" cy="151.55" r="0.72"/><circle cx="419.7" cy="151.56" r="0.72"/><circle cx="420.8" cy="151.57" r="0.72"/><circle cx="421.9" cy="151.58" r="0.72"/><circle cx="423" cy="151.59" r="0.72"/><circle cx="424.1" cy="151.6" r="0.72"/><circle cx="425.2" cy="151.61" r="0.72"/><circle cx="426.3" cy="151.62" r="0.72"/><circle cx="427.4" cy="151.63" r="0.72"/><circle cx="428.5" cy="151.64" r="0.72"/><circle cx="429.6" cy="151.65" r="0.72"/><circle cx="430.7" cy="151.66" r="0.72"/><circle cx="431.8" cy="151.67" r="0.72"/><circle cx="432.9" cy="151.68" r="0.72"/><circle cx="434" cy="151.69" r="0.72"/><circle cx="435.1" cy="151.7" r="0.72"/><circle cx="436.2" cy="151.71" r="0.72"/><circle cx="437.3" cy="151.72" r="0.72"/><circle cx="438.4" cy="151.73" r="0.72"/><circle cx="439.5" cy="151.74" r="0.72"/><circle cx="440.6" cy="151.76" r="0.72"/><circle cx="441.7" cy="151.77" r="0.72"/><circle cx="442.8" cy="151.78" r="0.72"/><circle cx="443.9" cy="151.8" r="0.72"/></g>
<line x1="443.6" y1="152.5" x2="443.6" y2="159.5" stroke="#e8e080" stroke-width="0.6"/>
<circle cx="444.2" cy="160" r="1.1" fill="#ece9b0"/>
<rect x="246.4" y="0.5" width="201.3" height="161.8" fill="none" stroke="#4d4d4d" stroke-width="1.2"/>
<path d="M246.4,162.3v3M273.2,162.3v3M300,162.3v3M326.8,162.3v3M353.6,162.3v3M380.4,162.3v3M407.2,162.3v3M434,162.3v3" stroke="#4d4d4d" stroke-width="1.1" fill="none"/>
<path d="M259.8,162.3v2M286.6,162.3v2M313.4,162.3v2M340.2,162.3v2M367,162.3v2M393.8,162.3v2M420.6,162.3v2" stroke="#4d4d4d" stroke-width="1.1" fill="none"/>
<text x="246.4" y="176.4" font-size="10.5" text-anchor="middle" font-weight="normal" fill="#1a1a1a" >540</text>
<text x="273.2" y="176.4" font-size="10.5" text-anchor="middle" font-weight="normal" fill="#1a1a1a" >538</text>
<text x="300" y="176.4" font-size="10.5" text-anchor="middle" font-weight="normal" fill="#1a1a1a" >536</text>
<text x="326.8" y="176.4" font-size="10.5" text-anchor="middle" font-weight="normal" fill="#1a1a1a" >534</text>
<text x="353.6" y="176.4" font-size="10.5" text-anchor="middle" font-weight="normal" fill="#1a1a1a" >532</text>
<text x="380.4" y="176.4" font-size="10.5" text-anchor="middle" font-weight="normal" fill="#1a1a1a" >530</text>
<text x="407.2" y="176.4" font-size="10.5" text-anchor="middle" font-weight="normal" fill="#1a1a1a" >528</text>
<text x="434" y="176.4" font-size="10.5" text-anchor="middle" font-weight="normal" fill="#1a1a1a" >526</text>
<text x="347.3" y="193.9" font-size="10.8" text-anchor="middle" font-weight="normal" fill="#1a1a1a" >Binding energy (eV)</text>
<text transform="translate(239.4,81.3) rotate(-90)" font-size="10.8" text-anchor="middle" fill="#1a1a1a">Intensity (arb. units)</text>
<text x="446.3" y="12" font-size="11" text-anchor="end" font-weight="normal" fill="#1a1a1a" >O 1<tspan font-style="italic">s</tspan></text>
<text x="282.4" y="66.5" font-size="10.5" text-anchor="start" font-weight="normal" fill="#1a1a1a" >H<tspan font-size="7.5" dy="3">2</tspan><tspan dy="-3">O</tspan></text>
<text x="309.4" y="50.1" font-size="10.5" text-anchor="start" font-weight="normal" fill="#1a1a1a" >M-OH</text>
<text x="350.6" y="37.6" font-size="10.5" text-anchor="start" font-weight="normal" fill="#1a1a1a" >M-O/OOH</text>
<text x="387.8" y="65.8" font-size="10.5" text-anchor="start" font-weight="normal" fill="#1a1a1a" >Vo</text>
<text x="247.6" y="87.9" font-size="10.8" text-anchor="start" font-weight="normal" fill="#1a1a1a" >Na-HE LDH</text>
<text x="249.3" y="160.7" font-size="10.5" text-anchor="start" font-weight="normal" fill="#1a1a1a" >HE LDH</text>
<text x="462" y="8.7" font-size="12" text-anchor="start" font-weight="bold" fill="#000" >c</text>
<path d="M473,85.16 L474.1,91.89 L475.2,94.48 L476.3,88.14 L477.4,84.72 L478.5,90.02 L479.6,92.31 L480.7,94.91 L481.8,85.19 L482.9,84.87 L484,93.26 L485.1,92.29 L486.2,96.74 L487.3,94.43 L488.4,89.87 L489.5,79.3 L490.6,100.8 L491.7,89.09 L492.8,87 L493.9,85.52 L495,90.7 L496.1,90.91 L497.2,88.85 L498.3,90.04 L499.4,91.45 L500.5,93.21 L501.6,94.91 L502.7,91.18 L503.8,82.78 L504.9,93.25 L506,84.34 L507.1,89.58 L508.2,84.11 L509.3,90.31 L510.4,81.3 L511.5,91.2 L512.6,100.8 L513.7,90.1 L514.8,93.84 L515.9,84.74 L517,89.09 L518.1,93.08 L519.2,89.91 L520.3,91.85 L521.4,90.73 L522.5,86.07 L523.6,92.67 L524.7,86.89 L525.8,98.16 L526.9,88.18 L528,93.18 L529.1,90.31 L530.2,94.3 L531.3,87.77 L532.4,94.5 L533.5,89.78 L534.6,95.61 L535.7,92.92 L536.8,90.89 L537.9,87.02 L539,93.52 L540.1,92.27 L541.2,97.2 L542.3,88.72 L543.4,92.63 L544.5,92.43 L545.6,91.49 L546.7,91.18 L547.8,91.06 L548.9,87.79 L550,86.04 L551.1,88.55 L552.2,92.48 L553.3,96.03 L554.4,93.43 L555.5,93.38 L556.6,91.89 L557.7,91.22 L558.8,88.66 L559.9,90.6 L561,93.44 L562.1,83.89 L563,81.77 L563.2,81.33 L563.4,82.52 L563.6,83.63 L563.8,84.67 L564,85.64 L564.2,86.54 L564.4,86.36 L564.6,85.19 L564.8,84.08 L565,83.01 L565.2,81.99 L565.4,81.01 L565.6,80.99 L565.8,80.95 L566,80.87 L566.2,80.75 L566.4,80.59 L566.6,80.27 L566.8,79.79 L567,79.3 L567.2,78.78 L567.4,78.23 L567.6,77.67 L567.8,76.81 L568,75.93 L568.2,75 L568.4,74.04 L568.6,73.04 L568.8,72.53 L569,72.5 L569.2,72.42 L569.4,72.22 L569.6,71.91 L569.8,71.48 L570,70.15 L570.2,68.72 L570.4,67.21 L570.6,65.58 L570.8,63.72 L571,61.55 L571.2,59.12 L571.4,56.56 L571.6,53.87 L571.8,50.86 L572,47.63 L572.2,44.77 L572.4,42.03 L572.6,39.46 L572.8,36.54 L573,33.51 L573.2,30.61 L573.4,28.21 L573.6,26.77 L573.8,26.81 L574,29.06 L574.2,32.97 L574.4,37.69 L574.6,42.89 L574.8,50.03 L575,59.04 L575.2,69.47 L575.4,81.65 L575.6,98.89 L575.8,115.3 L576,129.89 L576.2,144.31 L576.4,155.84 L576.6,157.27 L576.8,153.99 L577,149.08 L577.2,144.34 L577.4,141.26 L577.6,138.95 L577.8,136.93 L578,134.92 L578.2,132.69 L578.4,129.99 L578.6,126.94 L578.8,123.6 L579,120.47 L579.2,117.84 L579.4,115.9 L579.6,114.25 L579.8,112.76 L580,111.42 L580.2,110.21 L580.4,109.11 L580.6,108.1 L580.8,107.17 L581,106.68 L581.2,106.26 L581.4,105.88 L581.6,105.55 L581.8,105.26 L582,104.8 L582.2,103.99 L582.4,103.09 L582.6,102.11 L582.8,101.04 L583,99.9 L583.2,99.96 L583.4,100.09 L583.6,100.29 L583.8,100.55 L584,100.87 L584.2,100.98 L584.4,100.86 L584.6,100.77 L584.8,100.73 L585,100.74 L585.2,100.78 L585.4,99.9 L585.6,99 L585.8,98.09 L586,97.17 L586.2,96.23 L586.4,95.26 L586.6,94.24 L586.8,93.22 L587,92.18 L587.2,91.13 L587.4,90.07 L587.6,90.47 L587.8,90.87 L588,91.29 L588.2,91.71 L588.4,92.15 L588.6,92.68 L588.8,93.31 L589,93.95 L589.2,94.6 L589.4,95.27 L589.6,95.95 L589.8,96.07 L590,96.2 L590.2,96.33 L590.4,96.46 L590.6,96.6 L590.8,96.99 L591,97.64 L591.2,98.3 L591.4,98.97 L591.6,99.65 L591.8,100.34 L592.9,89.95 L594,93.67 L595.1,96.08 L596.2,92.44 L597.3,82.9 L598.4,96 L599.5,102.11 L600.6,96.41 L601.7,88.13 L602.8,90.05 L603.9,92.52 L605,101.86 L606.1,93.83 L607.2,91.57 L608.3,97.5 L609.4,90.51 L610.5,98.58 L611.6,87.8 L612.7,88.61 L613.8,93.56 L614.9,96.44 L616,93.15 L617.1,91.62 L618.2,82.67 L619.3,87.31 L620.4,87.74 L621.5,88.06 L622.6,92.76 L623.7,88.89 L624.8,93.61 L625.9,80.8 L627,88.9 L628.1,90.8 L629.2,92.1 L630.3,93.9 L631.4,88.29 L632.5,89.32 L633.6,84.57 L634.7,97.04 L635.8,96.4 L636.9,89.55 L638,88.29 L639.1,85.11 L640.2,91.01 L641.3,91.17 L642.4,99.46 L643.5,91.33 L644.6,99.3 L645.7,80.03 L646.8,96.22 L647.9,91.1 L649,83.54 L650.1,91.06 L651.2,83.54 L652.3,100.8 L653.4,95 L654.5,92.7 L655.6,89.56 L656.7,81.31 L657.8,89.77 L658.9,83.77 L660,92.8 L661.1,101.3 L662.2,86.49 L663.3,95.42 L664.4,97.2 L665.5,85.34 L666.6,83.86 L667.7,93.99 L668.8,93.88 L669.9,86.16 L671,87.38 L672.1,87.39" fill="none" stroke="#f76b6b" stroke-width="1.4"/>
<rect x="473" y="87.6" width="200" height="5.4" fill="#4bb8fb"/>
<path d="M473,85.98 L474.1,87.92 L475.2,95.25 L476.3,93.12 L477.4,98.32 L478.5,90.17 L479.6,89.99 L480.7,86.77 L481.8,90.03 L482.9,85.51 L484,83.75 L485.1,93.15 L486.2,95.97 L487.3,93.68 L488.4,95.56 L489.5,91.46 L490.6,98 L491.7,90.83 L492.8,89.08 L493.9,86.28 L495,84.07 L496.1,84.87 L497.2,90.48 L498.3,91.07 L499.4,88.7 L500.5,95.93 L501.6,91.18 L502.7,92.71 L503.8,95.13 L504.9,87.38 L506,83.01 L507.1,93.36 L508.2,87.88 L509.3,95.48 L510.4,91.78 L511.5,94.33 L512.6,93.4 L513.7,82.59 L514.8,93.23 L515.9,87.94 L517,87.63 L518.1,88.85 L519.2,93.42 L520.3,93.86 L521.4,94.34 L522.5,84.19 L523.6,88.26 L524.7,82 L525.8,90.11 L526.9,92.78 L528,87.6 L529.1,91.43 L530.2,91.38 L531.3,94.33 L532.4,87.38 L533.5,87.35 L534.6,87.6 L535.7,97.16 L536.8,94.64 L537.9,90.03 L539,91.36 L540.1,90.93 L541.2,98.5 L542.3,89.71 L543.4,89.23 L544.5,85.73 L545.6,88.06 L546.7,96.77 L547.8,92.54 L548.9,90.75 L550,89.68 L551.1,90.74 L552.2,91.84 L553.3,88.05 L554.4,91.25 L555.5,91.41 L556.6,87.66 L557.7,87.5 L558.8,86.7 L559.9,86.46 L561,93.88 L562.1,82 L563.2,89.49 L564.3,88.18 L565.4,88.14 L566.5,90.87 L567.6,94.79 L568.7,90.79 L569.8,89.97 L570.9,88.17 L572,90.01 L573.1,93.97 L574.2,79.5 L575.3,86.14 L576.4,85.7 L577.5,86.29 L578.6,85.22 L579.7,94.68 L580.8,91.85 L581.9,89.6 L583,96.05 L584.1,88 L585.2,93.36 L586.3,93.54 L587.4,84.62 L588.5,84.58 L589.6,86.98 L590.7,93.95 L591.8,95.43 L592.9,85.84 L594,94.48 L595.1,89.04 L596.2,89 L597.3,88.41 L598.4,89.27 L599.5,83.59 L600.6,86.7 L601.7,85.8 L602.8,92.36 L603.9,98.44 L605,99 L606.1,89.22 L607.2,83.96 L608.3,88.95 L609.4,86.93 L610.5,98.04 L611.6,92.67 L612.7,87.73 L613.8,94.06 L614.9,92.54 L616,84.32 L617.1,88.48 L618.2,89.59 L619.3,90.57 L620.4,91 L621.5,89.21 L622.6,91.22 L623.7,88.27 L624.8,87.09 L625.9,96.26 L627,91.87 L628.1,92.17 L629.2,84.44 L630.3,89.87 L631.4,93.61 L632.5,85.59 L633.6,94.67 L634.7,89.02 L635.8,92.03 L636.9,89.99 L638,91.33 L639.1,95.07 L640.2,88.97 L641.3,96.44 L642.4,87.53 L643.5,86.96 L644.6,93.2 L645.7,86.45 L646.8,89.09 L647.9,93.95 L649,95.1 L650.1,83.76 L651.2,92.42 L652.3,97.66 L653.4,95.04 L654.5,89.59 L655.6,88.22 L656.7,89.37 L657.8,86.12 L658.9,89.49 L660,89.79 L661.1,89.95 L662.2,94.99 L663.3,89.63 L664.4,84.96 L665.5,94.49 L666.6,86.42 L667.7,88.8 L668.8,89.99 L669.9,89.19 L671,86.69 L672.1,89.55" fill="none" stroke="#4bb8fb" stroke-width="1.7"/>
<rect x="472.3" y="1.5" width="201" height="161.1" fill="none" stroke="#4d4d4d" stroke-width="1.2"/>
<path d="M472.3,162.6v3M522.55,162.6v3M572.8,162.6v3M623.05,162.6v3M673.3,162.6v3" stroke="#4d4d4d" stroke-width="1.1" fill="none"/>
<path d="M497.43,162.6v2M547.67,162.6v2M597.93,162.6v2M648.17,162.6v2" stroke="#4d4d4d" stroke-width="1.1" fill="none"/>
<text x="472.3" y="176.9" font-size="10.5" text-anchor="middle" font-weight="normal" fill="#1a1a1a" >3340</text>
<text x="522.55" y="176.9" font-size="10.5" text-anchor="middle" font-weight="normal" fill="#1a1a1a" >3360</text>
<text x="572.8" y="176.9" font-size="10.5" text-anchor="middle" font-weight="normal" fill="#1a1a1a" >3380</text>
<text x="623.05" y="176.9" font-size="10.5" text-anchor="middle" font-weight="normal" fill="#1a1a1a" >3400</text>
<text x="673.3" y="176.9" font-size="10.5" text-anchor="middle" font-weight="normal" fill="#1a1a1a" >3420</text>
<text x="572.4" y="192.7" font-size="10.65" text-anchor="middle" font-weight="normal" fill="#1a1a1a" >Magnetic Filed (Gauss)</text>
<text transform="translate(464.9,81.4) rotate(-90)" font-size="10.8" text-anchor="middle" fill="#1a1a1a">Intensity (arb. units)</text>
<line x1="476.3" y1="10.2" x2="494.7" y2="10.2" stroke="#f76b6b" stroke-width="1.3"/>
<line x1="476.3" y1="23.7" x2="494.7" y2="23.7" stroke="#4bb8fb" stroke-width="1.3"/>
<text x="497.6" y="13.2" font-size="10.7" text-anchor="start" font-weight="normal" fill="#1a1a1a" >Na-HE LDH</text>
<text x="497.6" y="26.7" font-size="10.7" text-anchor="start" font-weight="normal" fill="#1a1a1a" >HE LDH</text>
<text x="585.3" y="60.9" font-size="10.7" text-anchor="start" font-weight="normal" fill="#1a1a1a" >g=2.005</text>
<text x="3.5" y="207.6" font-size="12" text-anchor="start" font-weight="bold" fill="#000" >d</text>
<path d="M16.6,362.7 L17,362.65 L17.4,362.61 L17.8,362.57 L18.2,362.53 L18.6,362.48 L19,362.44 L19.4,362.4 L19.8,362.36 L20.2,362.32 L20.6,362.28 L21,362.24 L21.4,362.2 L21.8,362.17 L22.2,362.13 L22.6,362.09 L23,362.05 L23.4,362.01 L23.8,361.97 L24.2,361.93 L24.6,361.89 L25,361.85 L25.4,361.8 L25.8,361.76 L26.2,361.72 L26.6,361.67 L27,361.62 L27.4,361.58 L27.8,361.53 L28.2,361.48 L28.6,361.43 L29,361.37 L29.4,361.32 L29.8,361.26 L30.2,361.2 L30.6,361.14 L31,361.08 L31.4,361.02 L31.8,360.95 L32.2,360.88 L32.6,360.8 L33,360.73 L33.4,360.64 L33.8,360.56 L34.2,360.47 L34.6,360.37 L35,360.27 L35.4,360.17 L35.8,360.06 L36.2,359.95 L36.6,359.84 L37,359.72 L37.4,359.59 L37.8,359.47 L38.2,359.33 L38.6,359.19 L39,359.02 L39.4,358.82 L39.8,358.61 L40.2,358.39 L40.6,358.16 L41,357.93 L41.4,357.71 L41.8,357.5 L42.2,357.31 L42.6,357.14 L43,357 L43.4,356.88 L43.8,356.76 L44.2,356.63 L44.6,356.52 L45,356.4 L45.4,356.29 L45.8,356.19 L46.2,356.1 L46.6,356.01 L47,355.94 L47.4,355.88 L47.8,355.84 L48.2,355.81 L48.6,355.8 L49,355.82 L49.4,355.89 L49.8,355.99 L50.2,356.13 L50.6,356.31 L51,356.51 L51.4,356.75 L51.8,357.01 L52.2,357.29 L52.6,357.59 L53,357.91 L53.4,358.24 L53.8,358.58 L54.2,358.94 L54.6,359.29 L55,359.65 L55.4,360.01 L55.8,360.39 L56.2,360.84 L56.6,361.34 L57,361.89 L57.4,362.48 L57.8,363.1 L58.2,363.73 L58.6,364.37 L59,365 L59.4,365.61 L59.8,366.2 L59.8,366.2 L60.2,363.88 L60.6,361.66 L61,359.49 L61.4,357.33 L61.8,355.14 L62.2,352.88 L62.6,350.5 L63,347.96 L63.4,345.22 L63.8,342.22 L64.2,338.72 L64.6,334.75 L65,330.43 L65.4,325.92 L65.8,321.34 L66.2,316.84 L66.6,312.54 L67,308.6 L67.4,304.99 L67.8,301.56 L68.2,298.28 L68.6,295.08 L69,291.92 L69.4,288.75 L69.8,285.51 L70.2,282.15 L70.6,278.64 L71,274.88 L71.4,270.76 L71.8,266.44 L72.2,262.1 L72.6,257.92 L73,254.1 L73.4,250.54 L73.8,247.06 L74.2,243.74 L74.6,240.63 L75,237.8 L75.4,235.3 L75.8,232.94 L76.2,230.78 L76.6,228.99 L77,227.73 L77.4,226.66 L77.8,225.71 L78.2,224.97 L78.6,224.56 L79,224.55 L79.4,224.9 L79.8,225.52 L80.2,226.33 L80.6,227.26 L81,228.83 L81.4,231.01 L81.8,233.47 L82.2,235.9 L82.6,238.2 L83,240.54 L83.4,242.95 L83.8,245.47 L84.2,248.15 L84.6,251.01 L85,254.1 L85.4,257.65 L85.8,261.72 L86.2,266.08 L86.6,270.51 L87,274.79 L87.4,278.74 L87.8,282.51 L88.2,286.2 L88.6,289.84 L89,293.48 L89.4,297.17 L89.8,300.96 L90.2,304.98 L90.6,309.19 L91,313.49 L91.4,317.78 L91.8,321.98 L92.2,325.96 L92.6,329.65 L93,332.94 L93.4,335.78 L93.8,338.46 L94.2,340.99 L94.6,343.35 L95,345.5 L95.4,347.42 L95.8,349.08 L96.2,350.48 L96.6,351.79 L97,353.05 L97.4,354.26 L97.8,355.4 L98.2,356.47 L98.6,357.47 L99,358.4 L99.4,359.24 L99.8,360 L100.2,360.66 L100.6,361.23 L101,361.7 L101.4,362.08 L101.8,362.44 L102.2,362.78 L102.6,363.1 L103,363.4 L103.4,363.67 L103.8,363.91 L104.2,364.1 L104.6,364.25 L105,364.35 L105.4,364.4 L105.8,364.2 L106.2,363.38 L106.6,362.09 L107,360.47 L107.4,358.69 L107.8,356.89 L108.2,355.24 L108.6,353.89 L109,353 L109.4,352.4 L109.8,351.82 L110.2,351.26 L110.6,350.75 L111,350.29 L111.4,349.89 L111.8,349.56 L112.2,349.31 L112.6,349.15 L113,349.1 L113.4,349.22 L113.8,349.54 L114.2,350.04 L114.6,350.69 L115,351.45 L115.4,352.29 L115.8,353.18 L116.2,354.09 L116.6,354.98 L117,355.82 L117.4,356.59 L117.8,357.46 L118.2,358.46 L118.6,359.52 L119,360.57 L119.4,361.56 L119.8,362.42 L120.2,363.09 L120.6,363.5 L121,363.6 L121.4,363.5 L121.8,363.27 L122.2,362.95 L122.6,362.53 L123,362.03 L123.4,361.48 L123.8,360.89 L124.2,360.26 L124.6,359.62 L125,358.98 L125.4,358.36 L125.8,357.77 L126.2,357.24 L126.6,356.76 L127,356.36 L127.4,356.06 L127.8,355.87 L128.2,355.8 L128.6,355.82 L129,355.89 L129.4,355.99 L129.8,356.12 L130.2,356.27 L130.6,356.43 L131,356.61 L131.4,356.79 L131.8,356.97 L132.2,357.13 L132.6,357.28 L133,357.41 L133.4,357.51 L133.8,357.58 L134.2,357.6 L134.6,357.57 L135,357.47 L135.4,357.32 L135.8,357.11 L136.2,356.86 L136.6,356.56 L137,356.23 L137.4,355.86 L137.8,355.46 L138.2,355.05 L138.6,354.61 L139,354.16 L139.4,353.7 L139.8,353.23 L140.2,352.77 L140.6,352.32 L141,351.87 L141.4,351.44 L141.8,351.03 L142.2,350.65 L142.6,350.3 L143,349.98 L143.4,349.71 L143.8,349.48 L144.2,349.3 L144.6,349.17 L145,349.11 L145.4,349.11 L145.8,349.17 L146.2,349.29 L146.6,349.46 L147,349.68 L147.4,349.94 L147.8,350.23 L148.2,350.57 L148.6,350.93 L149,351.31 L149.4,351.71 L149.8,352.13 L150.2,352.56 L150.6,353 L151,353.43 L151.4,353.86 L151.8,354.28 L152.2,354.69 L152.6,355.08 L153,355.45 L153.4,355.79 L153.8,356.09 L154.2,356.36 L154.6,356.59 L155,356.77 L155.4,356.91 L155.8,356.98 L156.2,357 L156.6,356.97 L157,356.91 L157.4,356.81 L157.8,356.69 L158.2,356.54 L158.6,356.38 L159,356.2 L159.4,356.02 L159.8,355.82 L160.2,355.63 L160.6,355.44 L161,355.25 L161.4,355.08 L161.8,354.92 L162.2,354.78 L162.6,354.66 L163,354.58 L163.4,354.52 L163.8,354.5 L164.2,354.52 L164.6,354.59 L165,354.69 L165.4,354.82 L165.8,354.99 L166.2,355.19 L166.6,355.4 L167,355.64 L167.4,355.9 L167.8,356.17 L168.2,356.45 L168.6,356.74 L169,357.03 L169.4,357.32 L169.8,357.6 L170.2,357.9 L170.6,358.24 L171,358.61 L171.4,359.01 L171.8,359.43 L172.2,359.88 L172.6,360.35 L173,360.83 L173.4,361.33 L173.8,361.84 L174.2,362.35 L174.6,362.87 L175,363.39 L175.4,363.91 L175.8,364.42 L176.2,364.92 L176.6,365.41 L177,365.88 L177.1,366 L177.1,366 L177.5,365.83 L177.9,365.65 L178.3,365.45 L178.7,365.25 L179.1,365.04 L179.5,364.83 L179.9,364.62 L180.3,364.43 L180.7,364.24 L181.1,364.07 L181.5,363.92 L181.9,363.79 L182.3,363.7 L182.7,363.63 L183.1,363.6 L183.5,363.6 L183.9,363.61 L184.3,363.61 L184.7,363.63 L185.1,363.64 L185.5,363.66 L185.9,363.68 L186.3,363.7 L186.7,363.72 L187.1,363.75 L187.5,363.77 L187.9,363.8 L188.3,363.83 L188.7,363.86 L189.1,363.89 L189.5,363.92 L189.9,363.95 L190.3,363.98 L190.7,364.01 L191.1,364.03 L191.5,364.06 L191.9,364.08 L192.3,364.11 L192.7,364.13 L193.1,364.15 L193.5,364.16 L193.9,364.18 L194.3,364.19 L194.7,364.2 L195.1,364.2 L195.5,364.2 L195.9,364.2 L196.3,364.19 L196.7,364.18 L197.1,364.17 L197.5,364.15 L197.9,364.13 L198.3,364.11 L198.7,364.09 L199.1,364.06 L199.5,364.04 L199.9,364.01 L200.3,363.98 L200.7,363.95 L201.1,363.92 L201.5,363.89 L201.9,363.85 L202.3,363.82 L202.7,363.79 L203.1,363.75 L203.5,363.72 L203.9,363.69 L204.3,363.66 L204.7,363.63 L205.1,363.6 L205.5,363.57 L205.9,363.54 L206.3,363.52 L206.7,363.49 L207.1,363.47 L207.5,363.45 L207.9,363.44 L208.3,363.42 L208.7,363.41 L209.1,363.41 L209.5,363.4 L209.9,363.4 L210.3,363.41 L210.7,363.43 L211.1,363.46 L211.5,363.5 L211.9,363.54 L212.3,363.6 L212.7,363.66 L213.1,363.73 L213.5,363.8 L213.9,363.88 L214.3,363.96 L214.7,364.05 L215.1,364.14 L215.5,364.23 L215.9,364.32 L216.3,364.42 L216.7,364.51 L217.1,364.6 L217.5,364.69 L217.9,364.78 L218.3,364.87 L218.7,364.95 L219.1,365.03 L219.5,365.1 L219.5,365.1" fill="none" stroke="#c2c2c2" stroke-width="1.4" stroke-linejoin="round"/>
<path d="M16.6,366.2 L17,366.11 L17.4,366.02 L17.8,365.94 L18.2,365.86 L18.6,365.77 L19,365.69 L19.4,365.61 L19.8,365.53 L20.2,365.44 L20.6,365.36 L21,365.28 L21.4,365.19 L21.8,365.1 L22.2,365.01 L22.6,364.92 L23,364.82 L23.4,364.72 L23.8,364.62 L24.2,364.51 L24.6,364.4 L25,364.29 L25.4,364.17 L25.8,364.06 L26.2,363.94 L26.6,363.82 L27,363.7 L27.4,363.58 L27.8,363.45 L28.2,363.32 L28.6,363.18 L29,363.03 L29.4,362.88 L29.8,362.72 L30.2,362.56 L30.6,362.38 L31,362.2 L31.4,362.01 L31.8,361.8 L32.2,361.59 L32.6,361.36 L33,361.12 L33.4,360.86 L33.8,360.53 L34.2,360.12 L34.6,359.65 L35,359.12 L35.4,358.54 L35.8,357.93 L36.2,357.29 L36.6,356.63 L37,355.95 L37.4,355.28 L37.8,354.62 L38.2,353.97 L38.6,353.34 L39,352.76 L39.4,352.21 L39.8,351.72 L40.2,351.29 L40.6,350.89 L41,350.52 L41.4,350.18 L41.8,349.85 L42.2,349.53 L42.6,349.23 L43,348.94 L43.4,348.64 L43.8,348.34 L44.2,348.04 L44.6,347.73 L45,347.4 L45.4,347.05 L45.8,346.68 L46.2,346.28 L46.6,345.85 L47,345.38 L47.4,344.86 L47.8,344.29 L48.2,343.67 L48.6,343 L49,342.3 L49.4,341.57 L49.8,340.8 L50.2,340.01 L50.6,339.2 L51,338.38 L51.4,337.54 L51.8,336.7 L52.2,335.86 L52.6,335.02 L53,334.19 L53.4,333.31 L53.8,332.38 L54.2,331.41 L54.6,330.4 L55,329.38 L55.4,328.35 L55.8,327.33 L56.2,326.34 L56.6,325.37 L57,324.46 L57.4,323.61 L57.8,322.83 L58.2,322.13 L58.6,321.44 L59,320.73 L59.4,320.01 L59.8,319.31 L60.2,318.62 L60.6,317.97 L61,317.36 L61.4,316.82 L61.8,316.36 L62.2,315.98 L62.6,315.7 L63,315.54 L63.4,315.51 L63.8,315.7 L64.2,316.11 L64.6,316.72 L65,317.48 L65.4,318.37 L65.8,319.36 L66.2,320.41 L66.6,321.49 L67,322.58 L67.4,323.88 L67.8,325.46 L68.2,327.26 L68.6,329.24 L69,331.34 L69.4,333.52 L69.8,335.73 L70.2,337.93 L70.6,340.05 L71,342.06 L71.4,343.92 L71.8,345.74 L72.2,347.54 L72.6,349.32 L73,351.09 L73.4,352.85 L73.8,354.59 L74.2,356.34 L74.6,358.07 L75,359.81 L75.4,361.56 L75.8,363.3 L76.2,365.06 L76.3,365.5 L76.3,365.5 L76.7,362.88 L77.1,360.2 L77.5,357.48 L77.9,354.74 L78.3,352.01 L78.7,349.32 L79.1,346.69 L79.5,344.14 L79.9,341.71 L80.3,339.42 L80.7,337.28 L81.1,335.19 L81.5,333.13 L81.9,331.11 L82.3,329.15 L82.7,327.26 L83.1,325.46 L83.5,323.76 L83.9,322.19 L84.3,320.75 L84.7,319.48 L85.1,318.34 L85.5,317.2 L85.9,316.06 L86.3,314.97 L86.7,313.97 L87.1,313.1 L87.5,312.41 L87.9,311.93 L88.3,311.71 L88.7,311.78 L89.1,312.1 L89.5,312.63 L89.9,313.36 L90.3,314.24 L90.7,315.24 L91.1,316.32 L91.5,317.46 L91.9,318.62 L92.3,319.77 L92.7,320.88 L93.1,322.09 L93.5,323.44 L93.9,324.9 L94.3,326.46 L94.7,328.08 L95.1,329.73 L95.5,331.4 L95.9,333.04 L96.3,334.64 L96.7,336.17 L97.1,337.62 L97.5,339.11 L97.9,340.64 L98.3,342.17 L98.7,343.69 L99.1,345.18 L99.5,346.6 L99.9,347.95 L100.3,349.2 L100.7,350.32 L101.1,351.28 L101.5,352.12 L101.9,352.93 L102.3,353.7 L102.7,354.44 L103.1,355.14 L103.5,355.8 L103.9,356.43 L104.3,357.01 L104.7,357.55 L105.1,358.04 L105.5,358.48 L105.9,358.88 L106.3,359.22 L106.7,359.52 L107.1,359.77 L107.5,360 L107.9,360.2 L108.3,360.38 L108.7,360.55 L109.1,360.71 L109.5,360.87 L109.9,361.04 L110.3,361.22 L110.7,361.42 L111.1,361.65 L111.5,361.9 L111.9,362.19 L112.3,362.52 L112.7,362.89 L113.1,363.28 L113.5,363.69 L113.9,364.12 L114.3,364.56 L114.7,365 L115.1,365.45 L115.5,365.88 L115.9,366.3 L116.1,366.5 L116.1,366.5 L116.5,366.21 L116.9,365.89 L117.3,365.55 L117.7,365.19 L118.1,364.83 L118.5,364.47 L118.9,364.11 L119.3,363.77 L119.7,363.45 L120.1,363.16 L120.5,362.91 L120.9,362.7 L121.3,362.54 L121.7,362.44 L122.1,362.4 L122.5,362.41 L122.9,362.44 L123.3,362.48 L123.7,362.54 L124.1,362.61 L124.5,362.7 L124.9,362.79 L125.3,362.9 L125.7,363.01 L126.1,363.13 L126.5,363.26 L126.9,363.39 L127.3,363.52 L127.7,363.65 L128.1,363.79 L128.5,363.92 L128.9,364.05 L129.3,364.17 L129.7,364.29 L130.1,364.42 L130.5,364.56 L130.9,364.7 L131.3,364.85 L131.7,365 L132.1,365.15 L132.5,365.31 L132.9,365.47 L133.3,365.63 L133.7,365.79 L134.1,365.95 L134.5,366.11 L134.9,366.27 L135.3,366.42 L135.5,366.5 L135.5,366.5 L135.9,366.07 L136.3,365.62 L136.7,365.16 L137.1,364.7 L137.5,364.23 L137.9,363.77 L138.3,363.3 L138.7,362.83 L139.1,362.37 L139.5,361.91 L139.9,361.47 L140.3,361.03 L140.7,360.61 L141.1,360.21 L141.5,359.82 L141.9,359.46 L142.3,359.12 L142.7,358.8 L143.1,358.49 L143.5,358.17 L143.9,357.85 L144.3,357.53 L144.7,357.21 L145.1,356.9 L145.5,356.6 L145.9,356.32 L146.3,356.06 L146.7,355.83 L147.1,355.63 L147.5,355.46 L147.9,355.33 L148.3,355.24 L148.7,355.2 L149.1,355.21 L149.5,355.23 L149.9,355.27 L150.3,355.33 L150.7,355.41 L151.1,355.49 L151.5,355.59 L151.9,355.7 L152.3,355.83 L152.7,355.96 L153.1,356.09 L153.5,356.23 L153.9,356.38 L154.3,356.53 L154.7,356.68 L155.1,356.83 L155.5,356.98 L155.9,357.13 L156.3,357.27 L156.7,357.41 L157.1,357.54 L157.5,357.66 L157.9,357.8 L158.3,357.95 L158.7,358.12 L159.1,358.29 L159.5,358.46 L159.9,358.64 L160.3,358.82 L160.7,358.99 L161.1,359.16 L161.5,359.32 L161.9,359.47 L162.3,359.61 L162.7,359.73 L163.1,359.83 L163.5,359.91 L163.9,359.97 L164.3,360 L164.7,360 L165.1,359.99 L165.5,359.97 L165.9,359.94 L166.3,359.9 L166.7,359.86 L167.1,359.81 L167.5,359.75 L167.9,359.69 L168.3,359.62 L168.7,359.56 L169.1,359.49 L169.5,359.42 L169.9,359.35 L170.3,359.28 L170.7,359.21 L171.1,359.14 L171.5,359.08 L171.9,359.02 L172.3,358.97 L172.7,358.92 L173.1,358.88 L173.5,358.85 L173.9,358.82 L174.3,358.81 L174.7,358.8 L175.1,358.82 L175.5,358.87 L175.9,358.95 L176.3,359.06 L176.7,359.19 L177.1,359.34 L177.5,359.51 L177.9,359.7 L178.3,359.9 L178.7,360.11 L179.1,360.32 L179.5,360.54 L179.9,360.76 L180.3,360.97 L180.7,361.19 L181.1,361.39 L181.5,361.58 L181.9,361.76 L182.3,361.93 L182.7,362.11 L183.1,362.29 L183.5,362.49 L183.9,362.68 L184.3,362.89 L184.7,363.09 L185.1,363.29 L185.5,363.48 L185.9,363.67 L186.3,363.86 L186.7,364.03 L187.1,364.2 L187.5,364.35 L187.9,364.49 L188.3,364.6 L188.7,364.7 L189.1,364.78 L189.5,364.85 L189.9,364.9 L190.3,364.95 L190.7,365 L191.1,365.04 L191.5,365.09 L191.9,365.12 L192.3,365.16 L192.7,365.19 L193.1,365.22 L193.5,365.26 L193.9,365.29 L194.3,365.32 L194.7,365.35 L195.1,365.38 L195.5,365.41 L195.9,365.45 L196.3,365.48 L196.5,365.5 L196.5,365.5 L196.9,365.44 L197.3,365.37 L197.7,365.29 L198.1,365.22 L198.5,365.14 L198.9,365.06 L199.3,364.98 L199.7,364.9 L200.1,364.81 L200.5,364.74 L200.9,364.66 L201.3,364.59 L201.7,364.52 L202.1,364.45 L202.5,364.39 L202.9,364.34 L203.3,364.29 L203.7,364.26 L204.1,364.23 L204.5,364.21 L204.9,364.2 L205.3,364.2 L205.7,364.21 L206.1,364.22 L206.5,364.24 L206.9,364.26 L207.3,364.29 L207.7,364.32 L208.1,364.36 L208.5,364.39 L208.9,364.44 L209.3,364.48 L209.7,364.53 L210.1,364.59 L210.5,364.64 L210.9,364.7 L211.3,364.76 L211.7,364.82 L212.1,364.89 L212.5,364.95 L212.9,365.02 L213.3,365.09 L213.7,365.16 L214.1,365.23 L214.5,365.3 L214.9,365.37 L215.3,365.44 L215.7,365.51 L216.1,365.57 L216.5,365.64 L216.9,365.71 L217.3,365.77 L217.7,365.84 L218.1,365.9 L218.5,365.96 L218.9,366.02 L219.3,366.07 L219.5,366.1" fill="none" stroke="#ece467" stroke-width="1.4" stroke-linejoin="round"/>
<path d="M16.6,358.4 L17,358.65 L17.4,358.92 L17.8,359.21 L18.2,359.51 L18.6,359.82 L19,360.12 L19.4,360.41 L19.8,360.68 L20.2,360.93 L20.6,361.14 L21,361.31 L21.4,361.43 L21.8,361.49 L22.2,361.48 L22.6,361.36 L23,361.12 L23.4,360.8 L23.8,360.42 L24.2,360 L24.6,359.55 L25,359.1 L25.4,358.68 L25.8,358.3 L26.2,357.98 L26.6,357.74 L27,357.62 L27.4,357.61 L27.8,357.7 L28.2,357.85 L28.6,358.06 L29,358.31 L29.4,358.59 L29.8,358.89 L30.2,359.18 L30.6,359.45 L31,359.7 L31.4,359.89 L31.8,360.03 L32.2,360.1 L32.6,359.95 L33,359.3 L33.4,358.23 L33.8,356.79 L34.2,355.08 L34.6,353.15 L35,351.09 L35.4,348.97 L35.8,346.86 L36.2,344.85 L36.6,343 L37,341.14 L37.4,339.09 L37.8,336.9 L38.2,334.65 L38.6,332.39 L39,330.18 L39.4,328.08 L39.8,326.16 L40.2,324.48 L40.6,323.1 L41,322.07 L41.4,321.25 L41.8,320.54 L42.2,319.93 L42.6,319.39 L43,318.9 L43.4,318.44 L43.8,318 L44.2,317.54 L44.6,317.06 L45,316.52 L45.4,315.91 L45.8,315.2 L46.2,314.38 L46.6,313.41 L47,312.28 L47.4,311.02 L47.8,309.65 L48.2,308.17 L48.6,306.62 L49,305.01 L49.4,303.35 L49.8,301.67 L50.2,299.98 L50.6,298.3 L51,296.57 L51.4,294.74 L51.8,292.82 L52.2,290.85 L52.6,288.86 L53,286.85 L53.4,284.87 L53.8,282.92 L54.2,280.88 L54.6,278.78 L55,276.67 L55.4,274.6 L55.8,272.63 L56.2,270.8 L56.6,269.17 L57,267.71 L57.4,266.29 L57.8,264.96 L58.2,263.76 L58.6,262.76 L59,262 L59.4,261.39 L59.8,260.81 L60.2,260.31 L60.6,259.94 L61,259.73 L61.4,259.74 L61.8,260 L62.2,260.47 L62.6,261.12 L63,261.88 L63.4,262.73 L63.8,264.1 L64.2,265.96 L64.6,268.1 L65,270.3 L65.4,272.55 L65.8,275 L66.2,277.62 L66.6,280.38 L67,283.27 L67.4,286.25 L67.8,289.29 L68.2,292.54 L68.6,296.23 L69,300.67 L69.4,306.37 L69.8,312.76 L70.2,319.09 L70.6,324.89 L71,330.96 L71.4,336.73 L71.8,341.37 L72.2,344.34 L72.6,346.93 L73,349.35 L73.4,351.55 L73.8,353.49 L74.2,355.11 L74.6,356.36 L75,357.21 L75.4,357.58 L75.8,357.51 L76.2,357.16 L76.6,356.57 L77,355.81 L77.4,354.91 L77.8,353.93 L78.2,352.92 L78.6,351.93 L79,351.01 L79.4,350.2 L79.8,349.57 L80.2,349.15 L80.6,349 L81,349.08 L81.4,349.29 L81.8,349.62 L82.2,350.05 L82.6,350.56 L83,351.11 L83.4,351.7 L83.8,352.3 L84.2,352.89 L84.6,353.44 L85,353.95 L85.4,354.38 L85.8,354.71 L86.2,354.92 L86.6,355 L87,354.92 L87.4,354.71 L87.8,354.38 L88.2,353.95 L88.6,353.44 L89,352.89 L89.4,352.3 L89.8,351.7 L90.2,351.11 L90.6,350.56 L91,350.05 L91.4,349.62 L91.8,349.29 L92.2,349.08 L92.6,349 L93,349.06 L93.4,349.22 L93.8,349.49 L94.2,349.83 L94.6,350.26 L95,350.74 L95.4,351.28 L95.8,351.86 L96.2,352.48 L96.6,353.11 L97,353.74 L97.4,354.38 L97.8,355 L98.2,355.73 L98.6,356.66 L99,357.74 L99.4,358.9 L99.8,360.08 L100.2,361.23 L100.6,362.29 L101,363.19 L101.4,363.88 L101.8,364.3 L102.2,364.39 L102.6,364.2 L103,363.77 L103.4,363.16 L103.8,362.39 L104.2,361.5 L104.6,360.53 L105,359.51 L105.4,358.48 L105.8,357.48 L106.2,356.54 L106.6,355.71 L107,355.01 L107.4,354.49 L107.8,354.17 L108.2,354.1 L108.6,354.15 L109,354.27 L109.4,354.45 L109.8,354.67 L110.2,354.93 L110.6,355.23 L111,355.56 L111.4,355.91 L111.8,356.27 L112.2,356.63 L112.6,356.99 L113,357.35 L113.4,357.69 L113.8,358.1 L114.2,358.59 L114.6,359.13 L115,359.7 L115.4,360.25 L115.8,360.76 L116.2,361.2 L116.6,361.54 L117,361.75 L117.4,361.8 L117.8,361.72 L118.2,361.54 L118.6,361.29 L119,360.98 L119.4,360.62 L119.8,360.22 L120.2,359.8 L120.6,359.39 L121,358.98 L121.4,358.6 L121.8,358.26 L122.2,357.97 L122.6,357.76 L123,357.63 L123.4,357.6 L123.8,357.66 L124.2,357.78 L124.6,357.95 L125,358.18 L125.4,358.44 L125.8,358.74 L126.2,359.06 L126.6,359.4 L127,359.74 L127.4,360.09 L127.8,360.42 L128.2,360.74 L128.6,361.03 L129,361.28 L129.4,361.5 L129.8,361.66 L130.2,361.76 L130.6,361.8 L131,361.78 L131.4,361.72 L131.8,361.63 L132.2,361.5 L132.6,361.36 L133,361.19 L133.4,361.01 L133.8,360.82 L134.2,360.62 L134.6,360.43 L135,360.24 L135.4,360.05 L135.8,359.88 L136.2,359.73 L136.6,359.6 L137,359.5 L137.4,359.43 L137.8,359.4 L138.2,359.41 L138.6,359.48 L139,359.58 L139.4,359.73 L139.8,359.9 L140.2,360.11 L140.6,360.33 L141,360.56 L141.4,360.81 L141.8,361.05 L142.2,361.3 L142.6,361.53 L143,361.75 L143.4,361.94 L143.8,362.11 L144.2,362.25 L144.6,362.34 L145,362.39 L145.4,362.4 L145.8,362.36 L146.2,362.31 L146.6,362.22 L147,362.12 L147.4,362 L147.8,361.87 L148.2,361.72 L148.6,361.57 L149,361.43 L149.4,361.28 L149.8,361.13 L150.2,361 L150.6,360.88 L151,360.78 L151.4,360.69 L151.8,360.64 L152.2,360.6 L152.6,360.6 L153,360.61 L153.4,360.63 L153.8,360.66 L154.2,360.69 L154.6,360.74 L155,360.79 L155.4,360.84 L155.8,360.9 L156.2,360.97 L156.6,361.03 L157,361.1 L157.4,361.18 L157.8,361.25 L158.2,361.33 L158.6,361.4 L159,361.48 L159.4,361.55 L159.8,361.62 L160.2,361.69 L160.6,361.75 L161,361.82 L161.4,361.88 L161.8,361.95 L162.2,362.02 L162.6,362.09 L163,362.17 L163.4,362.25 L163.8,362.33 L164.2,362.41 L164.6,362.5 L165,362.58 L165.4,362.67 L165.8,362.75 L166.2,362.83 L166.6,362.91 L167,362.99 L167.4,363.07 L167.8,363.14 L168.2,363.21 L168.6,363.27 L169,363.34 L169.4,363.39 L169.8,363.44 L170.2,363.49 L170.6,363.52 L171,363.55 L171.4,363.58 L171.8,363.59 L172.2,363.6 L172.6,363.59 L173,363.57 L173.4,363.52 L173.8,363.47 L174.2,363.39 L174.6,363.31 L175,363.22 L175.4,363.12 L175.8,363.02 L176.2,362.93 L176.6,362.83 L177,362.73 L177.4,362.65 L177.8,362.57 L178.2,362.5 L178.6,362.45 L179,362.42 L179.4,362.4 L179.8,362.4 L180.2,362.42 L180.6,362.46 L181,362.51 L181.4,362.56 L181.8,362.63 L182.2,362.71 L182.6,362.79 L183,362.87 L183.4,362.96 L183.8,363.05 L184.2,363.14 L184.6,363.23 L185,363.31 L185.4,363.39 L185.8,363.46 L186.2,363.53 L186.6,363.58 L187,363.62 L187.4,363.66 L187.8,363.7 L188.2,363.74 L188.6,363.78 L189,363.81 L189.4,363.85 L189.8,363.88 L190.2,363.92 L190.6,363.95 L191,363.99 L191.4,364.02 L191.8,364.05 L192.2,364.08 L192.6,364.11 L193,364.14 L193.4,364.17 L193.8,364.2 L194.2,364.23 L194.6,364.26 L195,364.28 L195.4,364.31 L195.8,364.33 L196.2,364.36 L196.6,364.38 L197,364.4 L197.4,364.42 L197.8,364.45 L198.2,364.47 L198.6,364.49 L199,364.5 L199.4,364.52 L199.8,364.54 L200.2,364.56 L200.6,364.57 L201,364.59 L201.4,364.6 L201.8,364.61 L202.2,364.63 L202.6,364.64 L203,364.65 L203.4,364.66 L203.8,364.67 L204.2,364.69 L204.6,364.7 L205,364.71 L205.4,364.72 L205.8,364.73 L206.2,364.74 L206.6,364.75 L207,364.76 L207.4,364.76 L207.8,364.77 L208.2,364.78 L208.6,364.79 L209,364.8 L209.4,364.81 L209.8,364.81 L210.2,364.82 L210.6,364.83 L211,364.84 L211.4,364.84 L211.8,364.85 L212.2,364.86 L212.6,364.87 L213,364.87 L213.4,364.88 L213.8,364.89 L214.2,364.9 L214.6,364.9 L215,364.91 L215.4,364.92 L215.8,364.93 L216.2,364.93 L216.6,364.94 L217,364.95 L217.4,364.96 L217.8,364.96 L218.2,364.97 L218.6,364.98 L219,364.99 L219.4,365 L219.5,365" fill="none" stroke="#f46a6d" stroke-width="1.4" stroke-linejoin="round"/>
<path d="M16.6,349.8 L17,350.69 L17.4,351.67 L17.8,352.72 L18.2,353.81 L18.6,354.92 L19,356.01 L19.4,357.06 L19.8,358.04 L20.2,358.93 L20.6,359.69 L21,360.3 L21.4,360.74 L21.8,360.97 L22.2,360.97 L22.6,360.72 L23,360.25 L23.4,359.62 L23.8,358.85 L24.2,357.98 L24.6,357.06 L25,356.13 L25.4,355.22 L25.8,354.38 L26.2,353.61 L26.6,352.73 L27,351.75 L27.4,350.72 L27.8,349.68 L28.2,348.69 L28.6,347.79 L29,347.02 L29.4,346.44 L29.8,346.08 L30.2,346.02 L30.6,346.4 L31,347.21 L31.4,348.34 L31.8,349.72 L32.2,351.22 L32.6,352.76 L33,354.24 L33.4,355.57 L33.8,356.63 L34.2,357.34 L34.6,357.6 L35,357.29 L35.4,356.44 L35.8,355.14 L36.2,353.49 L36.6,351.59 L37,349.54 L37.4,347.43 L37.8,345.37 L38.2,343.45 L38.6,341.64 L39,339.71 L39.4,337.69 L39.8,335.61 L40.2,333.52 L40.6,331.45 L41,329.45 L41.4,327.55 L41.8,325.8 L42.2,324.15 L42.6,322.56 L43,321.02 L43.4,319.55 L43.8,318.18 L44.2,316.9 L44.6,315.74 L45,314.74 L45.4,313.85 L45.8,312.99 L46.2,312.11 L46.6,311.13 L47,310 L47.4,308.67 L47.8,307.17 L48.2,305.53 L48.6,303.76 L49,301.9 L49.4,299.98 L49.8,297.99 L50.2,295.83 L50.6,293.52 L51,291.1 L51.4,288.61 L51.8,286.09 L52.2,283.59 L52.6,281.16 L53,278.82 L53.4,276.5 L53.8,274.17 L54.2,271.86 L54.6,269.58 L55,267.36 L55.4,265.22 L55.8,263.19 L56.2,261.23 L56.6,259.23 L57,257.28 L57.4,255.43 L57.8,253.76 L58.2,252.35 L58.6,251.25 L59,250.25 L59.4,249.29 L59.8,248.41 L60.2,247.68 L60.6,247.14 L61,246.84 L61.4,246.84 L61.8,247.16 L62.2,247.73 L62.6,248.52 L63,249.46 L63.4,250.5 L63.8,252.05 L64.2,254.32 L64.6,256.98 L65,259.7 L65.4,262.47 L65.8,265.47 L66.2,268.65 L66.6,271.95 L67,275.34 L67.4,278.76 L67.8,282.22 L68.2,285.78 L68.6,289.46 L69,293.28 L69.4,297.27 L69.8,301.57 L70.2,306.29 L70.6,311.14 L71,315.82 L71.4,320.14 L71.8,324.5 L72.2,328.66 L72.6,332.27 L73,335.01 L73.4,337.46 L73.8,339.81 L74.2,341.93 L74.6,343.67 L75,344.9 L75.4,345.47 L75.8,345.39 L76.2,344.94 L76.6,344.26 L77,343.45 L77.4,342.63 L77.8,341.91 L78.2,341.4 L78.6,341.2 L79,341.32 L79.4,341.64 L79.8,342.11 L80.2,342.68 L80.6,343.32 L81,343.96 L81.4,344.56 L81.8,345.15 L82.2,345.85 L82.6,346.63 L83,347.47 L83.4,348.31 L83.8,349.13 L84.2,349.88 L84.6,350.53 L85,351.05 L85.4,351.38 L85.8,351.5 L86.2,351.22 L86.6,350.46 L87,349.31 L87.4,347.89 L87.8,346.29 L88.2,344.62 L88.6,342.99 L89,341.5 L89.4,340.26 L89.8,339.22 L90.2,338.11 L90.6,336.99 L91,335.91 L91.4,334.96 L91.8,334.19 L92.2,333.68 L92.6,333.5 L93,333.62 L93.4,333.95 L93.8,334.47 L94.2,335.15 L94.6,335.94 L95,336.82 L95.4,337.75 L95.8,338.71 L96.2,339.66 L96.6,340.57 L97,341.41 L97.4,342.33 L97.8,343.39 L98.2,344.54 L98.6,345.77 L99,347.03 L99.4,348.32 L99.8,349.58 L100.2,350.81 L100.6,351.96 L101,353.02 L101.4,353.94 L101.8,354.71 L102.2,355.3 L102.6,355.67 L103,355.8 L103.4,355.68 L103.8,355.35 L104.2,354.85 L104.6,354.21 L105,353.48 L105.4,352.7 L105.8,351.9 L106.2,351.13 L106.6,350.42 L107,349.81 L107.4,349.35 L107.8,349.07 L108.2,349 L108.6,349.07 L109,349.22 L109.4,349.44 L109.8,349.73 L110.2,350.08 L110.6,350.48 L111,350.92 L111.4,351.4 L111.8,351.91 L112.2,352.43 L112.6,353 L113,353.78 L113.4,354.76 L113.8,355.92 L114.2,357.2 L114.6,358.59 L115,360.03 L115.4,361.5 L115.8,362.96 L116.2,364.36 L116.6,365.69 L116.7,366 L116.7,366 L117.1,365.46 L117.5,364.87 L117.9,364.25 L118.3,363.59 L118.7,362.92 L119.1,362.24 L119.5,361.57 L119.9,360.91 L120.3,360.28 L120.7,359.69 L121.1,359.16 L121.5,358.68 L121.9,358.28 L122.3,357.96 L122.7,357.73 L123.1,357.62 L123.5,357.61 L123.9,357.71 L124.3,357.91 L124.7,358.18 L125.1,358.51 L125.5,358.91 L125.9,359.34 L126.3,359.81 L126.7,360.29 L127.1,360.78 L127.5,361.27 L127.9,361.74 L128.3,362.19 L128.7,362.59 L129.1,362.94 L129.5,363.23 L129.9,363.45 L130.3,363.57 L130.7,363.6 L131.1,363.56 L131.5,363.48 L131.9,363.36 L132.3,363.21 L132.7,363.04 L133.1,362.85 L133.5,362.64 L133.9,362.43 L134.3,362.21 L134.7,362 L135.1,361.81 L135.5,361.63 L135.9,361.47 L136.3,361.34 L136.7,361.25 L137.1,361.21 L137.5,361.2 L137.9,361.21 L138.3,361.24 L138.7,361.28 L139.1,361.32 L139.5,361.38 L139.9,361.44 L140.3,361.51 L140.7,361.58 L141.1,361.65 L141.5,361.73 L141.9,361.81 L142.3,361.89 L142.7,361.97 L143.1,362.04 L143.5,362.11 L143.9,362.18 L144.3,362.24 L144.7,362.29 L145.1,362.33 L145.5,362.37 L145.9,362.39 L146.3,362.4 L146.7,362.38 L147.1,362.28 L147.5,362.13 L147.9,361.95 L148.3,361.75 L148.7,361.56 L149.1,361.39 L149.5,361.26 L149.9,361.2 L150.3,361.22 L150.7,361.31 L151.1,361.45 L151.5,361.66 L151.9,361.9 L152.3,362.19 L152.7,362.51 L153.1,362.86 L153.5,363.22 L153.9,363.59 L154.3,363.97 L154.7,364.34 L155.1,364.7 L155.5,365.04 L155.9,365.35 L156.1,365.5 L156.1,365.5 L156.5,365.11 L156.9,364.68 L157.3,364.23 L157.7,363.76 L158.1,363.28 L158.5,362.78 L158.9,362.28 L159.3,361.78 L159.7,361.29 L160.1,360.8 L160.5,360.33 L160.9,359.88 L161.3,359.46 L161.7,359.06 L162.1,358.71 L162.5,358.39 L162.9,358.12 L163.3,357.9 L163.7,357.74 L164.1,357.63 L164.5,357.6 L164.9,357.64 L165.3,357.75 L165.7,357.91 L166.1,358.12 L166.5,358.37 L166.9,358.63 L167.3,358.9 L167.7,359.17 L168.1,359.42 L168.5,359.64 L168.9,359.82 L169.3,359.94 L169.7,360 L170.1,360 L170.5,359.99 L170.9,359.98 L171.3,359.96 L171.7,359.94 L172.1,359.91 L172.5,359.89 L172.9,359.86 L173.3,359.82 L173.7,359.79 L174.1,359.75 L174.5,359.71 L174.9,359.68 L175.3,359.64 L175.7,359.6 L176.1,359.57 L176.5,359.54 L176.9,359.51 L177.3,359.48 L177.7,359.45 L178.1,359.43 L178.5,359.42 L178.9,359.41 L179.3,359.4 L179.7,359.41 L180.1,359.45 L180.5,359.53 L180.9,359.66 L181.3,359.81 L181.7,360 L182.1,360.22 L182.5,360.47 L182.9,360.74 L183.3,361.03 L183.7,361.34 L184.1,361.66 L184.5,362 L184.9,362.35 L185.3,362.71 L185.7,363.07 L186.1,363.43 L186.5,363.79 L186.9,364.15 L187.3,364.5 L187.7,364.85 L188.1,365.18 L188.5,365.49 L188.9,365.79 L189.2,366 L189.2,366 L189.6,365.82 L190,365.62 L190.4,365.41 L190.8,365.19 L191.2,364.96 L191.6,364.73 L192,364.51 L192.4,364.3 L192.8,364.09 L193.2,363.91 L193.6,363.75 L194,363.61 L194.4,363.5 L194.8,363.43 L195.2,363.4 L195.6,363.41 L196,363.45 L196.4,363.52 L196.8,363.62 L197.2,363.74 L197.6,363.88 L198,364.04 L198.4,364.21 L198.8,364.39 L199.2,364.57 L199.6,364.75 L200,364.93 L200.4,365.11 L200.8,365.28 L201.2,365.43 L201.4,365.5 L201.4,365.5 L201.8,365.41 L202.2,365.31 L202.6,365.2 L203,365.09 L203.4,364.97 L203.8,364.86 L204.2,364.74 L204.6,364.63 L205,364.53 L205.4,364.44 L205.8,364.36 L206.2,364.29 L206.6,364.24 L207,364.21 L207.4,364.2 L207.8,364.2 L208.2,364.21 L208.6,364.22 L209,364.24 L209.4,364.27 L209.8,364.29 L210.2,364.32 L210.6,364.36 L211,364.4 L211.4,364.44 L211.8,364.48 L212.2,364.53 L212.6,364.58 L213,364.63 L213.4,364.68 L213.8,364.74 L214.2,364.79 L214.6,364.85 L215,364.9 L215.4,364.96 L215.8,365.02 L216.2,365.08 L216.6,365.13 L217,365.19 L217.4,365.24 L217.8,365.3 L218.2,365.35 L218.6,365.4 L219,365.44 L219.4,365.49 L219.5,365.5" fill="none" stroke="#3db4f6" stroke-width="1.4" stroke-linejoin="round"/>
<rect x="16.3" y="203" width="203.6" height="164" fill="none" stroke="#4d4d4d" stroke-width="1.2"/>
<path d="M16.4,367v3M74.54,367v3M132.68,367v3M190.82,367v3" stroke="#4d4d4d" stroke-width="1.1" fill="none"/>
<path d="M45.47,367v2M103.61,367v2M161.75,367v2M219.89,367v2" stroke="#4d4d4d" stroke-width="1.1" fill="none"/>
<text x="16.4" y="380.6" font-size="10.5" text-anchor="middle" font-weight="normal" fill="#1a1a1a" >0</text>
<text x="74.54" y="380.6" font-size="10.5" text-anchor="middle" font-weight="normal" fill="#1a1a1a" >2</text>
<text x="132.68" y="380.6" font-size="10.5" text-anchor="middle" font-weight="normal" fill="#1a1a1a" >4</text>
<text x="190.82" y="380.6" font-size="10.5" text-anchor="middle" font-weight="normal" fill="#1a1a1a" >6</text>
<text x="114.4" y="392.5" font-size="10.5" text-anchor="middle" font-weight="normal" fill="#1a1a1a" >R (Å)</text>
<text transform="translate(8.8,284.6) rotate(-90)" font-size="10.95" text-anchor="middle" fill="#1a1a1a">FT-EXAFS (arb. units)</text>
<text x="18.2" y="213.2" font-size="10.5" text-anchor="start" font-weight="normal" fill="#1a1a1a" >Ni k-edge</text>
<text x="53.6" y="226.6" font-size="11" text-anchor="start" font-weight="normal" fill="#1a1a1a" >Ni-Ni</text>
<text x="24.6" y="261.7" font-size="10.5" text-anchor="start" font-weight="normal" fill="#1a1a1a" >Ni-O</text>
<line x1="78.5" y1="218" x2="78.5" y2="242" stroke="#222" stroke-width="0.9" stroke-dasharray="1 1"/>
<line x1="60.5" y1="240.5" x2="60.5" y2="268" stroke="#111" stroke-width="1.1"/>
<path d="M58.8,267 L62.2,267 L60.5,273 Z" fill="#111"/>
<line x1="140.1" y1="210.9" x2="159.5" y2="210.9" stroke="#f46a6d" stroke-width="1.4"/>
<text x="161.6" y="213.9" font-size="10.7" text-anchor="start" font-weight="normal" fill="#1a1a1a" >Na-HE LDH</text>
<line x1="140.1" y1="224.1" x2="159.5" y2="224.1" stroke="#3db4f6" stroke-width="1.4"/>
<text x="161.6" y="227.1" font-size="10.7" text-anchor="start" font-weight="normal" fill="#1a1a1a" >HE LDH</text>
<line x1="140.1" y1="237.3" x2="159.5" y2="237.3" stroke="#c2c2c2" stroke-width="1.4"/>
<text x="161.6" y="240.3" font-size="10.7" text-anchor="start" font-weight="normal" fill="#1a1a1a" >Ni foil</text>
<line x1="140.1" y1="250.5" x2="159.5" y2="250.5" stroke="#ece467" stroke-width="1.4"/>
<text x="161.6" y="253.5" font-size="10.7" text-anchor="start" font-weight="normal" fill="#1a1a1a" >NiO</text>
<text x="231.3" y="209.7" font-size="12" text-anchor="start" font-weight="bold" fill="#000" >e</text>
<path d="M246.3,349.2 L246.7,349.85 L247.1,350.49 L247.5,351.14 L247.9,351.78 L248.3,352.43 L248.7,353.08 L249.1,353.73 L249.5,354.4 L249.9,355.07 L250.3,355.86 L250.7,356.74 L251.1,357.67 L251.5,358.6 L251.9,359.49 L252.3,360.28 L252.7,360.93 L253.1,361.38 L253.5,361.59 L253.9,361.53 L254.3,361.22 L254.7,360.71 L255.1,360.02 L255.5,359.19 L255.9,358.26 L256.3,357.25 L256.7,356.2 L257.1,355.15 L257.5,354.13 L257.9,353.16 L258.3,352.3 L258.7,351.48 L259.1,350.56 L259.5,349.57 L259.9,348.56 L260.3,347.58 L260.7,346.69 L261.1,345.92 L261.5,345.34 L261.9,344.99 L262.3,344.91 L262.7,345.07 L263.1,345.42 L263.5,345.93 L263.9,346.58 L264.3,347.32 L264.7,348.13 L265.1,348.99 L265.5,349.85 L265.9,350.69 L266.3,351.55 L266.7,352.69 L267.1,354.02 L267.5,355.4 L267.9,356.66 L268.3,357.65 L268.7,358.22 L269.1,358.2 L269.5,357.44 L269.9,356.08 L270.3,354.26 L270.7,352.13 L271.1,349.86 L271.5,347.6 L271.9,345.48 L272.3,343.2 L272.7,340.68 L273.1,338.01 L273.5,335.29 L273.9,332.59 L274.3,330.02 L274.7,327.56 L275.1,325.1 L275.5,322.64 L275.9,320.25 L276.3,317.96 L276.7,315.8 L277.1,313.82 L277.5,311.92 L277.9,310.09 L278.3,308.34 L278.7,306.71 L279.1,305.22 L279.5,303.9 L279.9,302.76 L280.3,301.76 L280.7,300.85 L281.1,300.01 L281.5,299.19 L281.9,298.34 L282.3,297.44 L282.7,296.47 L283.1,295.5 L283.5,294.51 L283.9,293.47 L284.3,292.38 L284.7,291.21 L285.1,290.02 L285.5,288.78 L285.9,287.43 L286.3,285.95 L286.7,284.3 L287.1,282.3 L287.5,279.94 L287.9,277.4 L288.3,274.87 L288.7,272.27 L289.1,269.57 L289.5,266.78 L289.9,263.82 L290.3,261.1 L290.7,258.78 L291.1,256.67 L291.5,254.7 L291.9,252.88 L292.3,251.17 L292.7,249.45 L293.1,247.6 L293.5,245.7 L293.9,243.83 L294.3,241.9 L294.7,240.3 L295.1,239.12 L295.5,238.12 L295.9,237.42 L296.3,236.99 L296.7,236.64 L297.1,236.39 L297.5,236.3 L297.9,236.39 L298.3,236.64 L298.7,236.99 L299.1,237.42 L299.5,238.14 L299.9,239.19 L300.3,240.5 L300.7,242.59 L301.1,245.1 L301.5,247.3 L301.9,249.47 L302.3,251.71 L302.7,253.92 L303.1,256.46 L303.5,260.06 L303.9,264.44 L304.3,267.94 L304.7,271.04 L305.1,274.23 L305.5,277.63 L305.9,281 L306.3,284.09 L306.7,286.84 L307.1,289.64 L307.5,292.89 L307.9,296.97 L308.3,301.16 L308.7,304.72 L309.1,307.97 L309.5,311.18 L309.9,314.48 L310.3,317.79 L310.7,321.15 L311.1,324.79 L311.5,328.89 L311.9,332.83 L312.3,335.95 L312.7,337.83 L313.1,339.41 L313.5,340.8 L313.9,341.91 L314.3,342.64 L314.7,342.9 L315.1,342.81 L315.5,342.55 L315.9,342.18 L316.3,341.71 L316.7,341.2 L317.1,340.67 L317.5,340.16 L317.9,339.72 L318.3,339.37 L318.7,339.15 L319.1,339.1 L319.5,339.2 L319.9,339.4 L320.3,339.7 L320.7,340.08 L321.1,340.52 L321.5,341.01 L321.9,341.53 L322.3,342.07 L322.7,342.61 L323.1,343.13 L323.5,343.63 L323.9,344.21 L324.3,344.91 L324.7,345.69 L325.1,346.49 L325.5,347.3 L325.9,348.06 L326.3,348.75 L326.7,349.32 L327.1,349.74 L327.5,349.97 L327.9,349.91 L328.3,349.27 L328.7,348.12 L329.1,346.61 L329.5,344.89 L329.9,343.11 L330.3,341.42 L330.7,339.96 L331.1,338.86 L331.5,337.85 L331.9,336.82 L332.3,335.79 L332.7,334.79 L333.1,333.86 L333.5,333.01 L333.9,332.27 L334.3,331.68 L334.7,331.25 L335.1,331.03 L335.5,331.02 L335.9,331.19 L336.3,331.52 L336.7,331.99 L337.1,332.57 L337.5,333.25 L337.9,334.02 L338.3,334.85 L338.7,335.73 L339.1,336.63 L339.5,337.55 L339.9,338.5 L340.3,339.72 L340.7,341.16 L341.1,342.74 L341.5,344.36 L341.9,345.94 L342.3,347.37 L342.7,348.61 L343.1,349.89 L343.5,351.16 L343.9,352.34 L344.3,353.36 L344.7,354.13 L345.1,354.59 L345.5,354.92 L345.9,355.21 L346.3,355.43 L346.7,355.57 L347.1,355.59 L347.5,355.42 L347.9,355.08 L348.3,354.61 L348.7,354.07 L349.1,353.51 L349.5,353 L349.9,352.45 L350.3,351.79 L350.7,351.06 L351.1,350.3 L351.5,349.55 L351.9,348.87 L352.3,348.29 L352.7,347.87 L353.1,347.63 L353.5,347.62 L353.9,347.74 L354.3,347.98 L354.7,348.31 L355.1,348.72 L355.5,349.18 L355.9,349.69 L356.3,350.23 L356.7,350.81 L357.1,351.61 L357.5,352.62 L357.9,353.76 L358.3,354.99 L358.7,356.22 L359.1,357.42 L359.5,358.5 L359.9,359.56 L360.3,360.67 L360.7,361.77 L361.1,362.8 L361.5,363.69 L361.9,364.37 L362.3,364.83 L362.7,365.18 L363.1,365.48 L363.5,365.8 L363.5,365.8 L363.9,365.26 L364.3,364.7 L364.7,364.14 L365.1,363.6 L365.5,363.08 L365.9,362.61 L366.3,362.17 L366.7,361.71 L367.1,361.24 L367.5,360.77 L367.9,360.3 L368.3,359.84 L368.7,359.41 L369.1,359.01 L369.5,358.64 L369.9,358.33 L370.3,358.07 L370.7,357.87 L371.1,357.74 L371.5,357.7 L371.9,357.76 L372.3,357.93 L372.7,358.2 L373.1,358.55 L373.5,358.97 L373.9,359.44 L374.3,359.95 L374.7,360.48 L375.1,361.02 L375.5,361.55 L375.9,362.06 L376.3,362.53 L376.7,362.95 L377.1,363.3 L377.5,363.57 L377.9,363.74 L378.3,363.8 L378.7,363.78 L379.1,363.73 L379.5,363.66 L379.9,363.55 L380.3,363.43 L380.7,363.28 L381.1,363.12 L381.5,362.95 L381.9,362.76 L382.3,362.57 L382.7,362.37 L383.1,362.18 L383.5,361.98 L383.9,361.79 L384.3,361.61 L384.7,361.44 L385.1,361.28 L385.5,361.14 L385.9,361.02 L386.3,360.92 L386.7,360.85 L387.1,360.81 L387.5,360.8 L387.9,360.83 L388.3,360.89 L388.7,360.98 L389.1,361.1 L389.5,361.24 L389.9,361.39 L390.3,361.56 L390.7,361.74 L391.1,361.93 L391.5,362.12 L391.9,362.31 L392.3,362.49 L392.7,362.67 L393.1,362.83 L393.5,362.97 L393.9,363.09 L394.3,363.19 L394.7,363.26 L395.1,363.3 L395.5,363.3 L395.9,363.26 L396.3,363.2 L396.7,363.12 L397.1,363.01 L397.5,362.89 L397.9,362.75 L398.3,362.61 L398.7,362.46 L399.1,362.31 L399.5,362.16 L399.9,362.01 L400.3,361.88 L400.7,361.76 L401.1,361.66 L401.5,361.58 L401.9,361.53 L402.3,361.5 L402.7,361.52 L403.1,361.6 L403.5,361.74 L403.9,361.92 L404.3,362.15 L404.7,362.42 L405.1,362.72 L405.5,363.04 L405.9,363.38 L406.3,363.72 L406.7,364.08 L407.1,364.43 L407.5,364.77 L407.9,365.09 L408.3,365.39 L408.6,365.6 L408.6,365.6 L409,365.28 L409.4,364.95 L409.8,364.59 L410.2,364.22 L410.6,363.84 L411,363.44 L411.4,363.04 L411.8,362.64 L412.2,362.23 L412.6,361.83 L413,361.42 L413.4,361.02 L413.8,360.63 L414.2,360.25 L414.6,359.89 L415,359.54 L415.4,359.21 L415.8,358.9 L416.2,358.61 L416.6,358.36 L417,358.13 L417.4,357.93 L417.8,357.76 L418.2,357.64 L418.6,357.55 L419,357.51 L419.4,357.51 L419.8,357.55 L420.2,357.63 L420.6,357.75 L421,357.91 L421.4,358.09 L421.8,358.3 L422.2,358.53 L422.6,358.77 L423,359.03 L423.4,359.3 L423.8,359.58 L424.2,359.85 L424.6,360.13 L425,360.4 L425.4,360.67 L425.8,360.91 L426.2,361.15 L426.6,361.36 L427,361.55 L427.4,361.71 L427.8,361.84 L428.2,361.93 L428.6,361.99 L429,362 L429.4,361.97 L429.8,361.92 L430.2,361.84 L430.6,361.74 L431,361.62 L431.4,361.48 L431.8,361.33 L432.2,361.17 L432.6,361 L433,360.84 L433.4,360.67 L433.8,360.51 L434.2,360.36 L434.6,360.22 L435,360.09 L435.4,359.98 L435.8,359.9 L436.2,359.84 L436.6,359.8 L437,359.81 L437.4,359.87 L437.8,359.98 L438.2,360.14 L438.6,360.35 L439,360.6 L439.4,360.88 L439.8,361.19 L440.2,361.54 L440.6,361.9 L441,362.28 L441.4,362.67 L441.8,363.08 L442.2,363.48 L442.6,363.89 L443,364.29 L443.4,364.68 L443.8,365.05 L444.2,365.41 L444.6,365.74 L444.8,365.9 L444.8,365.9 L449.5,366.5" fill="none" stroke="#111" stroke-width="1.35" stroke-linejoin="round"/>
<g fill="url(#bd)"><circle cx="246.3" cy="351.6" r="2.2"/><circle cx="247.42" cy="351.67" r="2.2"/><circle cx="248.54" cy="351.75" r="2.2"/><circle cx="249.66" cy="351.83" r="2.2"/><circle cx="250.78" cy="351.88" r="2.2"/><circle cx="251.9" cy="351.89" r="2.2"/><circle cx="253.02" cy="351.61" r="2.2"/><circle cx="254.14" cy="351.04" r="2.2"/><circle cx="255.26" cy="350.36" r="2.2"/><circle cx="256.38" cy="349.75" r="2.2"/><circle cx="257.5" cy="349.26" r="2.2"/><circle cx="258.62" cy="348.76" r="2.2"/><circle cx="259.74" cy="348.29" r="2.2"/><circle cx="260.86" cy="347.85" r="2.2"/><circle cx="261.98" cy="347.49" r="2.2"/><circle cx="263.1" cy="347.22" r="2.2"/><circle cx="264.22" cy="346.92" r="2.2"/><circle cx="265.34" cy="346.49" r="2.2"/><circle cx="266.46" cy="345.83" r="2.2"/><circle cx="267.58" cy="344.85" r="2.2"/><circle cx="268.7" cy="343.25" r="2.2"/><circle cx="269.82" cy="340.68" r="2.2"/><circle cx="270.94" cy="338.04" r="2.2"/><circle cx="272.06" cy="335.06" r="2.2"/><circle cx="273.18" cy="331.5" r="2.2"/><circle cx="274.3" cy="327.84" r="2.2"/><circle cx="275.42" cy="324.76" r="2.2"/><circle cx="276.54" cy="322.11" r="2.2"/><circle cx="277.66" cy="319.6" r="2.2"/><circle cx="278.78" cy="317.11" r="2.2"/><circle cx="279.9" cy="314.72" r="2.2"/><circle cx="281.02" cy="311.85" r="2.2"/><circle cx="282.14" cy="307.86" r="2.2"/><circle cx="283.26" cy="302.7" r="2.2"/><circle cx="284.38" cy="297.15" r="2.2"/><circle cx="285.5" cy="290.87" r="2.2"/><circle cx="286.62" cy="284.24" r="2.2"/><circle cx="287.74" cy="278.12" r="2.2"/><circle cx="288.86" cy="271.22" r="2.2"/><circle cx="289.98" cy="263.24" r="2.2"/><circle cx="291.1" cy="256.67" r="2.2"/><circle cx="292.22" cy="251.51" r="2.2"/><circle cx="293.34" cy="246.46" r="2.2"/><circle cx="294.46" cy="241.19" r="2.2"/><circle cx="295.58" cy="237.95" r="2.2"/><circle cx="296.7" cy="236.64" r="2.2"/><circle cx="297.82" cy="236.36" r="2.2"/><circle cx="298.94" cy="237.24" r="2.2"/><circle cx="300.06" cy="239.68" r="2.2"/><circle cx="301.18" cy="245.55" r="2.2"/><circle cx="302.3" cy="251.71" r="2.2"/><circle cx="303.42" cy="259.21" r="2.2"/><circle cx="304.54" cy="269.81" r="2.2"/><circle cx="305.66" cy="278.99" r="2.2"/><circle cx="306.78" cy="287.39" r="2.2"/><circle cx="307.9" cy="296.91" r="2.2"/><circle cx="309.02" cy="307.9" r="2.2"/><circle cx="310.14" cy="316.65" r="2.2"/><circle cx="311.26" cy="327.52" r="2.2"/><circle cx="312.38" cy="335.23" r="2.2"/><circle cx="313.5" cy="340.94" r="2.2"/><circle cx="314.62" cy="344.63" r="2.2"/><circle cx="315.74" cy="345.26" r="2.2"/><circle cx="316.86" cy="344.58" r="2.2"/><circle cx="317.98" cy="343.89" r="2.2"/><circle cx="319.1" cy="343.5" r="2.2"/><circle cx="320.22" cy="343.99" r="2.2"/><circle cx="321.34" cy="345.1" r="2.2"/><circle cx="322.46" cy="346.54" r="2.2"/><circle cx="323.58" cy="348.05" r="2.2"/><circle cx="324.7" cy="350.07" r="2.2"/><circle cx="325.82" cy="352.52" r="2.2"/><circle cx="326.94" cy="354.82" r="2.2"/><circle cx="328.06" cy="356.46" r="2.2"/><circle cx="329.18" cy="357.91" r="2.2"/><circle cx="330.3" cy="359.08" r="2.2"/><circle cx="331.42" cy="359.6" r="2.2"/><circle cx="332.54" cy="359.41" r="2.2"/><circle cx="333.66" cy="358.92" r="2.2"/><circle cx="334.78" cy="358.31" r="2.2"/><circle cx="335.9" cy="357.81" r="2.2"/><circle cx="337.02" cy="357.6" r="2.2"/><circle cx="338.14" cy="357.97" r="2.2"/><circle cx="339.26" cy="358.87" r="2.2"/><circle cx="340.38" cy="360" r="2.2"/><circle cx="341.5" cy="361.08" r="2.2"/><circle cx="342.62" cy="362" r="2.2"/><circle cx="343.74" cy="362.99" r="2.2"/><circle cx="344.86" cy="363.58" r="2.2"/><circle cx="345.98" cy="363.53" r="2.2"/><circle cx="347.1" cy="363.3" r="2.2"/><circle cx="348.22" cy="362.97" r="2.2"/><circle cx="349.34" cy="362.63" r="2.2"/><circle cx="350.46" cy="362.35" r="2.2"/><circle cx="351.58" cy="362.2" r="2.2"/><circle cx="352.7" cy="362.28" r="2.2"/><circle cx="353.82" cy="362.54" r="2.2"/><circle cx="354.94" cy="362.94" r="2.2"/><circle cx="356.06" cy="363.4" r="2.2"/><circle cx="357.18" cy="363.85" r="2.2"/><circle cx="358.3" cy="364.22" r="2.2"/><circle cx="359.42" cy="364.46" r="2.2"/><circle cx="360.54" cy="364.49" r="2.2"/><circle cx="361.66" cy="364.39" r="2.2"/><circle cx="362.78" cy="364.21" r="2.2"/><circle cx="363.9" cy="363.98" r="2.2"/><circle cx="365.02" cy="363.73" r="2.2"/><circle cx="366.14" cy="363.52" r="2.2"/><circle cx="367.26" cy="363.36" r="2.2"/><circle cx="368.38" cy="363.3" r="2.2"/><circle cx="369.5" cy="363.39" r="2.2"/><circle cx="370.62" cy="363.61" r="2.2"/><circle cx="371.74" cy="363.91" r="2.2"/><circle cx="372.86" cy="364.24" r="2.2"/><circle cx="373.98" cy="364.54" r="2.2"/><circle cx="375.1" cy="364.74" r="2.2"/><circle cx="376.22" cy="364.8" r="2.2"/><circle cx="377.34" cy="364.79" r="2.2"/><circle cx="378.46" cy="364.77" r="2.2"/><circle cx="379.58" cy="364.75" r="2.2"/><circle cx="380.7" cy="364.72" r="2.2"/><circle cx="381.82" cy="364.69" r="2.2"/><circle cx="382.94" cy="364.66" r="2.2"/><circle cx="384.06" cy="364.63" r="2.2"/><circle cx="385.18" cy="364.61" r="2.2"/><circle cx="386.3" cy="364.6" r="2.2"/><circle cx="387.42" cy="364.6" r="2.2"/><circle cx="388.54" cy="364.62" r="2.2"/><circle cx="389.66" cy="364.65" r="2.2"/><circle cx="390.78" cy="364.69" r="2.2"/><circle cx="391.9" cy="364.74" r="2.2"/><circle cx="393.02" cy="364.79" r="2.2"/><circle cx="394.14" cy="364.83" r="2.2"/><circle cx="395.26" cy="364.88" r="2.2"/><circle cx="396.38" cy="364.91" r="2.2"/><circle cx="397.5" cy="364.94" r="2.2"/><circle cx="398.62" cy="364.98" r="2.2"/><circle cx="399.74" cy="365.01" r="2.2"/><circle cx="400.86" cy="365.04" r="2.2"/><circle cx="401.98" cy="365.07" r="2.2"/><circle cx="403.1" cy="365.1" r="2.2"/><circle cx="404.22" cy="365.13" r="2.2"/><circle cx="405.34" cy="365.17" r="2.2"/><circle cx="406.46" cy="365.2" r="2.2"/><circle cx="407.58" cy="365.23" r="2.2"/><circle cx="408.7" cy="365.26" r="2.2"/><circle cx="409.82" cy="365.29" r="2.2"/><circle cx="410.94" cy="365.32" r="2.2"/><circle cx="412.06" cy="365.35" r="2.2"/><circle cx="413.18" cy="365.38" r="2.2"/><circle cx="414.3" cy="365.4" r="2.2"/><circle cx="415.42" cy="365.43" r="2.2"/><circle cx="416.54" cy="365.46" r="2.2"/><circle cx="417.66" cy="365.49" r="2.2"/><circle cx="418.78" cy="365.52" r="2.2"/><circle cx="419.9" cy="365.55" r="2.2"/><circle cx="421.02" cy="365.58" r="2.2"/><circle cx="422.14" cy="365.61" r="2.2"/><circle cx="423.26" cy="365.63" r="2.2"/><circle cx="424.38" cy="365.66" r="2.2"/><circle cx="425.5" cy="365.69" r="2.2"/><circle cx="426.62" cy="365.72" r="2.2"/><circle cx="427.74" cy="365.75" r="2.2"/><circle cx="428.86" cy="365.78" r="2.2"/><circle cx="429.98" cy="365.8" r="2.2"/><circle cx="431.1" cy="365.83" r="2.2"/><circle cx="432.22" cy="365.86" r="2.2"/><circle cx="433.34" cy="365.89" r="2.2"/><circle cx="434.46" cy="365.92" r="2.2"/><circle cx="435.58" cy="365.94" r="2.2"/><circle cx="436.7" cy="365.97" r="2.2"/><circle cx="437.82" cy="366" r="2.2"/><circle cx="438.94" cy="366.03" r="2.2"/><circle cx="440.06" cy="366.06" r="2.2"/><circle cx="441.18" cy="366.09" r="2.2"/><circle cx="442.3" cy="366.11" r="2.2"/><circle cx="443.42" cy="366.14" r="2.2"/><circle cx="444.54" cy="366.17" r="2.2"/><circle cx="445.66" cy="366.2" r="2.2"/><circle cx="446.78" cy="366.23" r="2.2"/><circle cx="447.9" cy="366.26" r="2.2"/><circle cx="449.02" cy="366.29" r="2.2"/></g>
<rect x="246" y="203.9" width="204" height="163.7" fill="none" stroke="#4d4d4d" stroke-width="1.2"/>
<path d="M246,367.6v3M314,367.6v3M382,367.6v3M450,367.6v3" stroke="#4d4d4d" stroke-width="1.1" fill="none"/>
<path d="M280,367.6v2M348,367.6v2M416,367.6v2" stroke="#4d4d4d" stroke-width="1.1" fill="none"/>
<text x="246" y="381.6" font-size="10.5" text-anchor="middle" font-weight="normal" fill="#1a1a1a" >0</text>
<text x="314" y="381.6" font-size="10.5" text-anchor="middle" font-weight="normal" fill="#1a1a1a" >2</text>
<text x="382" y="381.6" font-size="10.5" text-anchor="middle" font-weight="normal" fill="#1a1a1a" >4</text>
<text x="450" y="381.6" font-size="10.5" text-anchor="middle" font-weight="normal" fill="#1a1a1a" >6</text>
<text x="348.2" y="393.5" font-size="10.5" text-anchor="middle" font-weight="normal" fill="#1a1a1a" >R (Å)</text>
<text transform="translate(236.2,285.7) rotate(-90)" font-size="10.8" text-anchor="middle" fill="#1a1a1a">FT-EXAFS (arb. units)</text>
<text x="248.3" y="215" font-size="10.5" text-anchor="start" font-weight="normal" fill="#1a1a1a" >Ni k-edge</text>
<text x="284.4" y="233.6" font-size="10.9" text-anchor="start" font-weight="normal" fill="#1a1a1a" >Ni-O</text>
<line x1="386.8" y1="212" x2="405.6" y2="212" stroke="#111" stroke-width="1.3"/>
<text x="407.8" y="215.6" font-size="10.8" text-anchor="start" font-weight="normal" fill="#1a1a1a" >HE LDH</text>
<circle cx="396.1" cy="225.8" r="2.1" fill="url(#bd)"/>
<text x="407.8" y="228.7" font-size="10.8" text-anchor="start" font-weight="normal" fill="#1a1a1a" >fitting</text>
<line x1="390.6" y1="285.8" x2="390.6" y2="268.75" stroke="#8c8eba" stroke-width="3"/><line x1="390.6" y1="268.75" x2="390.6" y2="251.7" stroke="#e4252a" stroke-width="3"/><line x1="390.6" y1="285.8" x2="379.45" y2="281.4" stroke="#8c8eba" stroke-width="3"/><line x1="379.45" y1="281.4" x2="368.3" y2="277" stroke="#e4252a" stroke-width="3"/><line x1="390.6" y1="285.8" x2="376.1" y2="289.05" stroke="#8c8eba" stroke-width="3"/><line x1="376.1" y1="289.05" x2="361.6" y2="292.3" stroke="#e4252a" stroke-width="3"/><line x1="390.6" y1="285.8" x2="404.9" y2="282" stroke="#8c8eba" stroke-width="3"/><line x1="404.9" y1="282" x2="419.2" y2="278.2" stroke="#e4252a" stroke-width="3"/><line x1="390.6" y1="285.8" x2="401.35" y2="289.95" stroke="#8c8eba" stroke-width="3"/><line x1="401.35" y1="289.95" x2="412.1" y2="294.1" stroke="#e4252a" stroke-width="3"/><line x1="390.6" y1="285.8" x2="390.6" y2="302.7" stroke="#8c8eba" stroke-width="3"/><line x1="390.6" y1="302.7" x2="390.6" y2="319.6" stroke="#e4252a" stroke-width="3"/><circle cx="390.6" cy="285.8" r="7.3" fill="url(#nim)"/><text x="390.6" y="289.4" font-size="10" text-anchor="middle" fill="#111">Ni</text><circle cx="390.6" cy="251.7" r="7.9" fill="url(#om)"/><circle cx="390.6" cy="251.7" r="3.45" fill="none" stroke="#0a0000" stroke-width="1.15"/><circle cx="368.3" cy="277" r="7.8" fill="url(#om)"/><circle cx="368.3" cy="277" r="3.45" fill="none" stroke="#0a0000" stroke-width="1.15"/><circle cx="361.6" cy="292.3" r="7.8" fill="url(#om)"/><circle cx="361.6" cy="292.3" r="3.45" fill="none" stroke="#0a0000" stroke-width="1.15"/><circle cx="419.2" cy="278.2" r="7.7" fill="url(#om)"/><circle cx="419.2" cy="278.2" r="3.45" fill="none" stroke="#0a0000" stroke-width="1.15"/><circle cx="412.1" cy="294.1" r="7.5" fill="url(#om)"/><circle cx="412.1" cy="294.1" r="3.45" fill="none" stroke="#0a0000" stroke-width="1.15"/><circle cx="390.6" cy="319.6" r="7.9" fill="url(#om)"/><circle cx="390.6" cy="319.6" r="3.45" fill="none" stroke="#0a0000" stroke-width="1.15"/>
<text x="462.2" y="214.3" font-size="12" text-anchor="start" font-weight="bold" fill="#000" >f</text>
<path d="M472,356.7 L472.4,357.01 L472.8,357.35 L473.2,357.71 L473.6,358.09 L474,358.48 L474.4,358.87 L474.8,359.25 L475.2,359.62 L475.6,359.97 L476,360.3 L476.4,360.59 L476.8,360.84 L477.2,361.04 L477.6,361.19 L478,361.28 L478.4,361.3 L478.8,361.21 L479.2,361.03 L479.6,360.76 L480,360.42 L480.4,360.02 L480.8,359.57 L481.2,359.1 L481.6,358.61 L482,358.12 L482.4,357.64 L482.8,357.19 L483.2,356.78 L483.6,356.42 L484,356.13 L484.4,355.92 L484.8,355.81 L485.2,355.82 L485.6,355.94 L486,356.15 L486.4,356.45 L486.8,356.8 L487.2,357.2 L487.6,357.6 L488,358 L488.4,358.38 L488.8,358.71 L489.2,358.97 L489.6,359.14 L490,359.2 L490.4,358.81 L490.8,357.72 L491.2,356.09 L491.6,354.06 L492,351.78 L492.4,349.39 L492.8,347.05 L493.2,344.89 L493.6,342.91 L494,340.83 L494.4,338.66 L494.8,336.45 L495.2,334.25 L495.6,332.08 L496,330.01 L496.4,328.06 L496.8,326.27 L497.2,324.55 L497.6,322.86 L498,321.22 L498.4,319.66 L498.8,318.17 L499.2,316.79 L499.6,315.53 L500,314.4 L500.4,313.37 L500.8,312.4 L501.2,311.48 L501.6,310.61 L502,309.79 L502.4,309.01 L502.8,308.26 L503.2,307.55 L503.6,306.87 L504,306.23 L504.4,305.6 L504.8,305.02 L505.2,304.51 L505.6,304.04 L506,303.6 L506.4,303.19 L506.8,302.77 L507.2,302.34 L507.6,301.88 L508,301.37 L508.4,300.81 L508.8,300.17 L509.2,299.44 L509.6,298.6 L510,297.65 L510.4,296.58 L510.8,295.38 L511.2,294.07 L511.6,292.61 L512,290.7 L512.4,288.43 L512.8,286.1 L513.2,283.95 L513.6,281.93 L514,279.89 L514.4,277.75 L514.8,275.37 L515.2,272.56 L515.6,269.53 L516,266.66 L516.4,264.26 L516.8,262.21 L517.2,260.31 L517.6,258.37 L518,256.24 L518.4,253.81 L518.8,251.21 L519.2,248.6 L519.6,246.14 L520,244 L520.4,242.1 L520.8,240.33 L521.2,238.77 L521.6,237.5 L522,236.37 L522.4,235.29 L522.8,234.45 L523.2,234.02 L523.6,234.15 L524,234.72 L524.4,235.58 L524.8,236.56 L525.2,237.5 L525.6,238.35 L526,239.21 L526.4,240.15 L526.8,241.21 L527.2,242.48 L527.6,244 L528,246.32 L528.4,249.6 L528.8,253.34 L529.2,257.04 L529.6,260.37 L530,263.71 L530.4,267.53 L530.8,272.23 L531.2,277.39 L531.6,282.42 L532,286.79 L532.4,290.69 L532.8,294.51 L533.2,298.47 L533.6,302.45 L534,306.7 L534.4,311.69 L534.8,317.22 L535.2,322.49 L535.6,326.7 L536,329.8 L536.4,332.42 L536.8,334.75 L537.2,337 L537.6,339.37 L538,342.03 L538.4,344.85 L538.8,347.51 L539.2,349.71 L539.6,351.87 L540,353.96 L540.4,355.66 L540.8,356.66 L541.2,356.75 L541.6,356.37 L542,355.68 L542.4,354.73 L542.8,353.61 L543.2,352.37 L543.6,351.08 L544,349.8 L544.4,348.61 L544.8,347.57 L545.2,346.74 L545.6,346.2 L546,346 L546.4,346.02 L546.8,346.06 L547.2,346.14 L547.6,346.25 L548,346.38 L548.4,346.53 L548.8,346.71 L549.2,346.91 L549.6,347.12 L550,347.36 L550.4,347.6 L550.8,347.87 L551.2,348.18 L551.6,348.78 L552,349.6 L552.4,350.52 L552.8,351.44 L553.2,352.23 L553.6,352.79 L554,353 L554.4,352.9 L554.8,352.62 L555.2,352.2 L555.6,351.68 L556,351.1 L556.4,350.49 L556.8,349.89 L557.2,349.35 L557.6,348.89 L558,348.42 L558.4,347.91 L558.8,347.38 L559.2,346.85 L559.6,346.34 L560,345.88 L560.4,345.48 L560.8,345.17 L561.2,344.97 L561.6,344.9 L562,344.96 L562.4,345.12 L562.8,345.38 L563.2,345.72 L563.6,346.13 L564,346.61 L564.4,347.13 L564.8,347.7 L565.2,348.28 L565.6,348.89 L566,349.5 L566.4,350.1 L566.8,350.82 L567.2,351.75 L567.6,352.85 L568,354.07 L568.4,355.35 L568.8,356.66 L569.2,357.94 L569.6,359.14 L570,360.22 L570.4,361.12 L570.8,361.8 L571.2,362.2 L571.6,362.3 L572,362.2 L572.4,361.99 L572.8,361.68 L573.2,361.27 L573.6,360.78 L574,360.22 L574.4,359.61 L574.8,358.95 L575.2,358.25 L575.6,357.54 L576,356.81 L576.4,356.08 L576.8,355.37 L577.2,354.68 L577.6,354.03 L578,353.43 L578.4,352.89 L578.8,352.42 L579.2,352.04 L579.6,351.75 L580,351.56 L580.4,351.5 L580.8,351.56 L581.2,351.74 L581.6,352.01 L582,352.38 L582.4,352.83 L582.8,353.34 L583.2,353.92 L583.6,354.54 L584,355.19 L584.4,355.86 L584.8,356.55 L585.2,357.24 L585.6,357.91 L586,358.56 L586.4,359.18 L586.8,359.76 L587.2,360.27 L587.6,360.72 L588,361.09 L588.4,361.36 L588.8,361.54 L589.2,361.6 L589.6,361.57 L590,361.47 L590.4,361.32 L590.8,361.11 L591.2,360.86 L591.6,360.58 L592,360.26 L592.4,359.92 L592.8,359.56 L593.2,359.18 L593.6,358.8 L594,358.42 L594.4,358.04 L594.8,357.68 L595.2,357.34 L595.6,357.02 L596,356.74 L596.4,356.49 L596.8,356.28 L597.2,356.13 L597.6,356.03 L598,356 L598.4,356.03 L598.8,356.13 L599.2,356.29 L599.6,356.5 L600,356.75 L600.4,357.03 L600.8,357.35 L601.2,357.69 L601.6,358.04 L602,358.41 L602.4,358.77 L602.8,359.13 L603.2,359.48 L603.6,359.81 L604,360.11 L604.4,360.38 L604.8,360.61 L605.2,360.8 L605.6,360.92 L606,360.99 L606.4,360.99 L606.8,360.95 L607.2,360.86 L607.6,360.74 L608,360.58 L608.4,360.4 L608.8,360.19 L609.2,359.97 L609.6,359.73 L610,359.49 L610.4,359.24 L610.8,358.99 L611.2,358.75 L611.6,358.52 L612,358.3 L612.4,358.11 L612.8,357.94 L613.2,357.8 L613.6,357.69 L614,357.62 L614.4,357.6 L614.8,357.62 L615.2,357.69 L615.6,357.79 L616,357.93 L616.4,358.1 L616.8,358.3 L617.2,358.52 L617.6,358.75 L618,359 L618.4,359.26 L618.8,359.52 L619.2,359.78 L619.6,360.04 L620,360.29 L620.4,360.53 L620.8,360.75 L621.2,360.95 L621.6,361.13 L622,361.27 L622.4,361.39 L622.8,361.46 L623.2,361.5 L623.6,361.49 L624,361.45 L624.4,361.38 L624.8,361.28 L625.2,361.16 L625.6,361.03 L626,360.88 L626.4,360.72 L626.8,360.55 L627.2,360.37 L627.6,360.2 L628,360.03 L628.4,359.86 L628.8,359.71 L629.2,359.57 L629.6,359.44 L630,359.34 L630.4,359.27 L630.8,359.22 L631.2,359.2 L631.6,359.21 L632,359.25 L632.4,359.32 L632.8,359.4 L633.2,359.51 L633.6,359.63 L634,359.77 L634.4,359.91 L634.8,360.07 L635.2,360.24 L635.6,360.41 L636,360.58 L636.4,360.75 L636.8,360.92 L637.2,361.09 L637.6,361.25 L638,361.4 L638.4,361.54 L638.8,361.66 L639.2,361.77 L639.6,361.86 L640,361.93 L640.4,361.98 L640.8,362 L641.2,362 L641.6,362 L642,361.99 L642.4,361.99 L642.8,361.98 L643.2,361.97 L643.6,361.96 L644,361.95 L644.4,361.94 L644.8,361.93 L645.2,361.92 L645.6,361.91 L646,361.91 L646.4,361.9 L646.8,361.9 L647.2,361.9 L647.6,361.92 L648,361.97 L648.4,362.04 L648.8,362.12 L649.2,362.23 L649.6,362.35 L650,362.48 L650.4,362.63 L650.8,362.78 L651.2,362.93 L651.6,363.09 L652,363.25 L652.4,363.4 L652.8,363.54 L653.2,363.68 L653.6,363.81 L654,363.92 L654.4,364.02 L654.8,364.1 L655.2,364.16 L655.6,364.19 L656,364.2 L656.4,364.18 L656.8,364.15 L657.2,364.1 L657.6,364.03 L658,363.95 L658.4,363.85 L658.8,363.75 L659.2,363.64 L659.6,363.53 L660,363.41 L660.4,363.28 L660.8,363.16 L661.2,363.05 L661.6,362.93 L662,362.82 L662.4,362.72 L662.8,362.63 L663.2,362.55 L663.6,362.49 L664,362.44 L664.4,362.41 L664.8,362.4 L665.2,362.4 L665.6,362.42 L666,362.43 L666.4,362.46 L666.8,362.49 L667.2,362.53 L667.6,362.57 L668,362.62 L668.4,362.67 L668.8,362.72 L669.2,362.78 L669.6,362.84 L670,362.91 L670.4,362.98 L670.8,363.04 L671.2,363.11 L671.6,363.18 L672,363.25 L672.4,363.32 L672.8,363.39 L673.2,363.46 L673.6,363.53 L674,363.59 L674.4,363.66 L674.8,363.72 L675.2,363.77 L675.4,363.8" fill="none" stroke="#111" stroke-width="1.35" stroke-linejoin="round"/>
<g fill="url(#pd)"><circle cx="472" cy="353.3" r="2.2"/><circle cx="473.12" cy="353.48" r="2.2"/><circle cx="474.24" cy="353.69" r="2.2"/><circle cx="475.36" cy="353.9" r="2.2"/><circle cx="476.48" cy="354.07" r="2.2"/><circle cx="477.6" cy="354.18" r="2.2"/><circle cx="478.72" cy="354.15" r="2.2"/><circle cx="479.84" cy="353.65" r="2.2"/><circle cx="480.96" cy="352.76" r="2.2"/><circle cx="482.08" cy="351.67" r="2.2"/><circle cx="483.2" cy="350.59" r="2.2"/><circle cx="484.32" cy="349.71" r="2.2"/><circle cx="485.44" cy="349.23" r="2.2"/><circle cx="486.56" cy="349.25" r="2.2"/><circle cx="487.68" cy="349.45" r="2.2"/><circle cx="488.8" cy="349.72" r="2.2"/><circle cx="489.92" cy="349.93" r="2.2"/><circle cx="491.04" cy="349.97" r="2.2"/><circle cx="492.16" cy="349.13" r="2.2"/><circle cx="493.28" cy="347.48" r="2.2"/><circle cx="494.4" cy="345.51" r="2.2"/><circle cx="495.52" cy="343.66" r="2.2"/><circle cx="496.64" cy="341.76" r="2.2"/><circle cx="497.76" cy="339.69" r="2.2"/><circle cx="498.88" cy="337.56" r="2.2"/><circle cx="500" cy="335.5" r="2.2"/><circle cx="501.12" cy="333.6" r="2.2"/><circle cx="502.24" cy="331.77" r="2.2"/><circle cx="503.36" cy="329.84" r="2.2"/><circle cx="504.48" cy="327.63" r="2.2"/><circle cx="505.6" cy="325.16" r="2.2"/><circle cx="506.72" cy="322.31" r="2.2"/><circle cx="507.84" cy="318.76" r="2.2"/><circle cx="508.96" cy="313.76" r="2.2"/><circle cx="510.08" cy="306.18" r="2.2"/><circle cx="511.2" cy="295.92" r="2.2"/><circle cx="512.32" cy="288.21" r="2.2"/><circle cx="513.44" cy="282.84" r="2.2"/><circle cx="514.56" cy="276.5" r="2.2"/><circle cx="515.68" cy="268.66" r="2.2"/><circle cx="516.8" cy="262.26" r="2.2"/><circle cx="517.92" cy="256.69" r="2.2"/><circle cx="519.04" cy="249.63" r="2.2"/><circle cx="520.16" cy="243.23" r="2.2"/><circle cx="521.28" cy="238.49" r="2.2"/><circle cx="522.4" cy="235.29" r="2.2"/><circle cx="523.52" cy="234.08" r="2.2"/><circle cx="524.64" cy="236.16" r="2.2"/><circle cx="525.76" cy="238.69" r="2.2"/><circle cx="526.88" cy="241.45" r="2.2"/><circle cx="528" cy="246.32" r="2.2"/><circle cx="529.12" cy="256.33" r="2.2"/><circle cx="530.24" cy="265.91" r="2.2"/><circle cx="531.36" cy="279.46" r="2.2"/><circle cx="532.48" cy="291.44" r="2.2"/><circle cx="533.6" cy="302.45" r="2.2"/><circle cx="534.72" cy="316.15" r="2.2"/><circle cx="535.84" cy="328.52" r="2.2"/><circle cx="536.96" cy="335.04" r="2.2"/><circle cx="538.08" cy="344.76" r="2.2"/><circle cx="539.2" cy="350.94" r="2.2"/><circle cx="540.32" cy="352.93" r="2.2"/><circle cx="541.44" cy="351.1" r="2.2"/><circle cx="542.56" cy="348.58" r="2.2"/><circle cx="543.68" cy="346.07" r="2.2"/><circle cx="544.8" cy="344.52" r="2.2"/><circle cx="545.92" cy="343.66" r="2.2"/><circle cx="547.04" cy="343.45" r="2.2"/><circle cx="548.16" cy="344.59" r="2.2"/><circle cx="549.28" cy="346.44" r="2.2"/><circle cx="550.4" cy="349.13" r="2.2"/><circle cx="551.52" cy="352.29" r="2.2"/><circle cx="552.64" cy="355.4" r="2.2"/><circle cx="553.76" cy="358.52" r="2.2"/><circle cx="554.88" cy="360.68" r="2.2"/><circle cx="556" cy="361.91" r="2.2"/><circle cx="557.12" cy="362.58" r="2.2"/><circle cx="558.24" cy="362.16" r="2.2"/><circle cx="559.36" cy="360.82" r="2.2"/><circle cx="560.48" cy="359.17" r="2.2"/><circle cx="561.6" cy="357.79" r="2.2"/><circle cx="562.72" cy="357.3" r="2.2"/><circle cx="563.84" cy="357.76" r="2.2"/><circle cx="564.96" cy="358.77" r="2.2"/><circle cx="566.08" cy="360.07" r="2.2"/><circle cx="567.2" cy="361.38" r="2.2"/><circle cx="568.32" cy="362.88" r="2.2"/><circle cx="569.44" cy="364.72" r="2.2"/><circle cx="570.56" cy="365.91" r="2.2"/><circle cx="571.68" cy="365.83" r="2.2"/><circle cx="572.8" cy="365.09" r="2.2"/><circle cx="573.92" cy="364.01" r="2.2"/><circle cx="575.04" cy="362.82" r="2.2"/><circle cx="576.16" cy="361.77" r="2.2"/><circle cx="577.28" cy="361.11" r="2.2"/><circle cx="578.4" cy="361.04" r="2.2"/><circle cx="579.52" cy="361.37" r="2.2"/><circle cx="580.64" cy="361.97" r="2.2"/><circle cx="581.76" cy="362.72" r="2.2"/><circle cx="582.88" cy="363.51" r="2.2"/><circle cx="584" cy="364.26" r="2.2"/><circle cx="585.12" cy="364.84" r="2.2"/><circle cx="586.24" cy="365.17" r="2.2"/><circle cx="587.36" cy="365.13" r="2.2"/><circle cx="588.48" cy="364.75" r="2.2"/><circle cx="589.6" cy="364.19" r="2.2"/><circle cx="590.72" cy="363.59" r="2.2"/><circle cx="591.84" cy="363.11" r="2.2"/><circle cx="592.96" cy="362.9" r="2.2"/><circle cx="594.08" cy="363.04" r="2.2"/><circle cx="595.2" cy="363.41" r="2.2"/><circle cx="596.32" cy="363.91" r="2.2"/><circle cx="597.44" cy="364.46" r="2.2"/><circle cx="598.56" cy="364.96" r="2.2"/><circle cx="599.68" cy="365.3" r="2.2"/><circle cx="600.8" cy="365.4" r="2.2"/><circle cx="601.92" cy="365.28" r="2.2"/><circle cx="603.04" cy="365.03" r="2.2"/><circle cx="604.16" cy="364.71" r="2.2"/><circle cx="605.28" cy="364.38" r="2.2"/><circle cx="606.4" cy="364.1" r="2.2"/><circle cx="607.52" cy="363.93" r="2.2"/><circle cx="608.64" cy="363.91" r="2.2"/><circle cx="609.76" cy="363.96" r="2.2"/><circle cx="610.88" cy="364.06" r="2.2"/><circle cx="612" cy="364.19" r="2.2"/><circle cx="613.12" cy="364.35" r="2.2"/><circle cx="614.24" cy="364.52" r="2.2"/><circle cx="615.36" cy="364.69" r="2.2"/><circle cx="616.48" cy="364.86" r="2.2"/><circle cx="617.6" cy="365" r="2.2"/><circle cx="618.72" cy="365.12" r="2.2"/><circle cx="619.84" cy="365.19" r="2.2"/><circle cx="620.96" cy="365.24" r="2.2"/><circle cx="622.08" cy="365.28" r="2.2"/><circle cx="623.2" cy="365.32" r="2.2"/><circle cx="624.32" cy="365.36" r="2.2"/><circle cx="625.44" cy="365.39" r="2.2"/><circle cx="626.56" cy="365.43" r="2.2"/><circle cx="627.68" cy="365.46" r="2.2"/><circle cx="628.8" cy="365.5" r="2.2"/><circle cx="629.92" cy="365.53" r="2.2"/><circle cx="631.04" cy="365.56" r="2.2"/><circle cx="632.16" cy="365.59" r="2.2"/><circle cx="633.28" cy="365.61" r="2.2"/><circle cx="634.4" cy="365.64" r="2.2"/><circle cx="635.52" cy="365.67" r="2.2"/><circle cx="636.64" cy="365.69" r="2.2"/><circle cx="637.76" cy="365.71" r="2.2"/><circle cx="638.88" cy="365.74" r="2.2"/><circle cx="640" cy="365.76" r="2.2"/><circle cx="641.12" cy="365.78" r="2.2"/><circle cx="642.24" cy="365.8" r="2.2"/><circle cx="643.36" cy="365.82" r="2.2"/><circle cx="644.48" cy="365.84" r="2.2"/><circle cx="645.6" cy="365.85" r="2.2"/><circle cx="646.72" cy="365.87" r="2.2"/><circle cx="647.84" cy="365.89" r="2.2"/><circle cx="648.96" cy="365.9" r="2.2"/><circle cx="650.08" cy="365.92" r="2.2"/><circle cx="651.2" cy="365.94" r="2.2"/><circle cx="652.32" cy="365.95" r="2.2"/><circle cx="653.44" cy="365.97" r="2.2"/><circle cx="654.56" cy="365.98" r="2.2"/><circle cx="655.68" cy="366" r="2.2"/><circle cx="656.8" cy="366.01" r="2.2"/><circle cx="657.92" cy="366.03" r="2.2"/><circle cx="659.04" cy="366.04" r="2.2"/><circle cx="660.16" cy="366.06" r="2.2"/><circle cx="661.28" cy="366.07" r="2.2"/><circle cx="662.4" cy="366.09" r="2.2"/><circle cx="663.52" cy="366.1" r="2.2"/><circle cx="664.64" cy="366.12" r="2.2"/><circle cx="665.76" cy="366.14" r="2.2"/><circle cx="666.88" cy="366.15" r="2.2"/><circle cx="668" cy="366.17" r="2.2"/><circle cx="669.12" cy="366.19" r="2.2"/><circle cx="670.24" cy="366.21" r="2.2"/><circle cx="671.36" cy="366.23" r="2.2"/><circle cx="672.48" cy="366.24" r="2.2"/><circle cx="673.6" cy="366.27" r="2.2"/><circle cx="674.72" cy="366.29" r="2.2"/></g>
<rect x="471.8" y="203.4" width="204" height="164.1" fill="none" stroke="#4d4d4d" stroke-width="1.2"/>
<path d="M471.8,367.5v3M539.7,367.5v3M607.6,367.5v3M675.5,367.5v3" stroke="#4d4d4d" stroke-width="1.1" fill="none"/>
<path d="M505.75,367.5v2M573.65,367.5v2M641.55,367.5v2" stroke="#4d4d4d" stroke-width="1.1" fill="none"/>
<text x="471.8" y="381.7" font-size="10.5" text-anchor="middle" font-weight="normal" fill="#1a1a1a" >0</text>
<text x="539.7" y="381.7" font-size="10.5" text-anchor="middle" font-weight="normal" fill="#1a1a1a" >2</text>
<text x="607.6" y="381.7" font-size="10.5" text-anchor="middle" font-weight="normal" fill="#1a1a1a" >4</text>
<text x="675.5" y="381.7" font-size="10.5" text-anchor="middle" font-weight="normal" fill="#1a1a1a" >6</text>
<text x="574" y="393.7" font-size="10.5" text-anchor="middle" font-weight="normal" fill="#1a1a1a" >R (Å)</text>
<text transform="translate(461.8,285.4) rotate(-90)" font-size="10.8" text-anchor="middle" fill="#1a1a1a">FT-EXAFS (arb. units)</text>
<text x="474.7" y="215" font-size="10.5" text-anchor="start" font-weight="normal" fill="#1a1a1a" >Ni k-edge</text>
<text x="511.2" y="230" font-size="10.9" text-anchor="start" font-weight="normal" fill="#1a1a1a" >Ni-O</text>
<line x1="595.8" y1="211.6" x2="614.4" y2="211.6" stroke="#111" stroke-width="1.3"/>
<text x="617.2" y="214.1" font-size="10.75" text-anchor="start" font-weight="normal" fill="#1a1a1a" >Na-HE LDH</text>
<circle cx="605.1" cy="224.8" r="2.1" fill="url(#pd)"/>
<text x="617.2" y="228" font-size="10.75" text-anchor="start" font-weight="normal" fill="#1a1a1a" >fitting</text>
<line x1="611.6" y1="281.6" x2="611.6" y2="265.35" stroke="#8c8eba" stroke-width="3"/><line x1="611.6" y1="265.35" x2="611.6" y2="249.1" stroke="#e4252a" stroke-width="3"/><line x1="611.6" y1="281.6" x2="601.35" y2="277.05" stroke="#8c8eba" stroke-width="3"/><line x1="601.35" y1="277.05" x2="591.1" y2="272.5" stroke="#e4252a" stroke-width="3"/><line x1="611.6" y1="281.6" x2="597.4" y2="284.65" stroke="#8c8eba" stroke-width="3"/><line x1="597.4" y1="284.65" x2="583.2" y2="287.7" stroke="#e4252a" stroke-width="3"/><line x1="611.6" y1="281.6" x2="625.25" y2="277.85" stroke="#8c8eba" stroke-width="3"/><line x1="625.25" y1="277.85" x2="638.9" y2="274.1" stroke="#e4252a" stroke-width="3"/><line x1="611.6" y1="281.6" x2="611.6" y2="297.15" stroke="#8c8eba" stroke-width="3"/><line x1="611.6" y1="297.15" x2="611.6" y2="312.7" stroke="#e4252a" stroke-width="3"/><line x1="611.6" y1="281.6" x2="631.97" y2="292.31" stroke="#e53a3e" stroke-width="0.9"/><circle cx="638.9" cy="294.5" r="7.3" fill="#fff" stroke="#f03a3e" stroke-width="1.1" stroke-dasharray="1.6 1"/><circle cx="611.6" cy="281.6" r="7.3" fill="url(#nim)"/><text x="611.6" y="285.2" font-size="10" text-anchor="middle" fill="#111">Ni</text><circle cx="611.6" cy="249.1" r="7.9" fill="url(#om)"/><circle cx="611.6" cy="249.1" r="3.45" fill="none" stroke="#0a0000" stroke-width="1.15"/><circle cx="591.1" cy="272.5" r="7.8" fill="url(#om)"/><circle cx="591.1" cy="272.5" r="3.45" fill="none" stroke="#0a0000" stroke-width="1.15"/><circle cx="583.2" cy="287.7" r="7.8" fill="url(#om)"/><circle cx="583.2" cy="287.7" r="3.45" fill="none" stroke="#0a0000" stroke-width="1.15"/><circle cx="638.9" cy="274.1" r="7.7" fill="url(#om)"/><circle cx="638.9" cy="274.1" r="3.45" fill="none" stroke="#0a0000" stroke-width="1.15"/><circle cx="611.6" cy="312.7" r="7.9" fill="url(#om)"/><circle cx="611.6" cy="312.7" r="3.45" fill="none" stroke="#0a0000" stroke-width="1.15"/>
<text x="649.8" y="304.3" font-size="11" text-anchor="start" font-weight="bold" fill="#000" >V</text>
<text x="656.3" y="305.8" font-size="8" text-anchor="start" font-weight="bold" fill="#000" >o</text>
</svg></body></html>
